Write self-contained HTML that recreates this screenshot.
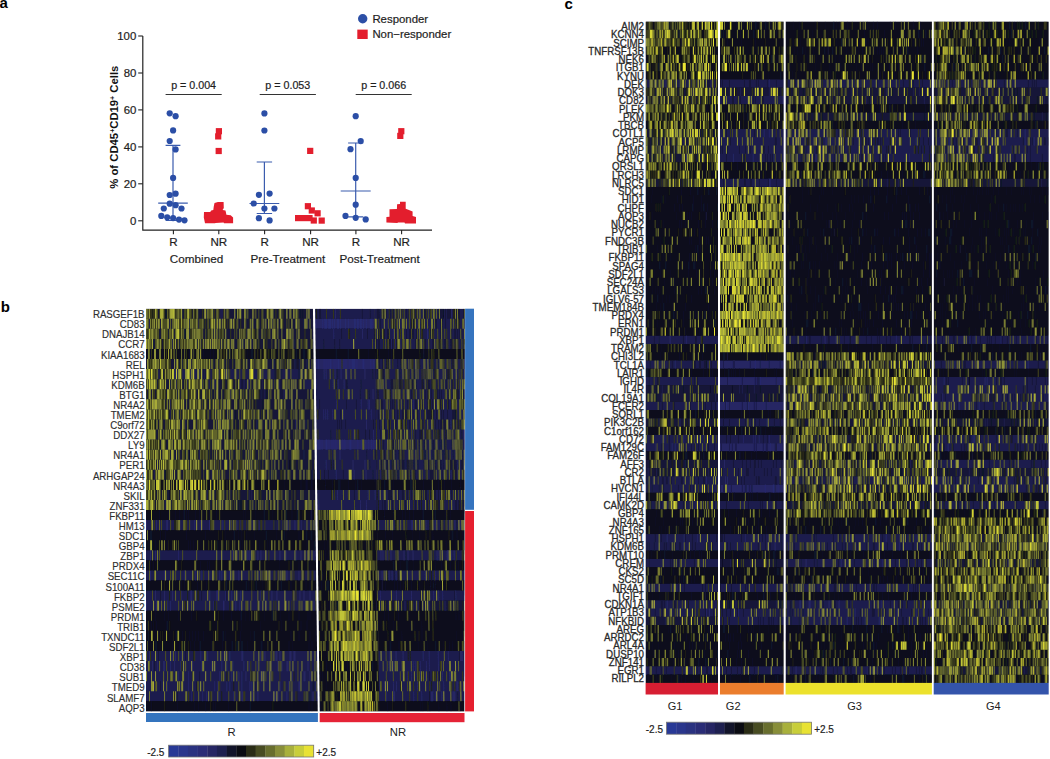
<!DOCTYPE html>
<html><head><meta charset="utf-8"><style>
html,body{margin:0;padding:0;background:#fff;}
body{width:1050px;height:759px;position:relative;overflow:hidden;font-family:"Liberation Sans",sans-serif;}
</style></head><body>
<svg width="1050" height="759" viewBox="0 0 1050 759" style="position:absolute;left:0;top:0" shape-rendering="auto">
<g font-family='"Liberation Sans", sans-serif' fill="#1e1e1e"><text x="-0.5" y="8.3" font-size="15" font-weight="bold" fill="#000">a</text>
<text x="0.8" y="311.7" font-size="15" font-weight="bold" fill="#000">b</text>
<text x="564.6" y="8.6" font-size="15" font-weight="bold" fill="#000">c</text>
<path d="M142.8 36.0V230.2H432" fill="none" stroke="#222" stroke-width="1.2"/>
<path d="M138.2 220.8H142.8" stroke="#222" stroke-width="1.1"/>
<text stroke="#1e1e1e" stroke-width="0.2" x="136.3" y="224.9" font-size="11.4" text-anchor="end">0</text>
<path d="M138.2 183.8H142.8" stroke="#222" stroke-width="1.1"/>
<text stroke="#1e1e1e" stroke-width="0.2" x="136.3" y="187.9" font-size="11.4" text-anchor="end">20</text>
<path d="M138.2 146.9H142.8" stroke="#222" stroke-width="1.1"/>
<text stroke="#1e1e1e" stroke-width="0.2" x="136.3" y="151.0" font-size="11.4" text-anchor="end">40</text>
<path d="M138.2 109.9H142.8" stroke="#222" stroke-width="1.1"/>
<text stroke="#1e1e1e" stroke-width="0.2" x="136.3" y="114.0" font-size="11.4" text-anchor="end">60</text>
<path d="M138.2 73.0H142.8" stroke="#222" stroke-width="1.1"/>
<text stroke="#1e1e1e" stroke-width="0.2" x="136.3" y="77.1" font-size="11.4" text-anchor="end">80</text>
<path d="M138.2 36.0H142.8" stroke="#222" stroke-width="1.1"/>
<text stroke="#1e1e1e" stroke-width="0.2" x="136.3" y="40.1" font-size="11.4" text-anchor="end">100</text>
<path d="M173.4 230V234.2" stroke="#222" stroke-width="1.1"/>
<text stroke="#1e1e1e" stroke-width="0.2" x="173.4" y="245.6" font-size="11.6" text-anchor="middle">R</text>
<path d="M218.8 230V234.2" stroke="#222" stroke-width="1.1"/>
<text stroke="#1e1e1e" stroke-width="0.2" x="218.8" y="245.6" font-size="11.6" text-anchor="middle">NR</text>
<path d="M264.6 230V234.2" stroke="#222" stroke-width="1.1"/>
<text stroke="#1e1e1e" stroke-width="0.2" x="264.6" y="245.6" font-size="11.6" text-anchor="middle">R</text>
<path d="M310.6 230V234.2" stroke="#222" stroke-width="1.1"/>
<text stroke="#1e1e1e" stroke-width="0.2" x="310.6" y="245.6" font-size="11.6" text-anchor="middle">NR</text>
<path d="M355.9 230V234.2" stroke="#222" stroke-width="1.1"/>
<text stroke="#1e1e1e" stroke-width="0.2" x="355.9" y="245.6" font-size="11.6" text-anchor="middle">R</text>
<path d="M401.6 230V234.2" stroke="#222" stroke-width="1.1"/>
<text stroke="#1e1e1e" stroke-width="0.2" x="401.6" y="245.6" font-size="11.6" text-anchor="middle">NR</text>
<text stroke="#1e1e1e" stroke-width="0.2" x="196.5" y="262.8" font-size="11.7" text-anchor="middle">Combined</text>
<text stroke="#1e1e1e" stroke-width="0.2" x="287.9" y="262.8" font-size="11.7" text-anchor="middle">Pre-Treatment</text>
<text stroke="#1e1e1e" stroke-width="0.2" x="379.6" y="262.8" font-size="11.7" text-anchor="middle">Post-Treatment</text>
<path d="M165.6 94.5H221.7" stroke="#333" stroke-width="1.2"/>
<text stroke="#1e1e1e" stroke-width="0.2" x="193.6" y="88.6" font-size="10.7" text-anchor="middle">p = 0.004</text>
<path d="M259.7 94.5H315.9" stroke="#333" stroke-width="1.2"/>
<text stroke="#1e1e1e" stroke-width="0.2" x="287.8" y="88.6" font-size="10.7" text-anchor="middle">p = 0.053</text>
<path d="M355.7 94.5H411.7" stroke="#333" stroke-width="1.2"/>
<text stroke="#1e1e1e" stroke-width="0.2" x="383.7" y="88.6" font-size="10.7" text-anchor="middle">p = 0.066</text>
<text transform="translate(118.2 127.2) rotate(-90)" font-size="11.3" font-weight="bold" text-anchor="middle" fill="#111">% of CD45<tspan font-size="7" dy="-3.5">+</tspan><tspan dy="3.5">CD19</tspan><tspan font-size="7" dy="-3.5">+</tspan><tspan dy="3.5"> Cells</tspan></text>
<circle cx="362.7" cy="18.7" r="4.7" fill="#2c4fa6"/>
<rect x="357.3" y="29.6" width="10.4" height="9.4" fill="#e31e2d"/>
<text stroke="#1e1e1e" stroke-width="0.2" x="372.4" y="23" font-size="11.4">Responder</text>
<text stroke="#1e1e1e" stroke-width="0.2" x="372.4" y="37.6" font-size="11.4">Non&#8722;responder</text>
<path d="M173.0 145.3V220.5M165.6 145.3H180.4M158.2 203.2H187.8M165.6 220.5H180.4" fill="none" stroke="#3b5cae" stroke-width="1.2"/>
<path d="M264.4 162.0V213.5M256.7 162.0H272.1M249.5 203.5H279.3M256.7 213.5H272.1" fill="none" stroke="#3b5cae" stroke-width="1.2"/>
<path d="M355.7 143.0V216.8M348.1 143.0H363.3M340.7 191.0H370.7M348.1 216.8H363.3" fill="none" stroke="#3b5cae" stroke-width="1.2"/>
<circle cx="169.7" cy="113.3" r="3.1" fill="#2b4ea6"/>
<circle cx="175.6" cy="116.2" r="3.1" fill="#2b4ea6"/>
<circle cx="173.1" cy="130.4" r="3.1" fill="#2b4ea6"/>
<circle cx="169.7" cy="141.0" r="3.1" fill="#2b4ea6"/>
<circle cx="175.6" cy="149.4" r="3.1" fill="#2b4ea6"/>
<circle cx="173.1" cy="177.9" r="3.1" fill="#2b4ea6"/>
<circle cx="169.7" cy="195.0" r="3.1" fill="#2b4ea6"/>
<circle cx="175.6" cy="193.7" r="3.1" fill="#2b4ea6"/>
<circle cx="169.7" cy="203.7" r="3.1" fill="#2b4ea6"/>
<circle cx="175.6" cy="205.2" r="3.1" fill="#2b4ea6"/>
<circle cx="163.8" cy="208.5" r="3.1" fill="#2b4ea6"/>
<circle cx="181.5" cy="208.5" r="3.1" fill="#2b4ea6"/>
<circle cx="161.3" cy="215.9" r="3.1" fill="#2b4ea6"/>
<circle cx="167.2" cy="217.3" r="3.1" fill="#2b4ea6"/>
<circle cx="173.1" cy="218.1" r="3.1" fill="#2b4ea6"/>
<circle cx="179.0" cy="219.6" r="3.1" fill="#2b4ea6"/>
<circle cx="184.5" cy="220.3" r="3.1" fill="#2b4ea6"/>
<circle cx="264.4" cy="113.4" r="3.1" fill="#2b4ea6"/>
<circle cx="264.4" cy="130.5" r="3.1" fill="#2b4ea6"/>
<circle cx="258.9" cy="194.8" r="3.1" fill="#2b4ea6"/>
<circle cx="269.6" cy="193.6" r="3.1" fill="#2b4ea6"/>
<circle cx="253.7" cy="203.5" r="3.1" fill="#2b4ea6"/>
<circle cx="264.4" cy="208.5" r="3.1" fill="#2b4ea6"/>
<circle cx="274.4" cy="208.5" r="3.1" fill="#2b4ea6"/>
<circle cx="258.9" cy="218.2" r="3.1" fill="#2b4ea6"/>
<circle cx="269.6" cy="220.4" r="3.1" fill="#2b4ea6"/>
<circle cx="355.7" cy="116.2" r="3.1" fill="#2b4ea6"/>
<circle cx="360.7" cy="141.1" r="3.1" fill="#2b4ea6"/>
<circle cx="350.5" cy="149.2" r="3.1" fill="#2b4ea6"/>
<circle cx="355.7" cy="177.9" r="3.1" fill="#2b4ea6"/>
<circle cx="355.7" cy="204.7" r="3.1" fill="#2b4ea6"/>
<circle cx="345.5" cy="215.9" r="3.1" fill="#2b4ea6"/>
<circle cx="355.7" cy="217.8" r="3.1" fill="#2b4ea6"/>
<circle cx="365.7" cy="219.4" r="3.1" fill="#2b4ea6"/>
<rect x="215.8" y="128.1" width="6.2" height="6.2" fill="#e31e2d"/>
<rect x="215.1" y="133.3" width="6.2" height="6.2" fill="#e31e2d"/>
<rect x="215.6" y="147.9" width="6.2" height="6.2" fill="#e31e2d"/>
<rect x="398.2" y="128.1" width="6.2" height="6.2" fill="#e31e2d"/>
<rect x="397.2" y="132.8" width="6.2" height="6.2" fill="#e31e2d"/>
<rect x="307.1" y="147.8" width="6.2" height="6.2" fill="#e31e2d"/>
<rect x="304.8" y="203.1" width="6.2" height="6.2" fill="#e31e2d"/>
<rect x="308.7" y="207.4" width="6.2" height="6.2" fill="#e31e2d"/>
<rect x="314.5" y="210.2" width="6.2" height="6.2" fill="#e31e2d"/>
<rect x="310.7" y="217.4" width="6.2" height="6.2" fill="#e31e2d"/>
<rect x="318.6" y="217.5" width="6.2" height="6.2" fill="#e31e2d"/>
<rect x="295" y="215" width="17.6" height="6.2" fill="#e31e2d"/>
<path d="M205.0 223.3L203.8 217.6L204.0 212.1L210.2 212.1L211.2 210.5L213.3 210.0L213.8 206.2L214.5 203.1L217.9 201.9L223.6 201.9L223.8 208.1L222.6 210.0L225.5 210.5L226.4 214.8L230.7 215.2L233.1 217.6L233.1 223.3L224.0 223.3L223.6 222.4L215.5 222.9L215.0 223.3Z" fill="#e31e2d"/>
<path d="M386.4 222.6L386.4 216.9L389.5 216.7L389.5 209.3L396.9 209.0L397.1 204.3L400.0 204.0L400.0 201.7L405.7 201.7L405.7 208.8L408.3 209.8L412.6 211.4L412.6 216.0L416.0 216.9L416.0 223.6L405.0 223.6L404.5 222.4L397.9 222.6L397.4 223.1Z" fill="#e31e2d"/></g>
<defs><filter id="bl" x="-1%" y="-1%" width="102%" height="102%"><feGaussianBlur stdDeviation="0.45 0.25"/></filter></defs>
<defs><clipPath id="cR"><path d="M146 308.70H312.95L317.75 711.40H146Z"/></clipPath><clipPath id="cN"><path d="M315.05 308.70H464.9L464.3 711.40H319.65Z"/></clipPath></defs>
<g clip-path="url(#cR)"><g filter="url(#bl)">
<rect x="146.00" y="308.70" width="172.50" height="402.70" fill="#0b0c1a"/>
<rect x="146.00" y="308.70" width="172.50" height="40.27" fill="#161838"/>
<rect x="146.00" y="348.97" width="172.50" height="10.07" fill="#0b0c1a"/>
<rect x="146.00" y="359.04" width="172.50" height="10.07" fill="#161838"/>
<rect x="146.00" y="369.10" width="172.50" height="10.07" fill="#1e1f4e"/>
<rect x="146.00" y="379.17" width="172.50" height="100.67" fill="#161838"/>
<rect x="146.00" y="479.85" width="172.50" height="10.07" fill="#0b0c1a"/>
<rect x="146.00" y="489.91" width="172.50" height="20.13" fill="#161838"/>
<rect x="146.00" y="510.05" width="172.50" height="10.07" fill="#0b0c1a"/>
<rect x="146.00" y="520.12" width="172.50" height="10.07" fill="#1e1f4e"/>
<rect x="146.00" y="530.18" width="172.50" height="20.13" fill="#0b0c1a"/>
<rect x="146.00" y="550.32" width="172.50" height="10.07" fill="#1e1f4e"/>
<rect x="146.00" y="560.39" width="172.50" height="10.07" fill="#0b0c1a"/>
<rect x="146.00" y="570.45" width="172.50" height="10.07" fill="#1e1f4e"/>
<rect x="146.00" y="580.52" width="172.50" height="10.07" fill="#0b0c1a"/>
<rect x="146.00" y="590.59" width="172.50" height="20.13" fill="#1e1f4e"/>
<rect x="146.00" y="610.72" width="172.50" height="40.27" fill="#0b0c1a"/>
<rect x="146.00" y="650.99" width="172.50" height="50.34" fill="#1e1f4e"/>
<rect x="146.00" y="701.33" width="172.50" height="10.07" fill="#0b0c1a"/>
<path transform="matrix(1.0029 0 0 10.0675 146.501 308.700)" stroke="#282a6f" stroke-width="1" d="M63 21v1M71 28v1M77 29v1M142 37v1"/>
<path transform="matrix(1.0029 0 0 10.0675 146.501 308.700)" stroke="#262664" stroke-width="1" d="M29 6v1M149 11v1M0 21v1m10 -1v1m10 -1v1m1 -1v1m27 -1v1m6 -1v1m22 -1v1m14 -1v1m4 -1v1m18 -1v1m29 -1v1m7 -1v1m7 -1v1M4 24v1m5 -1v1m23 -1v1m54 -1v1m15 -1v1m2 -1v1m8 -1v1m3 -1v1m19 -1v1m6 -1v1m10 -1v1m5 -1v1m13 -1v1m3 -1v1m1 -1v1M4 26v1m14 -1v1m20 -1v1m11 -1v1m6 -1v1m18 -1v1m2 -1v1m8 -1v1m9 -1v1m48 -1v1m12 -1v1m15 -1v1m4 -1v1M9 28v1m9 -1v1m8 -1v1m9 -1v1m9 -1v1m1 -1v1m5 -1v1m13 -1v1m7 -1v1m9 -1v1m6 -1v1m9 -1v1m20 -1v1m11 -1v1m5 -1v1m23 -1v1m4 -1v1m6 -1v1M0 29v1m10 -1v1m11 -1v1m3 -1v1m43 -1v1m22 -1v1m4 -1v1m74 -1v1M3 34v1m23 -1v1m3 -1v1m6 -1v1m19 -1v1m7 -1v1m18 -1v1m4 -1v1m12 -1v1m1 -1v1m18 -1v1m4 -1v1m11 -1v1m1 -1v1m3 -1v1m10 -1v1m1 -1v1m3 -1v1m1 -1v1m22 -1v1m1 -1v1M6 35v1m5 -1v1m6 -1v1m1 -1v1m6 -1v1m4 -1v1m6 -1v1m12 -1v1m9 -1v1m10 -1v1m10 -1v1m5 -1v1m6 -1v1m11 -1v1m6 -1v1m8 -1v1m20 -1v1m4 -1v1m5 -1v1m1 -1v1m20 -1v1M32 36v1m10 -1v1m31 -1v1m12 -1v1m7 -1v1m3 -1v1m4 -1v1m15 -1v1m2 -1v1m8 -1v1m22 -1v1m11 -1v1m1 -1v1m5 -1v1M21 37v1m21 -1v1m26 -1v1m3 -1v1m9 -1v1m3 -1v1m12 -1v1m8 -1v1m2 -1v1m28 -1v1m19 -1v1m1 -1v1m16 -1v1M45 38v1m11 -1v1m4 -1v1m12 -1v1m15 -1v1m8 -1v1m1 -1v1m10 -1v1m5 -1v1m17 -1v1m3 -1v1m9 -1v1m26 -1v1m5 -1v1"/>
<path transform="matrix(1.0029 0 0 10.0675 146.501 308.700)" stroke="#1e1f4e" stroke-width="1" d="M74 0v1m1 -1v1m1 -1v1m13 -1v1m80 -1v1M3 1v1m49 -1v1m74 -1v1m31 -1v1m5 -1v1M100 2v1M26 3v1m79 -1v1m42 -1v1m21 -1v1M127 5v1m21 -1v1m5 -1v1m7 -1v1M30 7v1m11 -1v1m15 -1v1m6 -1v1m1 -1v1m2 -1v1m3 -1v1m1 -1v1m24 -1v1m1 -1v1m3 -1v1m1 -1v1m2 -1v1m2 -1v1m1 -1v1m13 -1v1m8 -1v1m3 -1v1m5 -1v1m1 -1v1m15 -1v1m10 -1v1m1 -1v1m1 -1v1m1 -1v1m1 -1v1m1 -1v1m1 -1v1m3 -1v1M84 8v1m30 -1v1m4 -1v1m19 -1v1m1 -1v1M24 9v1m122 -1v1M24 10v1m39 -1v1m21 -1v1M39 11v1m32 -1v1m39 -1v1m15 -1v1m14 -1v1m20 -1v1M133 13v1m38 -1v1M53 14v1m104 -1v1M127 15v1M8 16v1m57 -1v1m47 -1v1m11 -1v1m43 -1v1M61 18v1m42 -1v1m2 -1v1M19 19v1m88 -1v1m11 -1v1"/>
<path transform="matrix(1.0029 0 0 10.0675 146.501 308.700)" stroke="#161838" stroke-width="1" d="M17 6v1m40 -1v1m2 -1v1m69 -1v1m1 -1v1m6 -1v1m17 -1v1m5 -1v1m13 -1v1M160 17v1m5 -1v1M164 20v1m1 -1v1M129 21v1m27 -1v1M107 26v1M14 28v1m41 -1v1m25 -1v1M115 33v1M12 34v1m27 -1v1m42 -1v1M8 35v1M53 36v1M14 37v1m36 -1v1m59 -1v1m57 -1v1m1 -1v1M31 38v1m132 -1v1"/>
<path transform="matrix(1.0029 0 0 10.0675 146.501 308.700)" stroke="#101229" stroke-width="1" d="M19 0v1m1 -1v1m70 -1v1m47 -1v1m17 -1v1m2 -1v1M144 1v1M39 2v1m70 -1v1m44 -1v1M113 3v1M4 4v1m12 -1v1m13 -1v1m8 -1v1m6 -1v1m3 -1v1m2 -1v1m7 -1v1m2 -1v1m7 -1v1m3 -1v1m6 -1v1m8 -1v1m1 -1v1m2 -1v1m3 -1v1m12 -1v1m2 -1v1m3 -1v1m1 -1v1m1 -1v1m3 -1v1m22 -1v1m2 -1v1m10 -1v1m6 -1v1m1 -1v1m6 -1v1m1 -1v1m1 -1v1M129 5v1m17 -1v1m5 -1v1M58 7v1M54 8v1m59 -1v1m7 -1v1M91 9v1m8 -1v1m8 -1v1m9 -1v1m53 -1v1M89 10v1m63 -1v1M9 11v1m81 -1v1m18 -1v1m34 -1v1M79 12v1m38 -1v1M97 13v1m2 -1v1M43 14v1M133 15v1M19 16v1m65 -1v1m44 -1v1M29 17v1m36 -1v1m1 -1v1m62 -1v1m10 -1v1m6 -1v1m10 -1v1m5 -1v1m12 -1v1M23 18v1m126 -1v1M92 19v1m2 -1v1m1 -1v1m7 -1v1m9 -1v1M13 20v1m9 -1v1m7 -1v1m4 -1v1m4 -1v1m1 -1v1m2 -1v1m2 -1v1m7 -1v1m4 -1v1m3 -1v1m7 -1v1m7 -1v1m27 -1v1m2 -1v1m10 -1v1m8 -1v1m1 -1v1m8 -1v1m11 -1v1m2 -1v1m1 -1v1m5 -1v1m5 -1v1m1 -1v1m8 -1v1M2 22v1m2 -1v1m1 -1v1m9 -1v1m5 -1v1m21 -1v1m19 -1v1m20 -1v1m8 -1v1m1 -1v1m4 -1v1m3 -1v1m5 -1v1m8 -1v1m11 -1v1m1 -1v1m10 -1v1m4 -1v1m3 -1v1m1 -1v1m2 -1v1m12 -1v1m7 -1v1m1 -1v1m4 -1v1m1 -1v1M6 23v1m3 -1v1m8 -1v1m4 -1v1m21 -1v1m2 -1v1m3 -1v1m24 -1v1m8 -1v1m8 -1v1m2 -1v1m5 -1v1m2 -1v1m3 -1v1m12 -1v1m2 -1v1m8 -1v1m2 -1v1m3 -1v1m8 -1v1m4 -1v1m22 -1v1m5 -1v1m2 -1v1m1 -1v1M4 25v1m3 -1v1m5 -1v1m38 -1v1m4 -1v1m7 -1v1m2 -1v1m22 -1v1m10 -1v1m17 -1v1m21 -1v1m11 -1v1m3 -1v1m5 -1v1m10 -1v1M27 27v1m8 -1v1m3 -1v1m13 -1v1m9 -1v1m19 -1v1m1 -1v1m19 -1v1m1 -1v1m2 -1v1m7 -1v1m1 -1v1m6 -1v1m9 -1v1m4 -1v1m5 -1v1m1 -1v1m9 -1v1m15 -1v1m4 -1v1m8 -1v1M9 30v1m9 -1v1m4 -1v1m10 -1v1m13 -1v1m22 -1v1m10 -1v1m8 -1v1m9 -1v1m1 -1v1m4 -1v1m4 -1v1m15 -1v1m7 -1v1m1 -1v1m2 -1v1m6 -1v1m8 -1v1m10 -1v1m9 -1v1m2 -1v1M1 31v1m4 -1v1m2 -1v1m3 -1v1m10 -1v1m1 -1v1m49 -1v1m18 -1v1m7 -1v1m19 -1v1m21 -1v1m19 -1v1m6 -1v1M2 32v1m10 -1v1m17 -1v1m1 -1v1m6 -1v1m7 -1v1m3 -1v1m3 -1v1m3 -1v1m5 -1v1m19 -1v1m1 -1v1m2 -1v1m15 -1v1m10 -1v1m3 -1v1m1 -1v1m14 -1v1m3 -1v1m19 -1v1m8 -1v1m11 -1v1m6 -1v1M2 33v1m7 -1v1m1 -1v1m16 -1v1m7 -1v1m11 -1v1m4 -1v1m5 -1v1m1 -1v1m11 -1v1m11 -1v1m4 -1v1m5 -1v1m1 -1v1m4 -1v1m1 -1v1m3 -1v1m1 -1v1m1 -1v1m5 -1v1m6 -1v1m7 -1v1m2 -1v1m6 -1v1m8 -1v1m12 -1v1m4 -1v1m16 -1v1m3 -1v1M5 39v1m26 -1v1m17 -1v1m4 -1v1m7 -1v1m8 -1v1m2 -1v1m13 -1v1m21 -1v1m1 -1v1m20 -1v1m38 -1v1m3 -1v1"/>
<path transform="matrix(1.0029 0 0 10.0675 146.501 308.700)" stroke="#0b0c1a" stroke-width="1" d="M83 12v1M143 15v1"/>
<path transform="matrix(1.0029 0 0 10.0675 146.501 308.700)" stroke="#20211a" stroke-width="1" d="M6 0v1m43 -1v1M121 4v1m20 -1v1M50 17v1m30 -1v1m1 -1v1M156 20v1M28 21v1m1 -1v1m82 -1v1m22 -1v1M72 22v1m4 -1v1m22 -1v1M22 23v1m48 -1v1M35 25v1m34 -1v1m73 -1v1M157 26v1M18 27v1m26 -1v1m63 -1v1m12 -1v1m23 -1v1M23 28v1m18 -1v1m10 -1v1m1 -1v1M39 29v1m29 -1v1m15 -1v1M50 30v1m22 -1v1m37 -1v1m3 -1v1M23 31v1m67 -1v1m1 -1v1m41 -1v1M14 32v1m2 -1v1m11 -1v1m12 -1v1m28 -1v1M42 33v1m47 -1v1M47 34v1M80 36v1m25 -1v1m42 -1v1m19 -1v1M87 37v1M28 38v1m47 -1v1m75 -1v1M18 39v1m46 -1v1m62 -1v1"/>
<path transform="matrix(1.0029 0 0 10.0675 146.501 308.700)" stroke="#34361a" stroke-width="1" d="M4 0v1m1 -1v1m2 -1v1m1 -1v1m5 -1v1m5 -1v1m4 -1v1m7 -1v1m11 -1v1m5 -1v1m3 -1v1m8 -1v1m12 -1v1m9 -1v1m15 -1v1m31 -1v1m6 -1v1m3 -1v1m38 -1v1M5 1v1m4 -1v1m24 -1v1m1 -1v1m2 -1v1m23 -1v1m18 -1v1m2 -1v1m2 -1v1m7 -1v1m6 -1v1m9 -1v1m26 -1v1m7 -1v1M1 2v1m33 -1v1m10 -1v1m1 -1v1m16 -1v1m3 -1v1m10 -1v1m1 -1v1m9 -1v1m10 -1v1m2 -1v1m3 -1v1m8 -1v1m1 -1v1m11 -1v1m2 -1v1m37 -1v1M15 3v1m2 -1v1m2 -1v1m9 -1v1m3 -1v1m6 -1v1m10 -1v1m6 -1v1m3 -1v1m7 -1v1m14 -1v1m26 -1v1m7 -1v1m8 -1v1m2 -1v1m21 -1v1m16 -1v1M5 4v1m15 -1v1m20 -1v1m37 -1v1m1 -1v1m20 -1v1m13 -1v1m6 -1v1m5 -1v1m20 -1v1m2 -1v1M3 5v1m2 -1v1m8 -1v1m6 -1v1m1 -1v1m3 -1v1m1 -1v1m8 -1v1m2 -1v1m6 -1v1m22 -1v1m20 -1v1m12 -1v1m2 -1v1m10 -1v1m9 -1v1m23 -1v1m1 -1v1M9 6v1m5 -1v1m4 -1v1m2 -1v1m5 -1v1m29 -1v1m9 -1v1m11 -1v1m3 -1v1m6 -1v1m47 -1v1m1 -1v1m1 -1v1m29 -1v1m1 -1v1M12 7v1m6 -1v1m9 -1v1m7 -1v1m5 -1v1m13 -1v1m12 -1v1m14 -1v1m8 -1v1m4 -1v1m30 -1v1m1 -1v1m31 -1v1M0 8v1m7 -1v1m1 -1v1m2 -1v1m7 -1v1m2 -1v1m6 -1v1m4 -1v1m9 -1v1m5 -1v1m1 -1v1m17 -1v1m1 -1v1m16 -1v1m14 -1v1m18 -1v1m2 -1v1M3 9v1m13 -1v1m4 -1v1m5 -1v1m9 -1v1m15 -1v1m2 -1v1m9 -1v1m24 -1v1m21 -1v1m4 -1v1m28 -1v1m13 -1v1m13 -1v1M9 10v1m2 -1v1m5 -1v1m1 -1v1m5 -1v1m4 -1v1m17 -1v1m6 -1v1m10 -1v1m6 -1v1m13 -1v1m25 -1v1m1 -1v1m11 -1v1m3 -1v1m22 -1v1m31 -1v1M4 11v1m18 -1v1m2 -1v1m18 -1v1m12 -1v1m7 -1v1m23 -1v1m10 -1v1m2 -1v1m1 -1v1m5 -1v1m25 -1v1m3 -1v1m2 -1v1M18 12v1m5 -1v1m2 -1v1m4 -1v1m4 -1v1m2 -1v1m3 -1v1m1 -1v1m5 -1v1m7 -1v1m6 -1v1m4 -1v1m29 -1v1m1 -1v1m1 -1v1m2 -1v1m10 -1v1m8 -1v1m1 -1v1m25 -1v1m5 -1v1m19 -1v1M4 13v1m3 -1v1m2 -1v1m2 -1v1m2 -1v1m6 -1v1m12 -1v1m8 -1v1m4 -1v1m3 -1v1m2 -1v1m1 -1v1m5 -1v1m6 -1v1m26 -1v1m2 -1v1m1 -1v1m6 -1v1m17 -1v1m1 -1v1m3 -1v1m2 -1v1m4 -1v1m20 -1v1M2 14v1m6 -1v1m5 -1v1m25 -1v1m9 -1v1m3 -1v1m5 -1v1m1 -1v1m2 -1v1m5 -1v1m9 -1v1m17 -1v1m6 -1v1m12 -1v1m1 -1v1m32 -1v1M0 15v1m3 -1v1m3 -1v1m8 -1v1m7 -1v1m9 -1v1m1 -1v1m10 -1v1m5 -1v1m5 -1v1m3 -1v1m8 -1v1m1 -1v1m4 -1v1m4 -1v1m17 -1v1m1 -1v1m4 -1v1m1 -1v1m1 -1v1m12 -1v1m6 -1v1m27 -1v1m8 -1v1m16 -1v1M1 16v1m1 -1v1m18 -1v1m1 -1v1m17 -1v1m7 -1v1m2 -1v1m2 -1v1m3 -1v1m2 -1v1m42 -1v1m12 -1v1m1 -1v1m4 -1v1m1 -1v1m20 -1v1m1 -1v1m2 -1v1m30 -1v1M1 18v1m5 -1v1m1 -1v1m2 -1v1m8 -1v1m7 -1v1m6 -1v1m1 -1v1m16 -1v1m15 -1v1m8 -1v1m1 -1v1m15 -1v1m7 -1v1m19 -1v1m2 -1v1m20 -1v1m11 -1v1M11 19v1m20 -1v1m6 -1v1m5 -1v1m5 -1v1m4 -1v1m5 -1v1m27 -1v1m3 -1v1m10 -1v1m1 -1v1m16 -1v1m7 -1v1m5 -1v1m17 -1v1m6 -1v1M122 20v1M8 21v1m32 -1v1m24 -1v1m14 -1v1m10 -1v1m5 -1v1m2 -1v1m1 -1v1m4 -1v1m10 -1v1m4 -1v1m1 -1v1m3 -1v1m9 -1v1m9 -1v1m29 -1v1M26 23v1m1 -1v1m35 -1v1m20 -1v1m36 -1v1m15 -1v1m21 -1v1M94 24v1m28 -1v1M3 25v1m79 -1v1M47 26v1m10 -1v1m12 -1v1m34 -1v1m14 -1v1m10 -1v1m4 -1v1m6 -1v1m10 -1v1m15 -1v1m3 -1v1m1 -1v1M62 27v1m16 -1v1m27 -1v1m16 -1v1M34 28v1m14 -1v1m67 -1v1m7 -1v1m24 -1v1m3 -1v1m22 -1v1M20 29v1m18 -1v1m32 -1v1m57 -1v1m2 -1v1m16 -1v1m17 -1v1M146 30v1M2 31v1m61 -1v1m1 -1v1m7 -1v1M71 32v1m18 -1v1M35 33v1m31 -1v1m1 -1v1m12 -1v1m42 -1v1M4 34v1m44 -1v1M35 35v1m69 -1v1m16 -1v1m13 -1v1m31 -1v1M76 36v1m33 -1v1m17 -1v1m7 -1v1m36 -1v1M73 37v1m39 -1v1m25 -1v1M42 38v1m5 -1v1m17 -1v1m28 -1v1m5 -1v1m1 -1v1m45 -1v1m6 -1v1m8 -1v1m4 -1v1m7 -1v1"/>
<path transform="matrix(1.0029 0 0 10.0675 146.501 308.700)" stroke="#4a4d22" stroke-width="1" d="M2 0v1m9 -1v1m19 -1v1m3 -1v1m1 -1v1m4 -1v1m1 -1v1m4 -1v1m1 -1v1m19 -1v1m9 -1v1m10 -1v1m30 -1v1m3 -1v1m5 -1v1m2 -1v1m14 -1v1m15 -1v1M2 1v1m9 -1v1m6 -1v1m1 -1v1m1 -1v1m1 -1v1m17 -1v1m10 -1v1m1 -1v1m1 -1v1m4 -1v1m1 -1v1m1 -1v1m2 -1v1m4 -1v1m1 -1v1m2 -1v1m3 -1v1m16 -1v1m7 -1v1m9 -1v1m13 -1v1m3 -1v1m25 -1v1m2 -1v1M0 2v1m2 -1v1m6 -1v1m3 -1v1m1 -1v1m7 -1v1m1 -1v1m1 -1v1m4 -1v1m8 -1v1m3 -1v1m19 -1v1m4 -1v1m4 -1v1m14 -1v1m11 -1v1m2 -1v1m20 -1v1m8 -1v1m4 -1v1m7 -1v1M5 3v1m4 -1v1m4 -1v1m7 -1v1m1 -1v1m3 -1v1m10 -1v1m5 -1v1m1 -1v1m8 -1v1m23 -1v1m20 -1v1m1 -1v1m20 -1v1m13 -1v1m3 -1v1m15 -1v1m1 -1v1m1 -1v1m9 -1v1m1 -1v1m3 -1v1m6 -1v1M27 4v1m1 -1v1m2 -1v1m17 -1v1m27 -1v1m1 -1v1m13 -1v1m8 -1v1m1 -1v1m11 -1v1m20 -1v1m33 -1v1M4 5v1m33 -1v1m13 -1v1m4 -1v1m2 -1v1m1 -1v1m2 -1v1m10 -1v1m4 -1v1m2 -1v1m11 -1v1m12 -1v1m11 -1v1m5 -1v1m22 -1v1m18 -1v1m16 -1v1M4 6v1m3 -1v1m3 -1v1m25 -1v1m31 -1v1m1 -1v1m1 -1v1m4 -1v1m21 -1v1m3 -1v1m1 -1v1m1 -1v1m13 -1v1m1 -1v1m9 -1v1m46 -1v1M0 7v1m2 -1v1m24 -1v1m5 -1v1m11 -1v1m3 -1v1m4 -1v1m4 -1v1m4 -1v1m20 -1v1m4 -1v1m30 -1v1m17 -1v1m15 -1v1M2 8v1m12 -1v1m2 -1v1m8 -1v1m2 -1v1m7 -1v1m6 -1v1m2 -1v1m5 -1v1m7 -1v1m7 -1v1m5 -1v1m3 -1v1m11 -1v1m12 -1v1m6 -1v1m2 -1v1m5 -1v1m2 -1v1m23 -1v1M5 9v1m12 -1v1m28 -1v1m11 -1v1m8 -1v1m2 -1v1m8 -1v1m19 -1v1m2 -1v1m6 -1v1m22 -1v1m7 -1v1m31 -1v1m3 -1v1M1 10v1m4 -1v1m1 -1v1m6 -1v1m2 -1v1m4 -1v1m7 -1v1m4 -1v1m5 -1v1m2 -1v1m4 -1v1m1 -1v1m3 -1v1m3 -1v1m7 -1v1m1 -1v1m6 -1v1m1 -1v1m14 -1v1m19 -1v1m4 -1v1m1 -1v1m1 -1v1m9 -1v1m1 -1v1m14 -1v1m13 -1v1m6 -1v1m1 -1v1M3 11v1m3 -1v1m2 -1v1m8 -1v1m3 -1v1m1 -1v1m1 -1v1m8 -1v1m9 -1v1m13 -1v1m1 -1v1m4 -1v1m4 -1v1m29 -1v1m15 -1v1m57 -1v1M1 12v1m12 -1v1m8 -1v1m6 -1v1m5 -1v1m13 -1v1m9 -1v1m5 -1v1m4 -1v1m8 -1v1m17 -1v1m1 -1v1m7 -1v1m5 -1v1m13 -1v1m12 -1v1m11 -1v1m10 -1v1m11 -1v1m9 -1v1M2 13v1m3 -1v1m5 -1v1m20 -1v1m6 -1v1m11 -1v1m12 -1v1m4 -1v1m19 -1v1m1 -1v1m28 -1v1m8 -1v1m6 -1v1m31 -1v1m10 -1v1M4 14v1m2 -1v1m6 -1v1m10 -1v1m11 -1v1m4 -1v1m14 -1v1m8 -1v1m2 -1v1m5 -1v1m20 -1v1m28 -1v1m11 -1v1m3 -1v1m10 -1v1M5 15v1m11 -1v1m2 -1v1m2 -1v1m2 -1v1m5 -1v1m1 -1v1m4 -1v1m1 -1v1m4 -1v1m1 -1v1m15 -1v1m5 -1v1m12 -1v1m2 -1v1m15 -1v1m3 -1v1m21 -1v1m5 -1v1m6 -1v1m30 -1v1m18 -1v1M9 16v1m2 -1v1m11 -1v1m1 -1v1m16 -1v1m4 -1v1m5 -1v1m2 -1v1m1 -1v1m2 -1v1m4 -1v1m11 -1v1m1 -1v1m9 -1v1m7 -1v1m1 -1v1m8 -1v1m5 -1v1m3 -1v1m1 -1v1m15 -1v1m4 -1v1m21 -1v1m18 -1v1m2 -1v1M2 17v1m2 -1v1m1 -1v1m9 -1v1m3 -1v1M0 18v1m4 -1v1m8 -1v1m2 -1v1m12 -1v1m15 -1v1m3 -1v1m5 -1v1m5 -1v1m22 -1v1m4 -1v1m1 -1v1m8 -1v1m1 -1v1m11 -1v1m27 -1v1m5 -1v1m15 -1v1M3 19v1m5 -1v1m18 -1v1m1 -1v1m12 -1v1m10 -1v1m5 -1v1m8 -1v1m1 -1v1m25 -1v1m15 -1v1m6 -1v1m12 -1v1m15 -1v1m1 -1v1m7 -1v1m14 -1v1m9 -1v1m1 -1v1M64 20v1m1 -1v1m8 -1v1m62 -1v1m17 -1v1M15 21v1m9 -1v1m6 -1v1m1 -1v1m8 -1v1m4 -1v1m22 -1v1m1 -1v1m8 -1v1m11 -1v1m4 -1v1m43 -1v1m11 -1v1m8 -1v1m1 -1v1m17 -1v1M13 23v1m17 -1v1m2 -1v1m33 -1v1m11 -1v1m12 -1v1m15 -1v1m68 -1v1M13 24v1m23 -1v1m57 -1v1m15 -1v1M118 25v1m43 -1v1M24 26v1m5 -1v1m5 -1v1m19 -1v1m17 -1v1m32 -1v1m3 -1v1m3 -1v1m1 -1v1m7 -1v1m12 -1v1m17 -1v1M41 27v1m14 -1v1m31 -1v1m36 -1v1m27 -1v1M6 28v1m99 -1v1M32 29v1m27 -1v1m26 -1v1m14 -1v1m1 -1v1m11 -1v1m12 -1v1m24 -1v1m5 -1v1m17 -1v1M34 30v1m71 -1v1m22 -1v1m2 -1v1M151 31v1M1 33v1m35 -1v1m56 -1v1M19 34v1m13 -1v1m83 -1v1m9 -1v1m1 -1v1M20 35v1m89 -1v1m42 -1v1M46 36v1m18 -1v1m18 -1v1m22 -1v1m2 -1v1m13 -1v1m32 -1v1M9 37v1m23 -1v1m19 -1v1m1 -1v1m20 -1v1m20 -1v1m46 -1v1M65 38v1m17 -1v1m6 -1v1m70 -1v1"/>
<path transform="matrix(1.0029 0 0 10.0675 146.501 308.700)" stroke="#60642a" stroke-width="1" d="M1 0v1m20 -1v1m2 -1v1m8 -1v1m19 -1v1m12 -1v1m2 -1v1m6 -1v1m1 -1v1m9 -1v1m1 -1v1m20 -1v1m6 -1v1m2 -1v1m7 -1v1M7 1v1m17 -1v1m2 -1v1m1 -1v1m12 -1v1m6 -1v1m6 -1v1m19 -1v1m21 -1v1m25 -1v1m12 -1v1M4 2v1m3 -1v1m2 -1v1m6 -1v1m2 -1v1m6 -1v1m1 -1v1m3 -1v1m2 -1v1m8 -1v1m10 -1v1m2 -1v1m5 -1v1m2 -1v1m6 -1v1m9 -1v1m2 -1v1m3 -1v1m22 -1v1m18 -1v1m7 -1v1m27 -1v1M1 3v1m3 -1v1m6 -1v1m12 -1v1m3 -1v1m10 -1v1m1 -1v1m6 -1v1m18 -1v1m7 -1v1m2 -1v1m3 -1v1m1 -1v1m10 -1v1m25 -1v1m24 -1v1m18 -1v1m9 -1v1m1 -1v1M3 4v1m21 -1v1m14 -1v1m6 -1v1m6 -1v1m44 -1v1m20 -1v1m13 -1v1m5 -1v1m3 -1v1m12 -1v1m6 -1v1m17 -1v1M2 5v1m4 -1v1m5 -1v1m4 -1v1m1 -1v1m1 -1v1m1 -1v1m4 -1v1m16 -1v1m8 -1v1m6 -1v1m9 -1v1m5 -1v1m8 -1v1m6 -1v1m9 -1v1m1 -1v1m17 -1v1m3 -1v1m3 -1v1m6 -1v1m11 -1v1m2 -1v1m33 -1v1m2 -1v1M1 6v1m7 -1v1m3 -1v1m10 -1v1m2 -1v1m47 -1v1m12 -1v1m6 -1v1m28 -1v1m17 -1v1m11 -1v1M10 7v1m3 -1v1m15 -1v1m4 -1v1m1 -1v1m5 -1v1m6 -1v1m6 -1v1m11 -1v1m28 -1v1m15 -1v1M18 8v1m5 -1v1m12 -1v1m1 -1v1m1 -1v1m10 -1v1m2 -1v1m31 -1v1m1 -1v1m4 -1v1m10 -1v1m8 -1v1m8 -1v1m13 -1v1m37 -1v1M2 9v1m13 -1v1m12 -1v1m4 -1v1m5 -1v1m7 -1v1m3 -1v1m4 -1v1m20 -1v1m1 -1v1m1 -1v1m22 -1v1m12 -1v1m14 -1v1m32 -1v1m1 -1v1m2 -1v1m4 -1v1M3 10v1m27 -1v1m8 -1v1m15 -1v1m3 -1v1m10 -1v1m1 -1v1m6 -1v1m10 -1v1m24 -1v1m1 -1v1m16 -1v1m13 -1v1m10 -1v1m3 -1v1m6 -1v1m1 -1v1m7 -1v1M1 11v1m9 -1v1m1 -1v1m2 -1v1m36 -1v1m10 -1v1m9 -1v1m12 -1v1m5 -1v1m1 -1v1m7 -1v1m44 -1v1m3 -1v1m10 -1v1m5 -1v1m11 -1v1M9 12v1m3 -1v1m3 -1v1m2 -1v1m2 -1v1m18 -1v1m12 -1v1m15 -1v1m1 -1v1m2 -1v1m1 -1v1m1 -1v1m1 -1v1m15 -1v1m2 -1v1m15 -1v1m9 -1v1m4 -1v1m36 -1v1M8 13v1m17 -1v1m15 -1v1m1 -1v1m4 -1v1m6 -1v1m16 -1v1m6 -1v1m23 -1v1m7 -1v1m26 -1v1m6 -1v1m30 -1v1M5 14v1m11 -1v1m7 -1v1m9 -1v1m4 -1v1m5 -1v1m13 -1v1m3 -1v1m3 -1v1m25 -1v1m7 -1v1m1 -1v1m6 -1v1m1 -1v1m21 -1v1m10 -1v1m14 -1v1m1 -1v1m2 -1v1m2 -1v1m2 -1v1M1 15v1m7 -1v1m21 -1v1m16 -1v1m3 -1v1m18 -1v1m17 -1v1m13 -1v1m25 -1v1m4 -1v1m11 -1v1m9 -1v1M4 16v1m2 -1v1m9 -1v1m16 -1v1m3 -1v1m3 -1v1m4 -1v1m1 -1v1m4 -1v1m24 -1v1m3 -1v1m2 -1v1m8 -1v1m6 -1v1m38 -1v1m14 -1v1m1 -1v1m12 -1v1m6 -1v1m9 -1v1M1 17v1m5 -1v1m1 -1v1m11 -1v1m3 -1v1m10 -1v1m26 -1v1m10 -1v1m29 -1v1M19 18v1m1 -1v1m9 -1v1m3 -1v1m10 -1v1m9 -1v1m21 -1v1m11 -1v1m9 -1v1m18 -1v1m1 -1v1m21 -1v1m3 -1v1m6 -1v1m15 -1v1M7 19v1m8 -1v1m1 -1v1m19 -1v1m1 -1v1m2 -1v1m14 -1v1m5 -1v1m1 -1v1m2 -1v1m6 -1v1m2 -1v1m4 -1v1m10 -1v1m22 -1v1m2 -1v1m10 -1v1m47 -1v1M55 20v1m5 -1v1m78 -1v1M5 21v1m8 -1v1m24 -1v1m1 -1v1m29 -1v1m35 -1v1m1 -1v1m1 -1v1m34 -1v1m22 -1v1M16 23v1m35 -1v1m24 -1v1m5 -1v1m18 -1v1m2 -1v1M50 24v1m34 -1v1m3 -1v1m11 -1v1m8 -1v1m1 -1v1m21 -1v1M11 25v1m19 -1v1m18 -1v1m22 -1v1m35 -1v1m41 -1v1M3 26v1m5 -1v1m18 -1v1m1 -1v1m12 -1v1m23 -1v1m17 -1v1m7 -1v1m28 -1v1m4 -1v1m14 -1v1m12 -1v1m11 -1v1m6 -1v1M26 27v1m7 -1v1m40 -1v1m10 -1v1m48 -1v1m23 -1v1m11 -1v1M29 28v1m43 -1v1m16 -1v1m23 -1v1M15 29v1m30 -1v1m56 -1v1m3 -1v1m20 -1v1m18 -1v1m11 -1v1m2 -1v1m15 -1v1M108 30v1M86 31v1m53 -1v1M31 32v1m99 -1v1m17 -1v1m12 -1v1M38 33v1M0 34v1m27 -1v1m32 -1v1m12 -1v1m36 -1v1m9 -1v1m11 -1v1m9 -1v1M3 35v1m10 -1v1m26 -1v1m45 -1v1m1 -1v1m16 -1v1m11 -1v1m9 -1v1m2 -1v1m9 -1v1m2 -1v1m9 -1v1m25 -1v1M17 36v1m4 -1v1m3 -1v1m2 -1v1m3 -1v1m46 -1v1m15 -1v1m18 -1v1m17 -1v1M10 37v1m10 -1v1m37 -1v1m75 -1v1m11 -1v1m2 -1v1m17 -1v1M39 38v1m13 -1v1m19 -1v1m64 -1v1m25 -1v1M90 39v1"/>
<path transform="matrix(1.0029 0 0 10.0675 146.501 308.700)" stroke="#777b31" stroke-width="1" d="M0 0v1m10 -1v1m7 -1v1m15 -1v1m15 -1v1m4 -1v1m10 -1v1m17 -1v1m21 -1v1m45 -1v1m5 -1v1m1 -1v1m18 -1v1M1 1v1m3 -1v1m2 -1v1m7 -1v1m3 -1v1m13 -1v1m2 -1v1m7 -1v1m2 -1v1m4 -1v1m12 -1v1m18 -1v1m36 -1v1m1 -1v1m6 -1v1m7 -1v1m1 -1v1m2 -1v1m25 -1v1m7 -1v1m4 -1v1M5 2v1m5 -1v1m6 -1v1m30 -1v1m4 -1v1m1 -1v1m1 -1v1m1 -1v1m12 -1v1m1 -1v1m4 -1v1m25 -1v1m2 -1v1m4 -1v1m3 -1v1m7 -1v1m4 -1v1m16 -1v1m4 -1v1m11 -1v1m18 -1v1M3 3v1m9 -1v1m6 -1v1m14 -1v1m6 -1v1m5 -1v1m1 -1v1m1 -1v1m1 -1v1m8 -1v1m25 -1v1m7 -1v1m7 -1v1m7 -1v1m7 -1v1m28 -1v1m1 -1v1m10 -1v1m19 -1v1m5 -1v1M2 4v1m11 -1v1m1 -1v1m4 -1v1m17 -1v1m16 -1v1m21 -1v1m11 -1v1m3 -1v1m3 -1v1m1 -1v1m3 -1v1m26 -1v1m6 -1v1m21 -1v1M8 5v1m2 -1v1m2 -1v1m18 -1v1m5 -1v1m12 -1v1m6 -1v1m5 -1v1m7 -1v1m5 -1v1m1 -1v1m6 -1v1m14 -1v1m2 -1v1m18 -1v1m23 -1v1m9 -1v1m1 -1v1m27 -1v1M22 6v1m24 -1v1m76 -1v1m17 -1v1m15 -1v1m4 -1v1m7 -1v1M4 7v1m3 -1v1m2 -1v1m6 -1v1m1 -1v1m9 -1v1m15 -1v1m11 -1v1m8 -1v1m1 -1v1m6 -1v1m4 -1v1m6 -1v1m31 -1v1m1 -1v1m28 -1v1m1 -1v1m5 -1v1m11 -1v1m4 -1v1M4 8v1m2 -1v1m7 -1v1m2 -1v1m13 -1v1m2 -1v1m45 -1v1m8 -1v1m6 -1v1m1 -1v1m53 -1v1m22 -1v1M0 9v1m4 -1v1m7 -1v1m1 -1v1m1 -1v1m5 -1v1m3 -1v1m2 -1v1m3 -1v1m2 -1v1m5 -1v1m7 -1v1m14 -1v1m21 -1v1m2 -1v1m1 -1v1m1 -1v1m10 -1v1m1 -1v1m13 -1v1m16 -1v1m9 -1v1M7 10v1m3 -1v1m3 -1v1m6 -1v1m13 -1v1m7 -1v1m9 -1v1m23 -1v1m1 -1v1m20 -1v1m13 -1v1m17 -1v1m13 -1v1m14 -1v1m4 -1v1m12 -1v1M0 11v1m14 -1v1m13 -1v1m1 -1v1m2 -1v1m2 -1v1m1 -1v1m4 -1v1m4 -1v1m12 -1v1m14 -1v1m3 -1v1m3 -1v1m1 -1v1m4 -1v1m23 -1v1m2 -1v1m4 -1v1m5 -1v1m1 -1v1m2 -1v1m5 -1v1m3 -1v1m22 -1v1M20 12v1m2 -1v1m4 -1v1m16 -1v1m4 -1v1m10 -1v1m4 -1v1m20 -1v1m27 -1v1m1 -1v1m12 -1v1m1 -1v1m1 -1v1m6 -1v1m3 -1v1M0 13v1m6 -1v1m9 -1v1m3 -1v1m6 -1v1m2 -1v1m12 -1v1m4 -1v1m8 -1v1m7 -1v1m5 -1v1m8 -1v1m8 -1v1m2 -1v1m13 -1v1m5 -1v1m3 -1v1m5 -1v1m20 -1v1m4 -1v1m2 -1v1M10 14v1m1 -1v1m7 -1v1m9 -1v1m13 -1v1m5 -1v1m23 -1v1m11 -1v1m12 -1v1m13 -1v1m8 -1v1m4 -1v1m3 -1v1m5 -1v1m6 -1v1M4 15v1m19 -1v1m19 -1v1m5 -1v1m18 -1v1m9 -1v1m34 -1v1m1 -1v1m10 -1v1m9 -1v1m4 -1v1m22 -1v1M3 16v1m11 -1v1m11 -1v1m37 -1v1m28 -1v1m5 -1v1m24 -1v1m6 -1v1m13 -1v1m10 -1v1m5 -1v1M0 17v1m8 -1v1m14 -1v1m3 -1v1m12 -1v1m21 -1v1m2 -1v1m17 -1v1m20 -1v1m10 -1v1M11 18v1m5 -1v1m9 -1v1m10 -1v1m2 -1v1m6 -1v1m13 -1v1m19 -1v1m2 -1v1m77 -1v1M2 19v1m10 -1v1m2 -1v1m3 -1v1m5 -1v1m6 -1v1m6 -1v1m9 -1v1m36 -1v1m2 -1v1m33 -1v1m5 -1v1m8 -1v1m1 -1v1m12 -1v1M23 20v1m81 -1v1m27 -1v1M32 21v1m1 -1v1m54 -1v1m21 -1v1m32 -1v1m24 -1v1m3 -1v1M1 22v1M15 23v1m3 -1v1m39 -1v1m29 -1v1m42 -1v1m4 -1v1m4 -1v1m6 -1v1m1 -1v1m10 -1v1M6 24v1m5 -1v1m59 -1v1m20 -1v1m58 -1v1m13 -1v1m4 -1v1M49 25v1m35 -1v1m20 -1v1m9 -1v1M46 26v1m21 -1v1m20 -1v1m24 -1v1m8 -1v1m1 -1v1m2 -1v1m12 -1v1m4 -1v1M15 27v1m57 -1v1m83 -1v1M49 28v1m12 -1v1m21 -1v1m14 -1v1m51 -1v1M11 29v1m7 -1v1m29 -1v1m16 -1v1m23 -1v1m9 -1v1m21 -1v1m43 -1v1m1 -1v1m1 -1v1m3 -1v1m1 -1v1M5 30v1m105 -1v1M6 32v1m111 -1v1M108 33v1m17 -1v1M36 34v1m6 -1v1m16 -1v1m16 -1v1m38 -1v1m25 -1v1m24 -1v1m7 -1v1M2 35v1m54 -1v1m1 -1v1m22 -1v1m67 -1v1m9 -1v1M25 36v1m11 -1v1m1 -1v1m40 -1v1m10 -1v1m20 -1v1m4 -1v1m43 -1v1M33 37v1m2 -1v1m11 -1v1m71 -1v1m37 -1v1m16 -1v1M3 38v1m15 -1v1m22 -1v1m22 -1v1m45 -1v1m38 -1v1"/>
<path transform="matrix(1.0029 0 0 10.0675 146.501 308.700)" stroke="#8e9238" stroke-width="1" d="M3 0v1m25 -1v1m30 -1v1m7 -1v1m1 -1v1m22 -1v1m5 -1v1m1 -1v1m12 -1v1m18 -1v1m2 -1v1m7 -1v1m1 -1v1m9 -1v1m17 -1v1M0 1v1m8 -1v1m2 -1v1m2 -1v1m9 -1v1m1 -1v1m6 -1v1m13 -1v1m5 -1v1m4 -1v1m26 -1v1m8 -1v1m1 -1v1m13 -1v1m6 -1v1m15 -1v1m15 -1v1m1 -1v1m14 -1v1m1 -1v1m10 -1v1M6 2v1m12 -1v1m17 -1v1m5 -1v1m1 -1v1m1 -1v1m6 -1v1m31 -1v1m14 -1v1m10 -1v1m24 -1v1m1 -1v1m16 -1v1M2 3v1m9 -1v1m3 -1v1m13 -1v1m14 -1v1m9 -1v1m7 -1v1m2 -1v1m2 -1v1m9 -1v1m8 -1v1m3 -1v1m1 -1v1m3 -1v1m2 -1v1m9 -1v1m3 -1v1m10 -1v1m20 -1v1m11 -1v1m11 -1v1M8 4v1m1 -1v1m16 -1v1m27 -1v1m19 -1v1m9 -1v1m57 -1v1m25 -1v1m1 -1v1M1 5v1m6 -1v1m14 -1v1m7 -1v1m11 -1v1m4 -1v1m1 -1v1m7 -1v1m9 -1v1m32 -1v1m5 -1v1m3 -1v1m12 -1v1m6 -1v1m2 -1v1m6 -1v1M0 6v1m6 -1v1m13 -1v1m13 -1v1m7 -1v1m1 -1v1m3 -1v1m2 -1v1m6 -1v1m1 -1v1m8 -1v1m2 -1v1m16 -1v1m11 -1v1m34 -1v1M1 7v1m16 -1v1m12 -1v1m19 -1v1m19 -1v1m15 -1v1m19 -1v1m8 -1v1m3 -1v1m1 -1v1m25 -1v1m2 -1v1m7 -1v1m2 -1v1m17 -1v1M3 8v1m8 -1v1m16 -1v1m5 -1v1m31 -1v1m7 -1v1m12 -1v1m4 -1v1m1 -1v1m35 -1v1m10 -1v1m8 -1v1M7 9v1m1 -1v1m6 -1v1m15 -1v1m15 -1v1m8 -1v1m6 -1v1m1 -1v1m23 -1v1m1 -1v1m5 -1v1m8 -1v1m22 -1v1m4 -1v1m12 -1v1m1 -1v1m3 -1v1m11 -1v1m17 -1v1M0 10v1m4 -1v1m11 -1v1m12 -1v1m4 -1v1m14 -1v1m12 -1v1m20 -1v1m4 -1v1m5 -1v1m80 -1v1M5 11v1m2 -1v1m8 -1v1m8 -1v1m24 -1v1m1 -1v1m29 -1v1m2 -1v1m3 -1v1m32 -1v1m15 -1v1m4 -1v1m8 -1v1m16 -1v1M0 12v1m2 -1v1m1 -1v1m1 -1v1m1 -1v1m1 -1v1m1 -1v1m23 -1v1m1 -1v1m16 -1v1m3 -1v1m3 -1v1m9 -1v1m10 -1v1m1 -1v1m5 -1v1m3 -1v1m12 -1v1m4 -1v1m2 -1v1m40 -1v1m10 -1v1m4 -1v1m13 -1v1m2 -1v1M1 13v1m2 -1v1m9 -1v1m4 -1v1m6 -1v1m11 -1v1m1 -1v1m10 -1v1m8 -1v1m3 -1v1m1 -1v1m10 -1v1m2 -1v1m1 -1v1m5 -1v1m10 -1v1m20 -1v1m10 -1v1m3 -1v1m3 -1v1m1 -1v1m7 -1v1m8 -1v1m12 -1v1m15 -1v1M0 14v1m7 -1v1m10 -1v1m27 -1v1m5 -1v1m24 -1v1m1 -1v1m9 -1v1m7 -1v1m12 -1v1m15 -1v1m34 -1v1m11 -1v1m1 -1v1m1 -1v1M2 15v1m5 -1v1m6 -1v1m6 -1v1m15 -1v1m15 -1v1m8 -1v1m3 -1v1m4 -1v1m4 -1v1m16 -1v1m7 -1v1m6 -1v1m8 -1v1m41 -1v1m16 -1v1m6 -1v1M10 16v1m6 -1v1m1 -1v1m16 -1v1m7 -1v1m26 -1v1m1 -1v1m4 -1v1m5 -1v1m53 -1v1m28 -1v1M13 17v1m23 -1v1m5 -1v1m12 -1v1m18 -1v1m2 -1v1m1 -1v1m9 -1v1m4 -1v1m1 -1v1m3 -1v1m10 -1v1m4 -1v1m12 -1v1m26 -1v1M2 18v1m1 -1v1m5 -1v1m5 -1v1m14 -1v1m1 -1v1m11 -1v1m6 -1v1m5 -1v1m9 -1v1m4 -1v1m3 -1v1m21 -1v1m40 -1v1m4 -1v1m31 -1v1M4 19v1m6 -1v1m3 -1v1m7 -1v1m4 -1v1m8 -1v1m1 -1v1m12 -1v1m3 -1v1m13 -1v1m6 -1v1m6 -1v1m3 -1v1m4 -1v1m4 -1v1m6 -1v1m8 -1v1m14 -1v1m12 -1v1m7 -1v1m20 -1v1m9 -1v1m2 -1v1m2 -1v1M6 21v1m44 -1v1m5 -1v1m28 -1v1m24 -1v1M135 22v1M4 23v1m24 -1v1m40 -1v1m24 -1v1m70 -1v1M75 24v1m14 -1v1m6 -1v1m4 -1v1m6 -1v1m14 -1v1m19 -1v1m20 -1v1m4 -1v1M29 25v1m46 -1v1m8 -1v1m72 -1v1M9 26v1m10 -1v1m32 -1v1m15 -1v1m12 -1v1m6 -1v1m11 -1v1m28 -1v1m13 -1v1m20 -1v1m14 -1v1M42 27v1M90 28v1m27 -1v1m21 -1v1m31 -1v1m1 -1v1M7 29v1m5 -1v1m24 -1v1m5 -1v1m71 -1v1m7 -1v1m13 -1v1m6 -1v1m1 -1v1m32 -1v1M11 32v1m58 -1v1m54 -1v1M7 33v1m9 -1v1m116 -1v1M9 34v1m15 -1v1m54 -1v1m2 -1v1m84 -1v1M37 35v1m8 -1v1m21 -1v1m2 -1v1m56 -1v1m46 -1v1M0 36v1m5 -1v1m4 -1v1m21 -1v1m17 -1v1m12 -1v1m56 -1v1m2 -1v1m6 -1v1m21 -1v1m21 -1v1m3 -1v1M5 37v1m1 -1v1m11 -1v1m14 -1v1m5 -1v1m18 -1v1m53 -1v1m4 -1v1m12 -1v1M27 38v1m2 -1v1m64 -1v1m11 -1v1m23 -1v1m3 -1v1"/>
<path transform="matrix(1.0029 0 0 10.0675 146.501 308.700)" stroke="#a7ab38" stroke-width="1" d="M9 0v1m5 -1v1m1 -1v1m1 -1v1m8 -1v1m1 -1v1m1 -1v1m9 -1v1m6 -1v1m1 -1v1m17 -1v1m32 -1v1m7 -1v1m27 -1v1m15 -1v1m22 -1v1M15 1v1m15 -1v1m2 -1v1m3 -1v1m7 -1v1m23 -1v1m3 -1v1m3 -1v1m2 -1v1m5 -1v1m9 -1v1m19 -1v1m25 -1v1m14 -1v1m13 -1v1m11 -1v1M3 2v1m23 -1v1m4 -1v1m38 -1v1m34 -1v1m4 -1v1m20 -1v1m15 -1v1m2 -1v1m9 -1v1M0 3v1m6 -1v1m17 -1v1m6 -1v1m20 -1v1m3 -1v1m10 -1v1m2 -1v1m2 -1v1m2 -1v1m7 -1v1m19 -1v1m7 -1v1m3 -1v1m13 -1v1m20 -1v1m1 -1v1M22 4v1m23 -1v1m9 -1v1m37 -1v1m27 -1v1M9 5v1m22 -1v1m11 -1v1m6 -1v1m1 -1v1m6 -1v1m8 -1v1m13 -1v1m28 -1v1m1 -1v1m11 -1v1m1 -1v1m14 -1v1m10 -1v1m15 -1v1m6 -1v1M2 6v1m13 -1v1m9 -1v1m9 -1v1m38 -1v1m9 -1v1m23 -1v1m10 -1v1m1 -1v1m26 -1v1m15 -1v1m8 -1v1M5 7v1m1 -1v1m13 -1v1m4 -1v1m12 -1v1m12 -1v1m7 -1v1m17 -1v1m14 -1v1m37 -1v1m3 -1v1m5 -1v1m15 -1v1m20 -1v1M12 8v1m9 -1v1m1 -1v1m18 -1v1m5 -1v1m11 -1v1m1 -1v1m1 -1v1m13 -1v1m23 -1v1m6 -1v1m9 -1v1m19 -1v1m3 -1v1m8 -1v1m6 -1v1m5 -1v1m14 -1v1m6 -1v1M1 9v1m5 -1v1m3 -1v1m1 -1v1m20 -1v1m2 -1v1m3 -1v1m2 -1v1m10 -1v1m1 -1v1m5 -1v1m10 -1v1m4 -1v1m2 -1v1m12 -1v1m17 -1v1m23 -1v1m8 -1v1m3 -1v1m13 -1v1m20 -1v1m6 -1v1M2 10v1m6 -1v1m13 -1v1m16 -1v1m5 -1v1m9 -1v1m1 -1v1m6 -1v1m11 -1v1m5 -1v1m11 -1v1m12 -1v1m1 -1v1m4 -1v1m10 -1v1m5 -1v1m4 -1v1m11 -1v1M2 11v1m23 -1v1m1 -1v1m5 -1v1m5 -1v1m19 -1v1m2 -1v1m1 -1v1m14 -1v1m4 -1v1m5 -1v1m14 -1v1m31 -1v1m2 -1v1m25 -1v1m18 -1v1M8 12v1m6 -1v1m10 -1v1m12 -1v1m5 -1v1m11 -1v1m3 -1v1m11 -1v1m8 -1v1m1 -1v1m30 -1v1m5 -1v1m9 -1v1m8 -1v1m15 -1v1m18 -1v1M17 13v1m6 -1v1m5 -1v1m1 -1v1m3 -1v1m5 -1v1m21 -1v1m13 -1v1m1 -1v1m7 -1v1m2 -1v1m4 -1v1m2 -1v1m3 -1v1m17 -1v1m3 -1v1m29 -1v1m4 -1v1M1 14v1m2 -1v1m6 -1v1m5 -1v1m5 -1v1m1 -1v1m1 -1v1m4 -1v1m1 -1v1m4 -1v1m16 -1v1m2 -1v1m22 -1v1m6 -1v1m50 -1v1m3 -1v1m5 -1v1m15 -1v1M9 15v1m2 -1v1m4 -1v1m9 -1v1m1 -1v1m1 -1v1m9 -1v1m4 -1v1m1 -1v1m4 -1v1m6 -1v1m2 -1v1m26 -1v1m1 -1v1m1 -1v1m23 -1v1m17 -1v1m35 -1v1M0 16v1m5 -1v1m7 -1v1m1 -1v1m11 -1v1m2 -1v1m2 -1v1m4 -1v1m12 -1v1m16 -1v1m1 -1v1m26 -1v1m10 -1v1m9 -1v1m5 -1v1m4 -1v1m1 -1v1m1 -1v1m30 -1v1m15 -1v1M20 17v1m3 -1v1m4 -1v1m88 -1v1M5 18v1m13 -1v1m16 -1v1m6 -1v1m6 -1v1m9 -1v1m2 -1v1m1 -1v1m6 -1v1m3 -1v1m6 -1v1m1 -1v1m46 -1v1m3 -1v1m7 -1v1m9 -1v1m31 -1v1M0 19v1m1 -1v1m4 -1v1m16 -1v1m2 -1v1m6 -1v1m1 -1v1m11 -1v1m5 -1v1m13 -1v1m11 -1v1m4 -1v1M5 20v1m153 -1v1m10 -1v1M156 22v1M5 23v1m104 -1v1m16 -1v1m24 -1v1M97 25v1M23 27v1m100 -1v1M68 30v1M5 32v1m15 -1v1m12 -1v1M28 33v1M7 37v1"/>
<path transform="matrix(1.0029 0 0 10.0675 146.501 308.700)" stroke="#c0c438" stroke-width="1" d="M27 0v1m94 -1v1m26 -1v1M66 1v1m56 -1v1M31 2v1m1 -1v1m108 -1v1M14 5v1M3 6v1m13 -1v1m11 -1v1m7 -1v1m7 -1v1m1 -1v1m13 -1v1m14 -1v1m95 -1v1M3 7v1m5 -1v1m6 -1v1m29 -1v1m3 -1v1m9 -1v1m28 -1v1m1 -1v1m8 -1v1m26 -1v1m5 -1v1m8 -1v1m23 -1v1M48 8v1m4 -1v1m56 -1v1M20 10v1m26 -1v1m87 -1v1m22 -1v1M119 11v1M28 12v1m15 -1v1M149 13v1m2 -1v1m16 -1v1m2 -1v1M106 14v1m41 -1v1M17 15v1m19 -1v1m63 -1v1m2 -1v1M98 16v1m6 -1v1M10 17v1m1 -1v1m19 -1v1m5 -1v1m9 -1v1m32 -1v1m16 -1v1m14 -1v1M38 18v1m70 -1v1M6 19v1m44 -1v1m109 -1v1"/>
<path transform="matrix(1.0029 0 0 10.0675 146.501 308.700)" stroke="#d6d536" stroke-width="1" d="M5 6v1m21 -1v1m4 -1v1m17 -1v1m14 -1v1m14 -1v1m1 -1v1m28 -1v1m1 -1v1m1 -1v1m53 -1v1M3 17v1m9 -1v1m22 -1v1m5 -1v1m6 -1v1m1 -1v1m2 -1v1m45 -1v1m76 -1v1"/>
<path transform="matrix(1.0029 0 0 10.0675 146.501 308.700)" stroke="#ebe634" stroke-width="1" d="M33 17v1m16 -1v1m3 -1v1m3 -1v1m9 -1v1m4 -1v1m30 -1v1m24 -1v1m9 -1v1"/>
</g></g>
<g clip-path="url(#cN)"><g filter="url(#bl)"><g transform="translate(0 308.70) skewX(0.6545) translate(0 -308.70)">
<rect x="315.05" y="308.70" width="59.55" height="402.70" fill="#0b0c1a"/>
<rect x="315.05" y="308.70" width="59.55" height="10.07" fill="#1e1f4e"/>
<rect x="315.05" y="318.77" width="59.55" height="10.07" fill="#262664"/>
<rect x="315.05" y="328.83" width="59.55" height="20.13" fill="#1e1f4e"/>
<rect x="315.05" y="348.97" width="59.55" height="10.07" fill="#0b0c1a"/>
<rect x="315.05" y="359.04" width="59.55" height="10.07" fill="#262664"/>
<rect x="315.05" y="369.10" width="59.55" height="70.47" fill="#1e1f4e"/>
<rect x="315.05" y="439.58" width="59.55" height="10.07" fill="#262664"/>
<rect x="315.05" y="449.64" width="59.55" height="30.20" fill="#1e1f4e"/>
<rect x="315.05" y="479.85" width="59.55" height="10.07" fill="#0b0c1a"/>
<rect x="315.05" y="489.91" width="59.55" height="20.13" fill="#1e1f4e"/>
<rect x="315.05" y="510.05" width="59.55" height="201.35" fill="#0b0c1a"/>
<path transform="matrix(0.9925 0 0 10.0675 315.546 308.700)" stroke="#282a6f" stroke-width="1" d="M0 1v1m7 -1v1m2 -1v1m1 -1v1m1 -1v1m2 -1v1m1 -1v1m1 -1v1m2 -1v1m2 -1v1m3 -1v1m1 -1v1m2 -1v1m5 -1v1m3 -1v1m6 -1v1m1 -1v1m2 -1v1m1 -1v1m2 -1v1m1 -1v1m2 -1v1m3 -1v1m4 -1v1m1 -1v1m1 -1v1M0 5v1m2 -1v1m1 -1v1m5 -1v1m2 -1v1m2 -1v1m2 -1v1m1 -1v1m3 -1v1m2 -1v1m2 -1v1m1 -1v1m2 -1v1m3 -1v1m2 -1v1m4 -1v1m2 -1v1m1 -1v1m1 -1v1m1 -1v1m2 -1v1m6 -1v1m1 -1v1m7 -1v1m3 -1v1M53 9v1M0 13v1m1 -1v1m1 -1v1m1 -1v1m2 -1v1m4 -1v1m1 -1v1m2 -1v1m3 -1v1m2 -1v1m2 -1v1m7 -1v1m2 -1v1m5 -1v1m1 -1v1m7 -1v1m4 -1v1m4 -1v1m3 -1v1m3 -1v1m2 -1v1"/>
<path transform="matrix(0.9925 0 0 10.0675 315.546 308.700)" stroke="#262664" stroke-width="1" d="M20 0v1M18 2v1m29 -1v1M8 6v1m2 -1v1m9 -1v1m6 -1v1m6 -1v1m18 -1v1M0 7v1m17 -1v1m5 -1v1m6 -1v1M57 8v1M20 9v1m25 -1v1m7 -1v1M7 10v1m2 -1v1m2 -1v1m5 -1v1m11 -1v1m28 -1v1M50 11v1M37 12v1m20 -1v1M23 14v1M9 15v1m27 -1v1m12 -1v1M19 16v1m18 -1v1m12 -1v1M20 18v1m31 -1v1m7 -1v1M1 19v1m42 -1v1m6 -1v1"/>
<path transform="matrix(0.9925 0 0 10.0675 315.546 308.700)" stroke="#161838" stroke-width="1" d="M4 0v1m1 -1v1m42 -1v1m8 -1v1M26 2v1m26 -1v1m7 -1v1M8 3v1m11 -1v1m5 -1v1M21 6v1m36 -1v1M30 7v1m1 -1v1m14 -1v1M44 8v1m5 -1v1m4 -1v1M3 9v1m27 -1v1m10 -1v1M2 10v1m22 -1v1M21 11v1m2 -1v1m2 -1v1m4 -1v1m28 -1v1M14 12v1m35 -1v1m4 -1v1M50 14v1m9 -1v1M16 15v1m37 -1v1M7 16v1m4 -1v1m15 -1v1m19 -1v1m11 -1v1M37 18v1M58 29v1M20 31v1"/>
<path transform="matrix(0.9925 0 0 10.0675 315.546 308.700)" stroke="#101229" stroke-width="1" d="M2 4v1m18 -1v1m1 -1v1m11 -1v1m1 -1v1m20 -1v1M8 17v1m7 -1v1m6 -1v1m1 -1v1m1 -1v1m8 -1v1m7 -1v1m2 -1v1m1 -1v1m3 -1v1m14 -1v1M9 20v1m47 -1v1M16 21v1m25 -1v1M7 22v1M6 23v1m3 -1v1m24 -1v1m15 -1v1m7 -1v1M4 24v1m3 -1v1m3 -1v1M29 25v1M4 26v1M3 27v1m5 -1v1m1 -1v1m1 -1v1M57 28v1M9 29v1m2 -1v1m5 -1v1m2 -1v1m1 -1v1m36 -1v1M19 30v1M11 31v1m8 -1v1m6 -1v1m17 -1v1m16 -1v1M42 32v1M8 33v1M8 34v1m42 -1v1M7 35v1m4 -1v1m5 -1v1m12 -1v1m11 -1v1m2 -1v1m4 -1v1m8 -1v1m1 -1v1M1 36v1m2 -1v1m4 -1v1m8 -1v1m22 -1v1m10 -1v1m10 -1v1M3 37v1m4 -1v1M5 38v1m4 -1v1m19 -1v1M0 39v1m14 -1v1"/>
<path transform="matrix(0.9925 0 0 10.0675 315.546 308.700)" stroke="#20211a" stroke-width="1" d="M1 0v1M34 2v1M20 7v1M42 12v1M14 15v1M17 17v1M14 18v1M13 23v1M16 24v1M2 26v1m29 -1v1M28 27v1M3 29v1M13 30v1M5 31v1M22 32v1M9 36v1m24 -1v1m1 -1v1M17 38v1M52 39v1"/>
<path transform="matrix(0.9925 0 0 10.0675 315.546 308.700)" stroke="#34361a" stroke-width="1" d="M11 0v1m7 -1v1m7 -1v1M33 2v1m7 -1v1M26 5v1M17 6v1M13 7v1M20 8v1m7 -1v1m24 -1v1M21 9v1M1 10v1M1 12v1m19 -1v1m2 -1v1m1 -1v1m9 -1v1m2 -1v1m5 -1v1m2 -1v1M14 14v1m24 -1v1M25 15v1M3 16v1M17 18v1M6 21v1m20 -1v1M35 23v1m6 -1v1m13 -1v1m4 -1v1m1 -1v1M0 24v1m5 -1v1m16 -1v1m5 -1v1M11 26v1M54 27v1M0 35v1m4 -1v1m55 -1v1M0 37v1m25 -1v1"/>
<path transform="matrix(0.9925 0 0 10.0675 315.546 308.700)" stroke="#4a4d22" stroke-width="1" d="M57 3v1M22 8v1M39 10v1m6 -1v1M12 14v1m5 -1v1m24 -1v1m16 -1v1M51 15v1M15 18v1m16 -1v1m10 -1v1m11 -1v1M37 19v1M40 21v1M8 22v1M42 23v1m2 -1v1m5 -1v1M1 24v1m2 -1v1m28 -1v1m1 -1v1m6 -1v1m14 -1v1m1 -1v1m1 -1v1M2 25v1m1 -1v1m5 -1v1m46 -1v1m1 -1v1m3 -1v1M3 26v1m12 -1v1m6 -1v1m5 -1v1m18 -1v1M7 27v1m13 -1v1m6 -1v1m11 -1v1m22 -1v1M0 28v1m10 -1v1M15 29v1m2 -1v1m12 -1v1M1 30v1m4 -1v1m1 -1v1m49 -1v1M3 31v1m4 -1v1m1 -1v1M7 32v1m50 -1v1M1 33v1m4 -1v1m1 -1v1m4 -1v1M10 34v1m49 -1v1M3 35v1m12 -1v1M21 36v1m30 -1v1M26 37v1m27 -1v1M10 38v1m1 -1v1m45 -1v1m2 -1v1m1 -1v1M8 39v1"/>
<path transform="matrix(0.9925 0 0 10.0675 315.546 308.700)" stroke="#60642a" stroke-width="1" d="M14 6v1m21 -1v1m4 -1v1M18 7v1M23 8v1m10 -1v1m3 -1v1m14 -1v1M18 10v1m1 -1v1m31 -1v1M38 12v1M46 13v1m1 -1v1M18 14v1M46 16v1M26 18v1m16 -1v1M24 19v1M1 20v1m3 -1v1m2 -1v1m1 -1v1m1 -1v1m47 -1v1m3 -1v1M0 21v1m5 -1v1m3 -1v1m5 -1v1m10 -1v1m5 -1v1m9 -1v1m12 -1v1m2 -1v1m2 -1v1m1 -1v1m2 -1v1M0 22v1m2 -1v1m53 -1v1M19 23v1m2 -1v1m6 -1v1m5 -1v1M19 24v1m5 -1v1m9 -1v1m13 -1v1m3 -1v1m10 -1v1M9 25v1m1 -1v1m1 -1v1m10 -1v1m6 -1v1m15 -1v1m11 -1v1m6 -1v1M8 26v1m4 -1v1m5 -1v1m16 -1v1m17 -1v1M13 27v1m8 -1v1m8 -1v1m13 -1v1m6 -1v1m1 -1v1m6 -1v1M1 28v1m15 -1v1m1 -1v1m37 -1v1M6 29v1m28 -1v1m1 -1v1m5 -1v1m9 -1v1m5 -1v1M0 30v1m4 -1v1m7 -1v1m43 -1v1m4 -1v1m1 -1v1M0 32v1m6 -1v1m48 -1v1M0 33v1m2 -1v1m2 -1v1m13 -1v1m28 -1v1m12 -1v1M9 34v1m12 -1v1m18 -1v1m12 -1v1M35 35v1m9 -1v1M8 36v1m4 -1v1m13 -1v1m14 -1v1m1 -1v1m5 -1v1M2 37v1m14 -1v1m2 -1v1m1 -1v1m1 -1v1m9 -1v1m5 -1v1m1 -1v1m5 -1v1M1 38v1m5 -1v1m1 -1v1m1 -1v1M4 39v1m1 -1v1m53 -1v1"/>
<path transform="matrix(0.9925 0 0 10.0675 315.546 308.700)" stroke="#777b31" stroke-width="1" d="M43 4v1M30 6v1M32 8v1M26 10v1M18 15v1M32 18v1M2 20v1m8 -1v1m3 -1v1m32 -1v1M14 21v1m1 -1v1m5 -1v1m9 -1v1m4 -1v1m24 -1v1m1 -1v1M1 22v1m2 -1v1m3 -1v1m17 -1v1m6 -1v1m12 -1v1M12 23v1m12 -1v1m27 -1v1M30 24v1m11 -1v1m3 -1v1M36 25v1m3 -1v1m2 -1v1m4 -1v1m11 -1v1M13 26v1m23 -1v1m5 -1v1m14 -1v1M31 27v1m14 -1v1m2 -1v1m5 -1v1M2 28v1m16 -1v1m2 -1v1m9 -1v1m2 -1v1m11 -1v1m7 -1v1m10 -1v1M14 29v1m14 -1v1m16 -1v1m9 -1v1M10 30v1m22 -1v1m9 -1v1m2 -1v1m6 -1v1m7 -1v1M12 31v1m12 -1v1m2 -1v1m5 -1v1m7 -1v1m5 -1v1m16 -1v1M10 32v1m16 -1v1m9 -1v1m15 -1v1M11 33v1m29 -1v1m1 -1v1m3 -1v1m11 -1v1m1 -1v1M2 34v1m11 -1v1m2 -1v1m13 -1v1m8 -1v1m7 -1v1m10 -1v1m4 -1v1M19 35v1m1 -1v1m2 -1v1m15 -1v1m10 -1v1m3 -1v1M17 36v1m7 -1v1m2 -1v1m24 -1v1m2 -1v1m6 -1v1M14 37v1m13 -1v1m3 -1v1m26 -1v1M23 38v1m6 -1v1m8 -1v1m7 -1v1m5 -1v1m8 -1v1M11 39v1m5 -1v1m8 -1v1m3 -1v1m3 -1v1m1 -1v1m3 -1v1m11 -1v1m3 -1v1m7 -1v1m2 -1v1"/>
<path transform="matrix(0.9925 0 0 10.0675 315.546 308.700)" stroke="#8e9238" stroke-width="1" d="M23 13v1M16 20v1m2 -1v1m5 -1v1m1 -1v1m1 -1v1m3 -1v1m1 -1v1m8 -1v1m10 -1v1m2 -1v1m1 -1v1m4 -1v1M36 21v1m2 -1v1m5 -1v1m12 -1v1M12 22v1m2 -1v1m7 -1v1m6 -1v1m8 -1v1m5 -1v1m7 -1v1m5 -1v1m1 -1v1M36 23v1M17 24v1m6 -1v1m13 -1v1m3 -1v1m12 -1v1M12 25v1m6 -1v1m2 -1v1m4 -1v1m10 -1v1m12 -1v1M19 26v1m16 -1v1m7 -1v1m3 -1v1m3 -1v1m3 -1v1m1 -1v1m6 -1v1M38 27v1m5 -1v1m10 -1v1M14 28v1m7 -1v1m1 -1v1m4 -1v1m11 -1v1m10 -1v1m4 -1v1M12 29v1m8 -1v1m25 -1v1m2 -1v1M14 30v1m2 -1v1m12 -1v1m20 -1v1M16 31v1m6 -1v1m15 -1v1m9 -1v1m5 -1v1m3 -1v1m2 -1v1m1 -1v1M13 32v1m1 -1v1m5 -1v1m9 -1v1m10 -1v1m9 -1v1m9 -1v1M13 33v1m9 -1v1m10 -1v1m1 -1v1m15 -1v1m10 -1v1M19 34v1m11 -1v1m2 -1v1m9 -1v1m1 -1v1m7 -1v1M31 35v1m3 -1v1M27 36v1m8 -1v1m3 -1v1m8 -1v1M43 37v1M32 38v1m2 -1v1m9 -1v1m2 -1v1m2 -1v1m4 -1v1M15 39v1m2 -1v1m1 -1v1m8 -1v1m9 -1v1m2 -1v1m10 -1v1m3 -1v1"/>
<path transform="matrix(0.9925 0 0 10.0675 315.546 308.700)" stroke="#a7ab38" stroke-width="1" d="M38 3v1M32 16v1m1 -1v1m1 -1v1M17 20v1m18 -1v1m11 -1v1M12 21v1m10 -1v1m3 -1v1m10 -1v1m11 -1v1m2 -1v1M16 22v1m3 -1v1m1 -1v1m2 -1v1m3 -1v1m3 -1v1m5 -1v1m3 -1v1m7 -1v1m3 -1v1m2 -1v1m3 -1v1M34 23v1m4 -1v1M12 24v1m2 -1v1m1 -1v1m3 -1v1M15 25v1m1 -1v1m3 -1v1m12 -1v1m1 -1v1m5 -1v1M16 26v1m27 -1v1m4 -1v1M44 27v1M19 28v1m13 -1v1m1 -1v1M21 29v1m1 -1v1m17 -1v1m12 -1v1M17 30v1m12 -1v1m9 -1v1m4 -1v1m5 -1v1m3 -1v1M14 31v1m27 -1v1m4 -1v1m4 -1v1m3 -1v1M21 32v1m8 -1v1m2 -1v1m3 -1v1m14 -1v1m1 -1v1M15 33v1m1 -1v1m7 -1v1m6 -1v1m8 -1v1m6 -1v1m7 -1v1m1 -1v1M25 34v1m2 -1v1m4 -1v1m2 -1v1m1 -1v1m12 -1v1M24 35v1m9 -1v1M16 36v1m25 -1v1M45 37v1M12 38v1m2 -1v1m8 -1v1m3 -1v1m13 -1v1m2 -1v1m10 -1v1M12 39v1m13 -1v1m4 -1v1m3 -1v1m9 -1v1"/>
<path transform="matrix(0.9925 0 0 10.0675 315.546 308.700)" stroke="#c0c438" stroke-width="1" d="M20 20v1m6 -1v1m8 -1v1m2 -1v1m3 -1v1m9 -1v1m5 -1v1M21 21v1m3 -1v1m6 -1v1m17 -1v1m5 -1v1M17 22v1m14 -1v1m1 -1v1m2 -1v1m15 -1v1M20 24v1m14 -1v1m1 -1v1m7 -1v1m3 -1v1M13 25v1m4 -1v1m13 -1v1m10 -1v1m8 -1v1M14 26v1m11 -1v1m9 -1v1m4 -1v1M12 27v1m2 -1v1m3 -1v1m8 -1v1m7 -1v1m3 -1v1m1 -1v1M12 28v1m1 -1v1m12 -1v1m3 -1v1m2 -1v1m10 -1v1m3 -1v1m1 -1v1m9 -1v1M23 29v1m13 -1v1M18 30v1m3 -1v1m1 -1v1m1 -1v1m1 -1v1m1 -1v1m2 -1v1m3 -1v1m6 -1v1m16 -1v1M44 31v1m6 -1v1M20 32v1m13 -1v1m6 -1v1M12 33v1m7 -1v1m8 -1v1m1 -1v1m2 -1v1m5 -1v1m1 -1v1m6 -1v1m4 -1v1m3 -1v1M12 34v1m10 -1v1m1 -1v1m3 -1v1m21 -1v1m1 -1v1m4 -1v1M46 35v1m5 -1v1M20 36v1m11 -1v1M22 37v1m2 -1v1m7 -1v1m7 -1v1m9 -1v1M13 38v1m14 -1v1m4 -1v1m10 -1v1m5 -1v1m6 -1v1M19 39v1m1 -1v1m1 -1v1m7 -1v1m5 -1v1m3 -1v1m10 -1v1"/>
<path transform="matrix(0.9925 0 0 10.0675 315.546 308.700)" stroke="#d6d536" stroke-width="1" d="M12 20v1m3 -1v1m6 -1v1m1 -1v1m5 -1v1m3 -1v1m8 -1v1m2 -1v1m2 -1v1m1 -1v1m1 -1v1m8 -1v1M18 21v1m16 -1v1m5 -1v1m6 -1v1m5 -1v1M26 22v1m13 -1v1m3 -1v1m2 -1v1m1 -1v1m5 -1v1M28 24v1M25 25v1m1 -1v1m7 -1v1m10 -1v1m1 -1v1m6 -1v1m2 -1v1M28 26v1m1 -1v1m10 -1v1M24 27v1m22 -1v1M15 28v1m8 -1v1m1 -1v1m3 -1v1m7 -1v1m2 -1v1m9 -1v1m1 -1v1m2 -1v1m2 -1v1m2 -1v1M30 29v1m1 -1v1m19 -1v1M20 30v1m14 -1v1m1 -1v1m2 -1v1m2 -1v1m7 -1v1m7 -1v1M13 31v1m8 -1v1m7 -1v1m1 -1v1m19 -1v1m5 -1v1M15 32v1m10 -1v1m11 -1v1m1 -1v1m7 -1v1m7 -1v1M18 33v1m6 -1v1m1 -1v1m6 -1v1m7 -1v1M17 34v1m12 -1v1m8 -1v1m1 -1v1m6 -1v1M14 35v1m3 -1v1m6 -1v1m17 -1v1m2 -1v1m6 -1v1M44 36v1M39 37v1m5 -1v1m5 -1v1M24 38v1m9 -1v1m2 -1v1m4 -1v1m3 -1v1M13 39v1m10 -1v1m19 -1v1m7 -1v1m2 -1v1"/>
<path transform="matrix(0.9925 0 0 10.0675 315.546 308.700)" stroke="#ebe634" stroke-width="1" d="M14 20v1m5 -1v1m12 -1v1m1 -1v1m9 -1v1m10 -1v1M13 22v1m2 -1v1m9 -1v1m6 -1v1m7 -1v1m1 -1v1M22 25v1m13 -1v1m12 -1v1m2 -1v1M32 26v1m5 -1v1m9 -1v1M35 28v1m3 -1v1m1 -1v1M12 30v1m14 -1v1M17 31v1m6 -1v1m7 -1v1m3 -1v1M16 32v1m1 -1v1m7 -1v1m16 -1v1m6 -1v1m6 -1v1M26 33v1m8 -1v1m5 -1v1m8 -1v1m5 -1v1M45 34v1M21 38v1m15 -1v1m12 -1v1M53 39v1"/>
<rect x="374.60" y="308.70" width="90.40" height="402.70" fill="#0b0c1a"/>
<rect x="374.60" y="308.70" width="90.40" height="40.27" fill="#1e1f4e"/>
<rect x="374.60" y="348.97" width="90.40" height="10.07" fill="#0b0c1a"/>
<rect x="374.60" y="359.04" width="90.40" height="120.81" fill="#1e1f4e"/>
<rect x="374.60" y="479.85" width="90.40" height="10.07" fill="#0b0c1a"/>
<rect x="374.60" y="489.91" width="90.40" height="20.13" fill="#1e1f4e"/>
<rect x="374.60" y="510.05" width="90.40" height="10.07" fill="#0b0c1a"/>
<rect x="374.60" y="520.12" width="90.40" height="10.07" fill="#1e1f4e"/>
<rect x="374.60" y="530.18" width="90.40" height="20.13" fill="#0b0c1a"/>
<rect x="374.60" y="550.32" width="90.40" height="10.07" fill="#1e1f4e"/>
<rect x="374.60" y="560.39" width="90.40" height="10.07" fill="#0b0c1a"/>
<rect x="374.60" y="570.45" width="90.40" height="10.07" fill="#1e1f4e"/>
<rect x="374.60" y="580.52" width="90.40" height="10.07" fill="#0b0c1a"/>
<rect x="374.60" y="590.59" width="90.40" height="10.07" fill="#1e1f4e"/>
<rect x="374.60" y="600.66" width="90.40" height="10.07" fill="#161838"/>
<rect x="374.60" y="610.72" width="90.40" height="40.27" fill="#0b0c1a"/>
<rect x="374.60" y="650.99" width="90.40" height="50.34" fill="#1e1f4e"/>
<rect x="374.60" y="701.33" width="90.40" height="10.07" fill="#0b0c1a"/>
<path transform="matrix(1.0044 0 0 10.0675 375.102 308.700)" stroke="#282a6f" stroke-width="1" d="M52 2v1"/>
<path transform="matrix(1.0044 0 0 10.0675 375.102 308.700)" stroke="#262664" stroke-width="1" d="M76 0v1M18 2v1M16 3v1m4 -1v1M32 6v1M37 9v1M74 11v1M36 12v1m51 -1v1M80 15v1M4 16v1m70 -1v1M34 21v1m1 -1v1m13 -1v1m10 -1v1m19 -1v1m5 -1v1M3 24v1m2 -1v1m5 -1v1m3 -1v1m13 -1v1m4 -1v1m5 -1v1m24 -1v1m2 -1v1m8 -1v1m1 -1v1m3 -1v1m3 -1v1M4 26v1m7 -1v1m3 -1v1m4 -1v1m29 -1v1m10 -1v1M2 28v1m16 -1v1m15 -1v1m22 -1v1m5 -1v1m4 -1v1m13 -1v1M11 34v1m6 -1v1m7 -1v1m20 -1v1m6 -1v1m9 -1v1m10 -1v1m12 -1v1m1 -1v1m1 -1v1M10 35v1m4 -1v1m20 -1v1m2 -1v1m5 -1v1m6 -1v1m3 -1v1m9 -1v1M28 36v1m4 -1v1m9 -1v1m5 -1v1m17 -1v1m7 -1v1m1 -1v1m15 -1v1M5 37v1m9 -1v1m3 -1v1m21 -1v1m26 -1v1m13 -1v1m1 -1v1M7 38v1m7 -1v1m1 -1v1m19 -1v1m8 -1v1m9 -1v1m1 -1v1m1 -1v1m3 -1v1m6 -1v1m11 -1v1m1 -1v1m1 -1v1m14 -1v1"/>
<path transform="matrix(1.0044 0 0 10.0675 375.102 308.700)" stroke="#1e1f4e" stroke-width="1" d="M2 29v1m8 -1v1m9 -1v1m2 -1v1m5 -1v1m1 -1v1m8 -1v1m2 -1v1m2 -1v1m1 -1v1m5 -1v1m5 -1v1m1 -1v1m15 -1v1m1 -1v1m9 -1v1m9 -1v1m3 -1v1"/>
<path transform="matrix(1.0044 0 0 10.0675 375.102 308.700)" stroke="#161838" stroke-width="1" d="M2 0v1m1 -1v1m1 -1v1m2 -1v1m5 -1v1m4 -1v1m3 -1v1m4 -1v1m2 -1v1m7 -1v1m2 -1v1m16 -1v1m1 -1v1m13 -1v1m2 -1v1m1 -1v1m1 -1v1m3 -1v1m2 -1v1m1 -1v1m1 -1v1m1 -1v1m6 -1v1m2 -1v1m1 -1v1m4 -1v1M5 1v1m33 -1v1m22 -1v1m1 -1v1m4 -1v1m2 -1v1m3 -1v1m11 -1v1m3 -1v1M3 2v1m2 -1v1m1 -1v1m3 -1v1m3 -1v1m1 -1v1m7 -1v1m11 -1v1m3 -1v1m1 -1v1m2 -1v1m1 -1v1m3 -1v1m14 -1v1m10 -1v1m2 -1v1m9 -1v1m3 -1v1m1 -1v1m2 -1v1m2 -1v1m2 -1v1M1 3v1m2 -1v1m1 -1v1m10 -1v1m1 -1v1m2 -1v1m4 -1v1m19 -1v1m3 -1v1m6 -1v1m1 -1v1m4 -1v1m3 -1v1m1 -1v1m6 -1v1m3 -1v1m2 -1v1m1 -1v1m5 -1v1m1 -1v1m3 -1v1M48 4v1M3 5v1m1 -1v1m3 -1v1m6 -1v1m9 -1v1m3 -1v1m16 -1v1m3 -1v1m9 -1v1m5 -1v1m4 -1v1m14 -1v1m10 -1v1M0 6v1m2 -1v1m5 -1v1m1 -1v1m16 -1v1m14 -1v1m11 -1v1m2 -1v1m7 -1v1m13 -1v1m2 -1v1M15 7v1m1 -1v1m1 -1v1m2 -1v1m6 -1v1m8 -1v1m3 -1v1m1 -1v1m3 -1v1m7 -1v1m5 -1v1m1 -1v1m2 -1v1m6 -1v1m6 -1v1m3 -1v1m6 -1v1m5 -1v1M1 8v1m34 -1v1m14 -1v1m2 -1v1m4 -1v1m6 -1v1m2 -1v1m2 -1v1m7 -1v1m4 -1v1m5 -1v1m1 -1v1m5 -1v1m1 -1v1M5 9v1m1 -1v1m8 -1v1m2 -1v1m2 -1v1m9 -1v1m4 -1v1m3 -1v1m5 -1v1m1 -1v1m6 -1v1m5 -1v1m5 -1v1m3 -1v1m5 -1v1m8 -1v1m17 -1v1M2 10v1m16 -1v1m3 -1v1m5 -1v1m1 -1v1m2 -1v1m1 -1v1m4 -1v1m3 -1v1m4 -1v1m10 -1v1m1 -1v1m1 -1v1m1 -1v1m3 -1v1m3 -1v1m5 -1v1m2 -1v1m4 -1v1m5 -1v1m1 -1v1m1 -1v1M3 11v1m5 -1v1m5 -1v1m6 -1v1m1 -1v1m9 -1v1m4 -1v1m5 -1v1m8 -1v1m13 -1v1m3 -1v1m2 -1v1m1 -1v1m2 -1v1m1 -1v1m1 -1v1m4 -1v1m11 -1v1M4 12v1m5 -1v1m1 -1v1m3 -1v1m10 -1v1m3 -1v1m3 -1v1m3 -1v1m7 -1v1m4 -1v1m1 -1v1m14 -1v1m5 -1v1m4 -1v1m10 -1v1m8 -1v1m4 -1v1M1 13v1m1 -1v1m5 -1v1m9 -1v1m1 -1v1m4 -1v1m10 -1v1m6 -1v1m6 -1v1m3 -1v1m2 -1v1m2 -1v1m6 -1v1m1 -1v1m6 -1v1m2 -1v1m3 -1v1m7 -1v1M7 14v1m1 -1v1m8 -1v1m3 -1v1m3 -1v1m12 -1v1m14 -1v1m8 -1v1m4 -1v1m6 -1v1m2 -1v1m3 -1v1m5 -1v1m9 -1v1M0 15v1m4 -1v1m1 -1v1m5 -1v1m1 -1v1m4 -1v1m2 -1v1m6 -1v1m2 -1v1m1 -1v1m1 -1v1m3 -1v1m7 -1v1m4 -1v1m6 -1v1m4 -1v1m1 -1v1m2 -1v1m4 -1v1m2 -1v1m3 -1v1m1 -1v1m2 -1v1m5 -1v1m3 -1v1m1 -1v1m2 -1v1m1 -1v1m1 -1v1m2 -1v1m3 -1v1m4 -1v1M7 16v1m9 -1v1m2 -1v1m3 -1v1m9 -1v1m3 -1v1m5 -1v1m3 -1v1m12 -1v1m1 -1v1m1 -1v1m1 -1v1m2 -1v1m7 -1v1m6 -1v1m4 -1v1m3 -1v1m1 -1v1M11 18v1m1 -1v1m1 -1v1m8 -1v1m4 -1v1m1 -1v1m4 -1v1m4 -1v1m3 -1v1m7 -1v1m4 -1v1m1 -1v1m4 -1v1m4 -1v1m1 -1v1m3 -1v1m2 -1v1m11 -1v1m5 -1v1M5 19v1m2 -1v1m1 -1v1m7 -1v1m6 -1v1m7 -1v1m10 -1v1m4 -1v1m8 -1v1m11 -1v1m1 -1v1m16 -1v1m1 -1v1m2 -1v1m4 -1v1m1 -1v1M79 21v1M28 24v1M16 26v1m5 -1v1m7 -1v1M4 27v1M42 28v1m34 -1v1M80 34v1M50 36v1m10 -1v1m29 -1v1M78 38v1"/>
<path transform="matrix(1.0044 0 0 10.0675 375.102 308.700)" stroke="#101229" stroke-width="1" d="M68 0v1M4 4v1m9 -1v1m3 -1v1m36 -1v1m2 -1v1m29 -1v1m2 -1v1m4 -1v1M79 10v1M85 15v1M31 16v1M2 17v1m5 -1v1m1 -1v1m6 -1v1m2 -1v1m17 -1v1m1 -1v1m1 -1v1m11 -1v1m8 -1v1m7 -1v1m6 -1v1m7 -1v1m9 -1v1M14 18v1M7 20v1m9 -1v1m9 -1v1m3 -1v1m4 -1v1m4 -1v1m9 -1v1m1 -1v1m11 -1v1m1 -1v1m10 -1v1m5 -1v1m12 -1v1M8 22v1m7 -1v1m20 -1v1m7 -1v1m13 -1v1m19 -1v1m1 -1v1m4 -1v1m6 -1v1M1 23v1m10 -1v1m11 -1v1m3 -1v1m13 -1v1m30 -1v1m3 -1v1m6 -1v1m5 -1v1m4 -1v1m1 -1v1M15 25v1m1 -1v1m6 -1v1m6 -1v1m1 -1v1m1 -1v1m5 -1v1m10 -1v1m12 -1v1m6 -1v1m9 -1v1m4 -1v1m2 -1v1m2 -1v1M3 27v1m4 -1v1m9 -1v1m3 -1v1m3 -1v1m3 -1v1m8 -1v1m8 -1v1m11 -1v1m3 -1v1m2 -1v1m26 -1v1M0 30v1m6 -1v1m4 -1v1m10 -1v1m11 -1v1m24 -1v1m22 -1v1m3 -1v1m5 -1v1m4 -1v1M0 31v1m15 -1v1m17 -1v1m4 -1v1m7 -1v1m44 -1v1M23 32v1m16 -1v1m4 -1v1m34 -1v1m6 -1v1M8 33v1m3 -1v1m1 -1v1m8 -1v1m19 -1v1m7 -1v1m2 -1v1m8 -1v1m1 -1v1m7 -1v1m6 -1v1m3 -1v1M50 38v1M8 39v1m33 -1v1m2 -1v1m7 -1v1m9 -1v1m8 -1v1m4 -1v1m9 -1v1m6 -1v1"/>
<path transform="matrix(1.0044 0 0 10.0675 375.102 308.700)" stroke="#0b0c1a" stroke-width="1" d="M42 29v1"/>
<path transform="matrix(1.0044 0 0 10.0675 375.102 308.700)" stroke="#20211a" stroke-width="1" d="M8 0v1m33 -1v1m37 -1v1m1 -1v1M18 1v1m18 -1v1M47 2v1m10 -1v1M44 4v1M11 5v1m66 -1v1M59 6v1m13 -1v1M24 7v1m22 -1v1M2 8v1m7 -1v1m1 -1v1m4 -1v1M0 9v1m54 -1v1M55 10v1M25 11v1m53 -1v1m3 -1v1M45 12v1m17 -1v1m7 -1v1M38 13v1M25 14v1M31 15v1m42 -1v1M5 16v1M0 18v1M1 19v1m43 -1v1m15 -1v1m1 -1v1m22 -1v1M18 21v1m34 -1v1m11 -1v1M28 22v1m20 -1v1m4 -1v1m19 -1v1M54 23v1M85 24v1M84 25v1m5 -1v1M9 26v1m11 -1v1m33 -1v1M46 27v1M48 28v1M29 29v1m12 -1v1m43 -1v1M16 30v1m12 -1v1M4 31v1m4 -1v1M9 32v1m31 -1v1M80 33v1m5 -1v1M29 34v1m2 -1v1M21 37v1m31 -1v1M13 39v1m35 -1v1"/>
<path transform="matrix(1.0044 0 0 10.0675 375.102 308.700)" stroke="#34361a" stroke-width="1" d="M14 0v1m3 -1v1m4 -1v1m6 -1v1m9 -1v1m1 -1v1m2 -1v1m12 -1v1m4 -1v1M3 1v1m13 -1v1m5 -1v1m18 -1v1m9 -1v1m32 -1v1m3 -1v1M4 2v1m4 -1v1m17 -1v1m21 -1v1m8 -1v1m4 -1v1m13 -1v1M8 3v1m4 -1v1m7 -1v1m44 -1v1m2 -1v1m7 -1v1m5 -1v1m3 -1v1m2 -1v1m6 -1v1M2 4v1m51 -1v1m5 -1v1M12 5v1m5 -1v1m19 -1v1m1 -1v1m6 -1v1m12 -1v1m1 -1v1m1 -1v1m11 -1v1m17 -1v1M6 6v1m7 -1v1m7 -1v1m1 -1v1m8 -1v1m4 -1v1m13 -1v1m14 -1v1m14 -1v1m1 -1v1m8 -1v1m3 -1v1M1 7v1m5 -1v1m15 -1v1m5 -1v1m3 -1v1m1 -1v1m2 -1v1m19 -1v1m5 -1v1m21 -1v1m5 -1v1M37 8v1m1 -1v1m14 -1v1m7 -1v1m1 -1v1m20 -1v1m5 -1v1M19 9v1m4 -1v1m10 -1v1m11 -1v1m9 -1v1m12 -1v1m6 -1v1m4 -1v1m12 -1v1M5 10v1m5 -1v1m1 -1v1m12 -1v1m8 -1v1m17 -1v1m32 -1v1M0 11v1m12 -1v1m2 -1v1m16 -1v1m18 -1v1m9 -1v1m19 -1v1m7 -1v1M0 12v1m12 -1v1m5 -1v1m1 -1v1m3 -1v1m1 -1v1m15 -1v1m13 -1v1m1 -1v1m3 -1v1m5 -1v1m2 -1v1M5 13v1m10 -1v1m18 -1v1m36 -1v1m12 -1v1m3 -1v1M0 14v1m4 -1v1m1 -1v1m8 -1v1m1 -1v1m1 -1v1m8 -1v1m4 -1v1m18 -1v1m1 -1v1m15 -1v1m8 -1v1m12 -1v1M16 15v1m17 -1v1m2 -1v1m14 -1v1M2 16v1m4 -1v1m2 -1v1m5 -1v1m1 -1v1m3 -1v1m19 -1v1m1 -1v1m12 -1v1m27 -1v1m10 -1v1m1 -1v1M3 17v1m61 -1v1M32 18v1m20 -1v1m2 -1v1m12 -1v1m1 -1v1m3 -1v1m16 -1v1M36 19v1m15 -1v1m6 -1v1m9 -1v1m5 -1v1m17 -1v1M69 20v1M19 21v1m10 -1v1m7 -1v1m3 -1v1m8 -1v1m6 -1v1m1 -1v1m11 -1v1m3 -1v1m7 -1v1M11 24v1m8 -1v1m36 -1v1m23 -1v1m6 -1v1M77 25v1M50 26v1m6 -1v1m9 -1v1M27 27v1m12 -1v1m29 -1v1M0 29v1m7 -1v1m6 -1v1m3 -1v1m15 -1v1m1 -1v1m2 -1v1m27 -1v1m9 -1v1m1 -1v1M57 30v1M54 31v1m31 -1v1M36 32v1m18 -1v1M6 33v1m16 -1v1m1 -1v1m43 -1v1M39 35v1m22 -1v1M29 36v1m10 -1v1m4 -1v1m10 -1v1m2 -1v1m1 -1v1m27 -1v1m5 -1v1M34 37v1m5 -1v1m11 -1v1m22 -1v1m3 -1v1m5 -1v1m6 -1v1M30 38v1m8 -1v1M26 39v1"/>
<path transform="matrix(1.0044 0 0 10.0675 375.102 308.700)" stroke="#4a4d22" stroke-width="1" d="M9 0v1m20 -1v1m5 -1v1m11 -1v1m8 -1v1m3 -1v1m33 -1v1M13 1v1m6 -1v1m15 -1v1m12 -1v1m30 -1v1M0 2v1m14 -1v1m9 -1v1m13 -1v1m6 -1v1m20 -1v1m7 -1v1M10 3v1m3 -1v1m14 -1v1m2 -1v1m6 -1v1m7 -1v1m2 -1v1m4 -1v1m13 -1v1m1 -1v1m9 -1v1m7 -1v1m8 -1v1m3 -1v1M18 4v1m38 -1v1M8 5v1m18 -1v1m16 -1v1m19 -1v1m6 -1v1m4 -1v1m1 -1v1m2 -1v1m7 -1v1M5 6v1m6 -1v1m26 -1v1m11 -1v1m2 -1v1m3 -1v1m32 -1v1M18 7v1m2 -1v1m2 -1v1m9 -1v1m4 -1v1m3 -1v1m19 -1v1m1 -1v1m1 -1v1m3 -1v1m4 -1v1m6 -1v1m15 -1v1M8 8v1m13 -1v1m3 -1v1m3 -1v1m1 -1v1m16 -1v1m2 -1v1m12 -1v1m11 -1v1m5 -1v1M2 9v1m8 -1v1m3 -1v1m15 -1v1m35 -1v1m15 -1v1m1 -1v1m6 -1v1M12 10v1m4 -1v1m16 -1v1m12 -1v1m44 -1v1M11 11v1m13 -1v1m3 -1v1m1 -1v1m7 -1v1m9 -1v1m1 -1v1m21 -1v1m14 -1v1m5 -1v1m1 -1v1m3 -1v1M35 12v1m17 -1v1m5 -1v1m8 -1v1m7 -1v1m2 -1v1m5 -1v1m1 -1v1M3 13v1m9 -1v1m8 -1v1m21 -1v1m4 -1v1m38 -1v1m2 -1v1M10 14v1m26 -1v1m5 -1v1m9 -1v1m12 -1v1m8 -1v1m3 -1v1m10 -1v1m5 -1v1m1 -1v1M6 15v1m15 -1v1m3 -1v1m29 -1v1m4 -1v1m4 -1v1m15 -1v1M15 16v1m4 -1v1m4 -1v1m1 -1v1m8 -1v1m13 -1v1m5 -1v1m7 -1v1m5 -1v1m6 -1v1m1 -1v1m8 -1v1M1 17v1m35 -1v1m2 -1v1M28 18v1m8 -1v1m6 -1v1m1 -1v1m2 -1v1m2 -1v1m18 -1v1m11 -1v1m5 -1v1M17 19v1m8 -1v1m1 -1v1m14 -1v1m18 -1v1m26 -1v1m3 -1v1M0 20v1m17 -1v1m1 -1v1M11 21v1m10 -1v1m5 -1v1m1 -1v1m42 -1v1M3 23v1M8 24v1m10 -1v1m26 -1v1m7 -1v1m1 -1v1M42 25v1M42 26v1m28 -1v1M0 27v1m29 -1v1m59 -1v1M45 28v1m5 -1v1M64 29v1m13 -1v1m2 -1v1M47 30v1m7 -1v1m30 -1v1M5 31v1m13 -1v1M47 32v1M83 33v1m1 -1v1M7 34v1M8 35v1m30 -1v1m24 -1v1M7 36v1m7 -1v1m7 -1v1m17 -1v1m2 -1v1m18 -1v1m9 -1v1M2 37v1m26 -1v1m32 -1v1m28 -1v1m1 -1v1M6 38v1"/>
<path transform="matrix(1.0044 0 0 10.0675 375.102 308.700)" stroke="#60642a" stroke-width="1" d="M20 0v1m3 -1v1m19 -1v1m2 -1v1m15 -1v1m2 -1v1M22 1v1m7 -1v1m8 -1v1m6 -1v1m4 -1v1m5 -1v1m7 -1v1m16 -1v1m3 -1v1m9 -1v1M19 2v1m3 -1v1m5 -1v1m1 -1v1m16 -1v1m31 -1v1m10 -1v1M0 3v1m22 -1v1m6 -1v1m5 -1v1m8 -1v1m12 -1v1m13 -1v1M27 4v1m36 -1v1m18 -1v1M1 5v1m13 -1v1m16 -1v1m3 -1v1m2 -1v1m14 -1v1m15 -1v1m1 -1v1m1 -1v1m13 -1v1m8 -1v1M10 6v1m2 -1v1m18 -1v1m1 -1v1m5 -1v1m6 -1v1m14 -1v1m5 -1v1m1 -1v1m5 -1v1m22 -1v1M2 7v1m8 -1v1m24 -1v1m15 -1v1m16 -1v1m3 -1v1m6 -1v1m6 -1v1m4 -1v1m4 -1v1m1 -1v1M12 8v1m1 -1v1m4 -1v1m2 -1v1m1 -1v1m2 -1v1m11 -1v1m7 -1v1m30 -1v1m8 -1v1m6 -1v1m5 -1v1M1 9v1m3 -1v1m7 -1v1m11 -1v1m3 -1v1m20 -1v1m2 -1v1m5 -1v1m25 -1v1m3 -1v1m3 -1v1m1 -1v1m2 -1v1m2 -1v1M17 10v1m16 -1v1m7 -1v1m9 -1v1m7 -1v1m6 -1v1m1 -1v1m20 -1v1m1 -1v1M6 11v1m1 -1v1m32 -1v1m12 -1v1m5 -1v1M14 12v1m5 -1v1m6 -1v1m22 -1v1m6 -1v1m20 -1v1m3 -1v1M13 13v1m5 -1v1m8 -1v1m1 -1v1m1 -1v1m6 -1v1m20 -1v1m5 -1v1m20 -1v1M6 14v1m5 -1v1m13 -1v1m15 -1v1m19 -1v1m1 -1v1m21 -1v1m2 -1v1m5 -1v1M3 15v1m36 -1v1m9 -1v1m21 -1v1m1 -1v1m2 -1v1m17 -1v1M25 16v1m1 -1v1m9 -1v1m24 -1v1m13 -1v1m9 -1v1m4 -1v1M12 17v1m1 -1v1M17 18v1m21 -1v1m17 -1v1m14 -1v1m18 -1v1M13 19v1m11 -1v1m32 -1v1m7 -1v1m1 -1v1M55 20v1M1 21v1m7 -1v1m2 -1v1m10 -1v1m3 -1v1m22 -1v1m14 -1v1m5 -1v1m8 -1v1M9 23v1m38 -1v1m13 -1v1m4 -1v1m21 -1v1M20 24v1m33 -1v1m9 -1v1m24 -1v1M67 25v1M6 26v1m28 -1v1m27 -1v1m7 -1v1m1 -1v1m8 -1v1m6 -1v1m5 -1v1M84 27v1M87 28v1M3 29v1m1 -1v1m13 -1v1m6 -1v1m31 -1v1m2 -1v1M29 30v1M45 33v1m15 -1v1m19 -1v1M65 34v1M4 35v1m13 -1v1m6 -1v1m9 -1v1m32 -1v1m15 -1v1m7 -1v1M25 36v1m19 -1v1m3 -1v1m7 -1v1M1 37v1m70 -1v1m14 -1v1M13 38v1m10 -1v1M79 39v1"/>
<path transform="matrix(1.0044 0 0 10.0675 375.102 308.700)" stroke="#777b31" stroke-width="1" d="M7 0v1m18 -1v1m13 -1v1m10 -1v1m10 -1v1m6 -1v1m16 -1v1m2 -1v1M0 1v1m1 -1v1m8 -1v1m8 -1v1m10 -1v1m1 -1v1m3 -1v1m9 -1v1m4 -1v1m5 -1v1m7 -1v1m1 -1v1m9 -1v1m16 -1v1m6 -1v1M2 2v1m5 -1v1m49 -1v1m10 -1v1M24 3v1m7 -1v1m1 -1v1m13 -1v1m1 -1v1m13 -1v1m22 -1v1M86 4v1M2 5v1m25 -1v1m2 -1v1m19 -1v1m4 -1v1m28 -1v1M3 6v1m1 -1v1m18 -1v1m5 -1v1m13 -1v1m12 -1v1m2 -1v1m15 -1v1m7 -1v1m4 -1v1M3 7v1m2 -1v1m2 -1v1m79 -1v1M11 8v1m12 -1v1m8 -1v1m16 -1v1m6 -1v1m20 -1v1m4 -1v1m2 -1v1M35 9v1m26 -1v1m1 -1v1m5 -1v1m9 -1v1M4 10v1m3 -1v1m21 -1v1m7 -1v1m4 -1v1m48 -1v1M18 11v1m4 -1v1m1 -1v1m14 -1v1m3 -1v1m15 -1v1m15 -1v1m1 -1v1m6 -1v1m10 -1v1m1 -1v1M6 12v1m1 -1v1m1 -1v1m16 -1v1m4 -1v1m2 -1v1m1 -1v1m35 -1v1m5 -1v1m10 -1v1m1 -1v1M0 13v1m11 -1v1m3 -1v1m8 -1v1m2 -1v1m5 -1v1m3 -1v1m12 -1v1m5 -1v1m4 -1v1m7 -1v1m6 -1v1m10 -1v1m2 -1v1m2 -1v1m2 -1v1M17 14v1m15 -1v1m1 -1v1m2 -1v1m9 -1v1m9 -1v1m11 -1v1m15 -1v1m5 -1v1M8 15v1m4 -1v1m38 -1v1m5 -1v1m7 -1v1m20 -1v1m5 -1v1M9 16v1m19 -1v1m1 -1v1m13 -1v1m1 -1v1m20 -1v1m4 -1v1m15 -1v1M27 17v1m1 -1v1m27 -1v1M3 18v1m4 -1v1m1 -1v1m8 -1v1m4 -1v1m19 -1v1m1 -1v1m16 -1v1m8 -1v1m7 -1v1m1 -1v1m6 -1v1m6 -1v1M11 19v1m11 -1v1m8 -1v1m2 -1v1m16 -1v1m5 -1v1m1 -1v1m11 -1v1m9 -1v1M14 21v1m28 -1v1m2 -1v1m30 -1v1m11 -1v1M0 23v1m31 -1v1m1 -1v1m8 -1v1m1 -1v1m2 -1v1m7 -1v1m5 -1v1m1 -1v1M51 25v1M41 26v1m7 -1v1m34 -1v1m5 -1v1M13 28v1m11 -1v1m27 -1v1M5 29v1m15 -1v1m18 -1v1m49 -1v1M40 30v1m10 -1v1M33 31v1m17 -1v1M85 32v1M7 33v1M11 35v1m5 -1v1m2 -1v1m52 -1v1m1 -1v1M35 36v1m7 -1v1m19 -1v1m12 -1v1m2 -1v1m1 -1v1M30 37v1m1 -1v1m15 -1v1m12 -1v1m12 -1v1m11 -1v1M71 38v1"/>
<path transform="matrix(1.0044 0 0 10.0675 375.102 308.700)" stroke="#8e9238" stroke-width="1" d="M10 0v1M24 1v1M89 2v1M23 3v1M40 5v1M39 7v1M32 8v1m54 -1v1M42 9v1m16 -1v1M36 13v1M18 15v1M12 16v1M41 18v1m48 -1v1M89 19v1M13 21v1m2 -1v1m23 -1v1m8 -1v1m9 -1v1m26 -1v1m3 -1v1m2 -1v1M29 23v1m51 -1v1M64 24v1m7 -1v1M18 25v1m28 -1v1m4 -1v1m18 -1v1M0 26v1m8 -1v1m14 -1v1m1 -1v1m6 -1v1m34 -1v1m1 -1v1M43 28v1m3 -1v1m3 -1v1m9 -1v1M11 29v1m1 -1v1m6 -1v1m15 -1v1m11 -1v1m28 -1v1m3 -1v1M13 32v1m1 -1v1M26 33v1m5 -1v1M2 34v1m10 -1v1M13 35v1m11 -1v1m1 -1v1m51 -1v1M24 36v1m48 -1v1M6 37v1m2 -1v1m14 -1v1m18 -1v1m44 -1v1M57 38v1m7 -1v1m17 -1v1"/>
<path transform="matrix(1.0044 0 0 10.0675 375.102 308.700)" stroke="#a7ab38" stroke-width="1" d="M12 23v1m11 -1v1m11 -1v1m29 -1v1M72 24v1M53 25v1M64 27v1M1 29v1m46 -1v1m2 -1v1m37 -1v1"/>
<path transform="matrix(1.0044 0 0 10.0675 375.102 308.700)" stroke="#c0c438" stroke-width="1" d="M4 23v1m10 -1v1m58 -1v1"/>
<path transform="matrix(1.0044 0 0 10.0675 375.102 308.700)" stroke="#d6d536" stroke-width="1" d="M2 23v1"/>
</g></g></g>
<rect x="465.1" y="308.7" width="8.9" height="201.1" fill="#3674be"/>
<rect x="465.1" y="511" width="8.9" height="200.4" fill="#e5202f"/>
<rect x="146" y="713" width="171.9" height="9" fill="#3474be"/>
<rect x="319.7" y="713" width="144.8" height="9.2" fill="#e52336"/>
<g font-family='"Liberation Sans", sans-serif' font-size="10.1" fill="#2e2e2e" stroke="#2e2e2e" stroke-width="0.15" text-anchor="end" transform="translate(144.6 0) scale(0.96 1) translate(-144.6 0)"><text x="144.6" y="318.2">RASGEF1B</text><text x="144.6" y="328.3">CD83</text><text x="144.6" y="338.4">DNAJB14</text><text x="144.6" y="348.5">CCR7</text><text x="144.6" y="358.6">KIAA1683</text><text x="144.6" y="368.6">REL</text><text x="144.6" y="378.7">HSPH1</text><text x="144.6" y="388.8">KDM6B</text><text x="144.6" y="398.9">BTG1</text><text x="144.6" y="409.0">NR4A2</text><text x="144.6" y="419.1">TMEM2</text><text x="144.6" y="429.2">C9orf72</text><text x="144.6" y="439.3">DDX27</text><text x="144.6" y="449.4">LY9</text><text x="144.6" y="459.5">NR4A1</text><text x="144.6" y="469.5">PER1</text><text x="144.6" y="479.6">ARHGAP24</text><text x="144.6" y="489.7">NR4A3</text><text x="144.6" y="499.8">SKIL</text><text x="144.6" y="509.9">ZNF331</text><text x="144.6" y="520.0">FKBP11</text><text x="144.6" y="530.1">HM13</text><text x="144.6" y="540.2">SDC1</text><text x="144.6" y="550.3">GBP4</text><text x="144.6" y="560.4">ZBP1</text><text x="144.6" y="570.5">PRDX4</text><text x="144.6" y="580.5">SEC11C</text><text x="144.6" y="590.6">S100A11</text><text x="144.6" y="600.7">FKBP2</text><text x="144.6" y="610.8">PSME2</text><text x="144.6" y="620.9">PRDM1</text><text x="144.6" y="631.0">TRIB1</text><text x="144.6" y="641.1">TXNDC11</text><text x="144.6" y="651.2">SDF2L1</text><text x="144.6" y="661.3">XBP1</text><text x="144.6" y="671.3">CD38</text><text x="144.6" y="681.4">SUB1</text><text x="144.6" y="691.5">TMED9</text><text x="144.6" y="701.6">SLAMF7</text><text x="144.6" y="711.7">AQP3</text></g>
<g font-family='"Liberation Sans", sans-serif' font-size="11.3" fill="#222" text-anchor="middle"><text x="231.6" y="735.6">R</text><text x="398" y="735.6">NR</text></g>
<rect x="168.60" y="745.20" width="9.97" height="11.80" fill="#283996"/><rect x="178.27" y="745.20" width="9.97" height="11.80" fill="#2a368c"/><rect x="187.95" y="745.20" width="9.97" height="11.80" fill="#2a3280"/><rect x="197.62" y="745.20" width="9.97" height="11.80" fill="#2a2c76"/><rect x="207.29" y="745.20" width="9.97" height="11.80" fill="#262664"/><rect x="216.97" y="745.20" width="9.97" height="11.80" fill="#1e2050"/><rect x="226.64" y="745.20" width="9.97" height="11.80" fill="#12142a"/><rect x="236.31" y="745.20" width="9.97" height="11.80" fill="#0a0b12"/><rect x="245.99" y="745.20" width="9.97" height="11.80" fill="#2a2c16"/><rect x="255.66" y="745.20" width="9.97" height="11.80" fill="#484c22"/><rect x="265.33" y="745.20" width="9.97" height="11.80" fill="#686e2e"/><rect x="275.01" y="745.20" width="9.97" height="11.80" fill="#888e3a"/><rect x="284.68" y="745.20" width="9.97" height="11.80" fill="#a8b03c"/><rect x="294.35" y="745.20" width="9.97" height="11.80" fill="#c8ce3a"/><rect x="304.03" y="745.20" width="9.97" height="11.80" fill="#e8e234"/><rect x="168.60" y="745.20" width="145.10" height="11.80" fill="none" stroke="#777" stroke-width="0.8"/>
<g font-family='"Liberation Sans", sans-serif' font-size="10" fill="#1e1e1e" stroke="#1e1e1e" stroke-width="0.2"><text x="164.4" y="755.9" text-anchor="end">-2.5</text><text x="316.3" y="755.9">+2.5</text></g>
<defs><clipPath id="cC"><rect x="645.6" y="21.60" width="403.1" height="661.30"/></clipPath></defs><g clip-path="url(#cC)"><g filter="url(#bl)">
<rect x="645.60" y="21.60" width="72.40" height="661.30" fill="#0b0c1a"/>
<rect x="645.60" y="21.60" width="72.40" height="57.86" fill="#0b0c1a"/>
<rect x="645.60" y="79.46" width="72.40" height="8.27" fill="#1e1f4e"/>
<rect x="645.60" y="87.73" width="72.40" height="16.53" fill="#161838"/>
<rect x="645.60" y="104.26" width="72.40" height="24.80" fill="#0b0c1a"/>
<rect x="645.60" y="129.06" width="72.40" height="33.06" fill="#161838"/>
<rect x="645.60" y="162.13" width="72.40" height="16.53" fill="#0b0c1a"/>
<rect x="645.60" y="178.66" width="72.40" height="8.27" fill="#161838"/>
<rect x="645.60" y="186.92" width="72.40" height="148.79" fill="#0b0c1a"/>
<rect x="645.60" y="335.72" width="72.40" height="8.27" fill="#1e1f4e"/>
<rect x="645.60" y="343.98" width="72.40" height="16.53" fill="#0b0c1a"/>
<rect x="645.60" y="360.52" width="72.40" height="8.27" fill="#1e1f4e"/>
<rect x="645.60" y="368.78" width="72.40" height="8.27" fill="#0b0c1a"/>
<rect x="645.60" y="377.05" width="72.40" height="8.27" fill="#1e1f4e"/>
<rect x="645.60" y="385.31" width="72.40" height="16.53" fill="#161838"/>
<rect x="645.60" y="401.85" width="72.40" height="8.27" fill="#1e1f4e"/>
<rect x="645.60" y="410.11" width="72.40" height="8.27" fill="#0b0c1a"/>
<rect x="645.60" y="418.38" width="72.40" height="8.27" fill="#161838"/>
<rect x="645.60" y="426.65" width="72.40" height="8.27" fill="#0b0c1a"/>
<rect x="645.60" y="434.91" width="72.40" height="16.53" fill="#1e1f4e"/>
<rect x="645.60" y="451.44" width="72.40" height="8.27" fill="#0b0c1a"/>
<rect x="645.60" y="459.71" width="72.40" height="16.53" fill="#161838"/>
<rect x="645.60" y="476.24" width="72.40" height="16.53" fill="#1e1f4e"/>
<rect x="645.60" y="492.78" width="72.40" height="8.27" fill="#0b0c1a"/>
<rect x="645.60" y="501.04" width="72.40" height="8.27" fill="#1e1f4e"/>
<rect x="645.60" y="509.31" width="72.40" height="24.80" fill="#0b0c1a"/>
<rect x="645.60" y="534.11" width="72.40" height="16.53" fill="#1e1f4e"/>
<rect x="645.60" y="550.64" width="72.40" height="8.27" fill="#0b0c1a"/>
<rect x="645.60" y="558.91" width="72.40" height="8.27" fill="#1e1f4e"/>
<rect x="645.60" y="567.17" width="72.40" height="16.53" fill="#0b0c1a"/>
<rect x="645.60" y="583.71" width="72.40" height="8.27" fill="#1e1f4e"/>
<rect x="645.60" y="591.97" width="72.40" height="8.27" fill="#0b0c1a"/>
<rect x="645.60" y="600.24" width="72.40" height="16.53" fill="#1e1f4e"/>
<rect x="645.60" y="616.77" width="72.40" height="8.27" fill="#161838"/>
<rect x="645.60" y="625.04" width="72.40" height="41.33" fill="#0b0c1a"/>
<rect x="645.60" y="666.37" width="72.40" height="8.27" fill="#1e1f4e"/>
<rect x="645.60" y="674.63" width="72.40" height="8.27" fill="#0b0c1a"/>
<path transform="matrix(1.0056 0 0 8.2662 646.103 21.600)" stroke="#262664" stroke-width="1" d="M20 7v1M40 16v1M24 38v1m16 -1v1M29 41v1M37 43v1M71 46v1M18 50v1m19 -1v1M10 51v1m16 -1v1m3 -1v1M60 55v1M21 62v1m17 -1v1m13 -1v1M37 63v1M21 70v1M60 71v1m3 -1v1M0 78v1"/>
<path transform="matrix(1.0056 0 0 8.2662 646.103 21.600)" stroke="#1e1f4e" stroke-width="1" d="M37 14v1m1 -1v1M16 15v1M16 44v1M15 45v1m1 -1v1m53 -1v1M13 48v1m20 -1v1m1 -1v1M39 53v1M2 54v1m8 -1v1m19 -1v1m12 -1v1m4 -1v1m17 -1v1M19 72v1"/>
<path transform="matrix(1.0056 0 0 8.2662 646.103 21.600)" stroke="#161838" stroke-width="1" d="M53 7v1m8 -1v1m1 -1v1m1 -1v1m6 -1v1M60 23v1M8 38v1m5 -1v1m24 -1v1m12 -1v1m1 -1v1M4 41v1m18 -1v1m4 -1v1m20 -1v1m2 -1v1m1 -1v1m4 -1v1m1 -1v1m4 -1v1m1 -1v1m6 -1v1M3 43v1m4 -1v1m4 -1v1m1 -1v1m36 -1v1m3 -1v1M0 46v1m13 -1v1m3 -1v1m12 -1v1m16 -1v1m13 -1v1m2 -1v1m6 -1v1m4 -1v1M4 50v1m19 -1v1m11 -1v1m28 -1v1M0 51v1m15 -1v1m8 -1v1m15 -1v1m7 -1v1m3 -1v1m4 -1v1m10 -1v1m6 -1v1M0 55v1m1 -1v1m4 -1v1m6 -1v1m5 -1v1m1 -1v1m3 -1v1m1 -1v1m4 -1v1m10 -1v1m1 -1v1m12 -1v1m4 -1v1m5 -1v1m1 -1v1M6 56v1m7 -1v1m2 -1v1m2 -1v1m15 -1v1m12 -1v1m3 -1v1M5 58v1m4 -1v1m6 -1v1m22 -1v1m1 -1v1m30 -1v1M9 62v1m6 -1v1m24 -1v1m7 -1v1m17 -1v1m7 -1v1M1 63v1m2 -1v1m5 -1v1m10 -1v1m2 -1v1m4 -1v1m3 -1v1m2 -1v1m4 -1v1m1 -1v1m12 -1v1m3 -1v1m10 -1v1m7 -1v1M0 65v1m3 -1v1m21 -1v1m2 -1v1m3 -1v1m3 -1v1m16 -1v1M2 68v1m2 -1v1m20 -1v1m8 -1v1m6 -1v1m18 -1v1m3 -1v1M59 69v1M15 70v1m1 -1v1m2 -1v1m10 -1v1m1 -1v1M1 71v1m8 -1v1m7 -1v1m1 -1v1m11 -1v1m17 -1v1m2 -1v1m12 -1v1m8 -1v1M8 76v1M10 78v1m5 -1v1m5 -1v1m31 -1v1m3 -1v1m6 -1v1m1 -1v1"/>
<path transform="matrix(1.0056 0 0 8.2662 646.103 21.600)" stroke="#101229" stroke-width="1" d="M23 0v1m31 -1v1M12 1v1m20 -1v1m1 -1v1m35 -1v1M35 2v1M46 3v1m2 -1v1M3 5v1m9 -1v1m1 -1v1m19 -1v1m19 -1v1M20 6v1m23 -1v1m12 -1v1M62 9v1M28 10v1m21 -1v1m11 -1v1m7 -1v1m1 -1v1M8 11v1m10 -1v1m7 -1v1M13 12v1m34 -1v1m4 -1v1M67 13v1M43 15v1M54 16v1M17 17v1m16 -1v1m24 -1v1m7 -1v1M39 18v1m28 -1v1M6 20v1m29 -1v1m9 -1v1m7 -1v1m1 -1v1m10 -1v1m1 -1v1m7 -1v1M0 21v1m5 -1v1m10 -1v1m4 -1v1m12 -1v1m16 -1v1m8 -1v1M28 22v1m5 -1v1m3 -1v1m10 -1v1m1 -1v1m8 -1v1m2 -1v1m1 -1v1m3 -1v1m10 -1v1M3 23v1m3 -1v1m24 -1v1m11 -1v1m2 -1v1m2 -1v1m14 -1v1M11 24v1m6 -1v1m16 -1v1m2 -1v1m4 -1v1m2 -1v1m2 -1v1m9 -1v1m7 -1v1m7 -1v1m5 -1v1M0 25v1m3 -1v1m45 -1v1m5 -1v1M14 26v1m29 -1v1m2 -1v1m8 -1v1m7 -1v1m2 -1v1M11 27v1m38 -1v1m2 -1v1m1 -1v1m2 -1v1m14 -1v1M0 28v1m17 -1v1m7 -1v1m19 -1v1m2 -1v1m7 -1v1m16 -1v1M13 29v1m1 -1v1m5 -1v1m1 -1v1m17 -1v1m5 -1v1m1 -1v1m4 -1v1m1 -1v1m1 -1v1m18 -1v1M8 30v1m6 -1v1m10 -1v1m18 -1v1m8 -1v1m14 -1v1m4 -1v1M6 31v1m12 -1v1m8 -1v1m2 -1v1m27 -1v1m11 -1v1M1 32v1m5 -1v1m3 -1v1m2 -1v1m2 -1v1m15 -1v1m24 -1v1m3 -1v1m4 -1v1m1 -1v1m8 -1v1M5 33v1m6 -1v1m1 -1v1m4 -1v1m4 -1v1m3 -1v1m7 -1v1m15 -1v1M10 34v1m4 -1v1m3 -1v1m1 -1v1m8 -1v1m13 -1v1m23 -1v1M20 35v1m7 -1v1m1 -1v1m2 -1v1m7 -1v1m6 -1v1m6 -1v1m2 -1v1m2 -1v1m5 -1v1m1 -1v1m8 -1v1M0 36v1m3 -1v1m8 -1v1m11 -1v1m9 -1v1m6 -1v1m8 -1v1m23 -1v1m1 -1v1M22 37v1m17 -1v1m11 -1v1m3 -1v1m2 -1v1M7 39v1m8 -1v1m22 -1v1m13 -1v1m8 -1v1m1 -1v1m7 -1v1M14 40v1m3 -1v1m5 -1v1m11 -1v1m13 -1v1m10 -1v1M60 41v1M0 42v1m1 -1v1m1 -1v1m2 -1v1m41 -1v1m12 -1v1m4 -1v1m3 -1v1m2 -1v1M3 44v1m7 -1v1m27 -1v1m27 -1v1M1 45v1m9 -1v1M0 47v1m19 -1v1m4 -1v1m8 -1v1m15 -1v1m3 -1v1m1 -1v1m15 -1v1M2 48v1M15 49v1m10 -1v1m12 -1v1m7 -1v1m6 -1v1m2 -1v1M0 52v1m1 -1v1m18 -1v1m20 -1v1m1 -1v1m1 -1v1m14 -1v1m2 -1v1m1 -1v1M40 53v1M9 54v1m3 -1v1m15 -1v1M22 57v1m28 -1v1m11 -1v1m2 -1v1m2 -1v1m2 -1v1M3 59v1m7 -1v1m8 -1v1m6 -1v1m29 -1v1m2 -1v1m6 -1v1M9 60v1m8 -1v1m13 -1v1m4 -1v1m2 -1v1m10 -1v1m4 -1v1M2 61v1m11 -1v1m2 -1v1m4 -1v1m2 -1v1m4 -1v1m6 -1v1M5 64v1m9 -1v1m4 -1v1m1 -1v1m7 -1v1m18 -1v1m4 -1v1m5 -1v1m2 -1v1m5 -1v1M3 66v1m13 -1v1m2 -1v1m9 -1v1m8 -1v1m1 -1v1m22 -1v1M8 67v1m6 -1v1m1 -1v1m16 -1v1m4 -1v1m2 -1v1m1 -1v1m7 -1v1m3 -1v1M6 69v1m7 -1v1m8 -1v1m5 -1v1m19 -1v1m9 -1v1m4 -1v1m3 -1v1m5 -1v1M3 72v1M4 73v1m18 -1v1m2 -1v1m1 -1v1m3 -1v1m18 -1v1m16 -1v1M40 74v1m12 -1v1m7 -1v1m1 -1v1m5 -1v1M1 75v1m5 -1v1m6 -1v1m16 -1v1m15 -1v1m3 -1v1m3 -1v1m14 -1v1M29 76v1m3 -1v1m2 -1v1m24 -1v1m13 -1v1M27 77v1m10 -1v1m2 -1v1m13 -1v1m1 -1v1m6 -1v1m1 -1v1m9 -1v1M2 79v1m8 -1v1m2 -1v1m13 -1v1m7 -1v1m1 -1v1m2 -1v1m4 -1v1m8 -1v1m15 -1v1m3 -1v1"/>
<path transform="matrix(1.0056 0 0 8.2662 646.103 21.600)" stroke="#0b0c1a" stroke-width="1" d="M4 53v1"/>
<path transform="matrix(1.0056 0 0 8.2662 646.103 21.600)" stroke="#20211a" stroke-width="1" d="M1 0v1m1 -1v1m8 -1v1m14 -1v1m1 -1v1m7 -1v1m3 -1v1m3 -1v1m2 -1v1m1 -1v1m4 -1v1m24 -1v1M26 1v1m1 -1v1m12 -1v1m4 -1v1M11 2v1m14 -1v1m5 -1v1m19 -1v1m8 -1v1m7 -1v1m2 -1v1M0 3v1m9 -1v1m4 -1v1m2 -1v1m6 -1v1m4 -1v1m10 -1v1m18 -1v1m3 -1v1m7 -1v1M10 4v1m3 -1v1m1 -1v1m1 -1v1m2 -1v1m9 -1v1m10 -1v1m4 -1v1m6 -1v1m4 -1v1m8 -1v1m13 -1v1M0 5v1m7 -1v1m2 -1v1m32 -1v1m1 -1v1M2 6v1m6 -1v1m9 -1v1m19 -1v1m14 -1v1m21 -1v1M58 7v1m13 -1v1M2 8v1m1 -1v1m15 -1v1m1 -1v1m12 -1v1m6 -1v1m3 -1v1m1 -1v1m17 -1v1M5 9v1m9 -1v1m6 -1v1m13 -1v1m11 -1v1m7 -1v1m4 -1v1m10 -1v1m2 -1v1m3 -1v1M19 10v1m11 -1v1m5 -1v1m1 -1v1m14 -1v1m4 -1v1m1 -1v1m4 -1v1m12 -1v1M4 11v1m12 -1v1m1 -1v1m10 -1v1m5 -1v1m3 -1v1m8 -1v1m5 -1v1m3 -1v1m2 -1v1m8 -1v1m3 -1v1M16 12v1m8 -1v1m31 -1v1m10 -1v1M7 13v1m1 -1v1m1 -1v1m1 -1v1m3 -1v1m5 -1v1m25 -1v1m5 -1v1m7 -1v1m15 -1v1M2 14v1m1 -1v1m3 -1v1m55 -1v1M3 15v1m22 -1v1m1 -1v1m21 -1v1m2 -1v1m9 -1v1m5 -1v1m3 -1v1M3 16v1m5 -1v1m5 -1v1m16 -1v1m19 -1v1m1 -1v1m11 -1v1M2 17v1m17 -1v1m3 -1v1m33 -1v1m8 -1v1M8 18v1m18 -1v1m3 -1v1m2 -1v1m2 -1v1m30 -1v1m1 -1v1M13 19v1m12 -1v1m10 -1v1m4 -1v1m17 -1v1m1 -1v1m14 -1v1M23 20v1m35 -1v1M17 21v1m18 -1v1M10 22v1m2 -1v1m2 -1v1M4 23v1m49 -1v1m13 -1v1M15 24v1m40 -1v1M32 25v1m5 -1v1m6 -1v1m8 -1v1m14 -1v1M18 26v1m49 -1v1M26 27v1m43 -1v1M14 28v1m55 -1v1M64 29v1M40 31v1M40 33v1m20 -1v1m1 -1v1M11 35v1m55 -1v1M35 36v1M9 37v1m17 -1v1m12 -1v1M56 38v1M29 39v1M40 40v1M58 47v1m13 -1v1M10 48v1m11 -1v1m20 -1v1M38 49v1m23 -1v1M41 50v1M15 52v1m11 -1v1M26 53v1m9 -1v1m1 -1v1M24 54v1m27 -1v1M2 56v1m58 -1v1M49 57v1M58 58v1M32 61v1M2 64v1m35 -1v1M25 66v1M6 67v1m22 -1v1m1 -1v1m4 -1v1m9 -1v1M19 69v1m1 -1v1m2 -1v1M4 70v1m38 -1v1M4 72v1m55 -1v1M58 73v1M59 75v1M28 76v1m11 -1v1M22 77v1m10 -1v1m38 -1v1M16 79v1"/>
<path transform="matrix(1.0056 0 0 8.2662 646.103 21.600)" stroke="#34361a" stroke-width="1" d="M0 0v1m5 -1v1m1 -1v1m33 -1v1m4 -1v1m7 -1v1m8 -1v1m8 -1v1M0 1v1m1 -1v1m16 -1v1m1 -1v1m7 -1v1m13 -1v1m2 -1v1m2 -1v1m8 -1v1m1 -1v1m4 -1v1m3 -1v1m1 -1v1m2 -1v1M4 2v1m5 -1v1m5 -1v1m7 -1v1m1 -1v1m4 -1v1m15 -1v1m3 -1v1m2 -1v1m15 -1v1M3 3v1m5 -1v1m4 -1v1m15 -1v1m12 -1v1m2 -1v1m1 -1v1m7 -1v1m2 -1v1m3 -1v1m8 -1v1M4 4v1m7 -1v1m14 -1v1m12 -1v1m2 -1v1m13 -1v1m12 -1v1M11 5v1m25 -1v1m33 -1v1M3 6v1m7 -1v1m1 -1v1m5 -1v1m21 -1v1m14 -1v1M7 7v1m5 -1v1m9 -1v1m6 -1v1m1 -1v1m7 -1v1m9 -1v1m5 -1v1m18 -1v1M0 8v1m1 -1v1m5 -1v1m2 -1v1m5 -1v1m11 -1v1m5 -1v1m4 -1v1m24 -1v1M3 9v1m9 -1v1m12 -1v1m2 -1v1m3 -1v1m1 -1v1m1 -1v1m7 -1v1m2 -1v1m8 -1v1m8 -1v1m4 -1v1m3 -1v1M20 10v1m3 -1v1m2 -1v1m9 -1v1m19 -1v1m11 -1v1M2 11v1m4 -1v1m4 -1v1m19 -1v1m38 -1v1M6 12v1m17 -1v1m11 -1v1m3 -1v1m11 -1v1m11 -1v1m2 -1v1M14 13v1m23 -1v1m20 -1v1m2 -1v1m2 -1v1m2 -1v1m2 -1v1m1 -1v1M8 14v1m6 -1v1m15 -1v1m36 -1v1m4 -1v1M9 15v1m12 -1v1m15 -1v1m2 -1v1m1 -1v1m18 -1v1m2 -1v1m3 -1v1m2 -1v1m7 -1v1M9 16v1m6 -1v1m43 -1v1m4 -1v1m2 -1v1m2 -1v1M1 17v1m3 -1v1m10 -1v1m6 -1v1m11 -1v1m17 -1v1m5 -1v1m1 -1v1m11 -1v1M2 18v1m3 -1v1m2 -1v1m2 -1v1m1 -1v1m4 -1v1m5 -1v1m8 -1v1m8 -1v1m6 -1v1m2 -1v1m2 -1v1m1 -1v1m16 -1v1M0 19v1m4 -1v1m4 -1v1m7 -1v1m5 -1v1m1 -1v1m5 -1v1m4 -1v1m1 -1v1m1 -1v1m6 -1v1m8 -1v1m19 -1v1m3 -1v1m2 -1v1M67 27v1M6 28v1M17 30v1m40 -1v1M56 31v1m7 -1v1M13 35v1m11 -1v1m45 -1v1M2 36v1m27 -1v1M55 38v1M22 39v1M21 40v1m16 -1v1M10 42v1m53 -1v1M13 43v1m32 -1v1M46 44v1m22 -1v1M27 46v1M40 47v1m12 -1v1m15 -1v1M8 48v1m3 -1v1m3 -1v1m13 -1v1m18 -1v1m15 -1v1M17 49v1m1 -1v1M5 50v1m1 -1v1m15 -1v1m7 -1v1m18 -1v1m12 -1v1m12 -1v1M37 52v1m28 -1v1m2 -1v1M53 53v1m2 -1v1m8 -1v1M18 54v1m21 -1v1M29 55v1M43 56v1m9 -1v1M66 57v1m3 -1v1M1 58v1m1 -1v1m9 -1v1m51 -1v1M63 59v1m2 -1v1M40 60v1m26 -1v1M61 63v1M34 66v1M17 67v1M62 68v1M33 69v1M53 70v1m8 -1v1M4 71v1m36 -1v1m12 -1v1m1 -1v1M28 72v1m10 -1v1m20 -1v1M37 73v1M45 74v1M50 75v1M66 76v1M1 77v1M28 78v1m8 -1v1M31 79v1m23 -1v1"/>
<path transform="matrix(1.0056 0 0 8.2662 646.103 21.600)" stroke="#4a4d22" stroke-width="1" d="M9 0v1m6 -1v1m2 -1v1m38 -1v1m13 -1v1M10 1v1m43 -1v1m7 -1v1M10 2v1m14 -1v1m5 -1v1m2 -1v1m1 -1v1m1 -1v1m5 -1v1m2 -1v1m5 -1v1m6 -1v1m11 -1v1M14 3v1m29 -1v1m16 -1v1m9 -1v1M29 4v1m12 -1v1m6 -1v1m7 -1v1m5 -1v1m11 -1v1M4 5v1m6 -1v1m14 -1v1m3 -1v1m3 -1v1m4 -1v1m15 -1v1m14 -1v1M33 6v1m15 -1v1m11 -1v1m2 -1v1m7 -1v1M46 7v1m5 -1v1M7 8v1m28 -1v1m9 -1v1m8 -1v1m14 -1v1m4 -1v1M4 9v1m12 -1v1m12 -1v1m4 -1v1m3 -1v1m12 -1v1m2 -1v1m3 -1v1m5 -1v1m1 -1v1m3 -1v1M4 10v1m1 -1v1m4 -1v1m4 -1v1m1 -1v1m15 -1v1m10 -1v1m2 -1v1m1 -1v1m1 -1v1m5 -1v1M19 11v1m4 -1v1m3 -1v1m4 -1v1m9 -1v1m7 -1v1m11 -1v1M60 12v1m2 -1v1m6 -1v1M20 13v1m2 -1v1m18 -1v1m18 -1v1m13 -1v1M9 14v1m22 -1v1m15 -1v1m4 -1v1m3 -1v1m3 -1v1m7 -1v1m1 -1v1M19 15v1m41 -1v1M1 16v1m18 -1v1m9 -1v1m19 -1v1m16 -1v1m2 -1v1m2 -1v1M8 17v1m2 -1v1m17 -1v1m1 -1v1m9 -1v1m7 -1v1m22 -1v1m2 -1v1m1 -1v1M20 18v1m2 -1v1m10 -1v1m4 -1v1m14 -1v1m10 -1v1M7 19v1m10 -1v1m2 -1v1m18 -1v1m3 -1v1m3 -1v1m5 -1v1m4 -1v1m2 -1v1m1 -1v1M9 24v1M23 25v1m17 -1v1M7 26v1M56 27v1M12 28v1m8 -1v1m28 -1v1m17 -1v1M57 29v1M32 30v1M12 31v1M34 32v1M6 33v1M31 35v1m16 -1v1m9 -1v1M19 36v1m27 -1v1M48 37v1M11 39v1m14 -1v1m3 -1v1m4 -1v1m12 -1v1M65 40v1m1 -1v1M23 41v1m12 -1v1m28 -1v1M5 42v1m4 -1v1m6 -1v1m7 -1v1M8 43v1m42 -1v1m19 -1v1M27 44v1m43 -1v1M3 45v1m18 -1v1m23 -1v1m4 -1v1M21 47v1M7 48v1m8 -1v1m10 -1v1m1 -1v1m6 -1v1m14 -1v1m3 -1v1m20 -1v1M31 50v1m4 -1v1m1 -1v1m8 -1v1m4 -1v1M11 51v1m25 -1v1m13 -1v1M9 52v1m44 -1v1M5 53v1m7 -1v1m2 -1v1m34 -1v1M5 54v1m16 -1v1m22 -1v1M12 55v1m12 -1v1M25 56v1m37 -1v1M3 57v1m24 -1v1m10 -1v1m31 -1v1M4 58v1m19 -1v1m3 -1v1m5 -1v1M15 59v1m1 -1v1m36 -1v1m14 -1v1M51 60v1m5 -1v1M23 61v1m7 -1v1m10 -1v1M11 64v1m29 -1v1m23 -1v1M34 65v1m5 -1v1m14 -1v1M49 66v1M40 67v1m15 -1v1m3 -1v1M0 68v1m25 -1v1M1 69v1m56 -1v1M27 70v1m4 -1v1m5 -1v1m13 -1v1m22 -1v1M14 71v1m15 -1v1m20 -1v1m22 -1v1M25 72v1m16 -1v1m7 -1v1m1 -1v1m8 -1v1M9 73v1m23 -1v1m2 -1v1m7 -1v1m4 -1v1M31 74v1m17 -1v1m9 -1v1m13 -1v1M24 76v1m21 -1v1m20 -1v1M19 77v1m19 -1v1m6 -1v1M17 78v1M7 79v1"/>
<path transform="matrix(1.0056 0 0 8.2662 646.103 21.600)" stroke="#60642a" stroke-width="1" d="M3 0v1m1 -1v1m7 -1v1m1 -1v1m4 -1v1m10 -1v1m1 -1v1m2 -1v1m2 -1v1m6 -1v1M2 1v1m11 -1v1m11 -1v1m7 -1v1m3 -1v1m15 -1v1m5 -1v1M7 2v1m9 -1v1m7 -1v1m5 -1v1m8 -1v1m1 -1v1m15 -1v1m13 -1v1M1 3v1m36 -1v1M3 4v1m5 -1v1m35 -1v1M14 5v1m14 -1v1m22 -1v1m2 -1v1m3 -1v1m9 -1v1M4 6v1m14 -1v1m3 -1v1m4 -1v1m4 -1v1m16 -1v1M34 7v1m5 -1v1m8 -1v1m1 -1v1m7 -1v1M28 8v1m2 -1v1m26 -1v1M10 9v1M15 10v1m1 -1v1m40 -1v1M11 11v1m29 -1v1m7 -1v1M3 12v1m19 -1v1M19 13v1M23 14v1m25 -1v1m4 -1v1M8 15v1m4 -1v1m19 -1v1m9 -1v1m27 -1v1M0 16v1m16 -1v1m26 -1v1m10 -1v1m16 -1v1m2 -1v1M0 17v1m13 -1v1m21 -1v1m12 -1v1M0 18v1m24 -1v1m46 -1v1M2 19v1m16 -1v1m11 -1v1m21 -1v1M10 25v1M22 27v1M33 28v1m13 -1v1M71 29v1M27 31v1m10 -1v1m4 -1v1M17 32v1m44 -1v1M31 33v1M7 35v1m53 -1v1M48 36v1m11 -1v1M15 37v1m18 -1v1M47 39v1M1 40v1m3 -1v1m1 -1v1m42 -1v1M11 41v1m1 -1v1m59 -1v1M6 42v1m25 -1v1m1 -1v1M7 44v1m16 -1v1m7 -1v1m14 -1v1M8 45v1m1 -1v1m8 -1v1m1 -1v1m31 -1v1m6 -1v1m6 -1v1M12 46v1m27 -1v1M1 47v1M3 48v1m45 -1v1M1 49v1m22 -1v1m1 -1v1m23 -1v1M17 51v1m20 -1v1m3 -1v1m16 -1v1m4 -1v1M10 52v1m1 -1v1m6 -1v1m12 -1v1m21 -1v1M8 53v1m13 -1v1m41 -1v1M17 54v1m15 -1v1m38 -1v1M44 55v1m3 -1v1M71 56v1M23 57v1m16 -1v1m12 -1v1M10 58v1m34 -1v1m10 -1v1m3 -1v1m4 -1v1m10 -1v1M39 59v1m19 -1v1M67 60v1M3 61v1m50 -1v1M38 63v1M51 65v1m8 -1v1M38 66v1M10 67v1m1 -1v1m1 -1v1M1 70v1M5 72v1m16 -1v1m3 -1v1m31 -1v1m16 -1v1M1 73v1m4 -1v1m37 -1v1m11 -1v1M47 74v1m14 -1v1M3 75v1M13 76v1m12 -1v1m10 -1v1m18 -1v1m3 -1v1m8 -1v1M45 77v1m1 -1v1m1 -1v1M4 78v1M14 79v1"/>
<path transform="matrix(1.0056 0 0 8.2662 646.103 21.600)" stroke="#777b31" stroke-width="1" d="M14 0v1m5 -1v1m14 -1v1m1 -1v1m36 -1v1M8 1v1m3 -1v1m17 -1v1m9 -1v1m7 -1v1m23 -1v1M13 2v1m5 -1v1m2 -1v1m28 -1v1m5 -1v1M40 3v1m20 -1v1m6 -1v1M7 4v1m17 -1v1m6 -1v1m8 -1v1m4 -1v1m9 -1v1m10 -1v1M56 5v1M19 6v1m9 -1v1m18 -1v1M0 7v1m4 -1v1m6 -1v1m3 -1v1m1 -1v1m2 -1v1m6 -1v1m2 -1v1m32 -1v1m10 -1v1m4 -1v1M4 8v1m12 -1v1m7 -1v1m11 -1v1m2 -1v1m18 -1v1m7 -1v1m3 -1v1m3 -1v1m2 -1v1M2 9v1m6 -1v1m1 -1v1m18 -1v1m15 -1v1m4 -1v1m25 -1v1M2 10v1m1 -1v1m4 -1v1m10 -1v1m16 -1v1m18 -1v1m1 -1v1m5 -1v1m1 -1v1m7 -1v1M0 11v1m15 -1v1m5 -1v1m11 -1v1m19 -1v1m6 -1v1m4 -1v1m5 -1v1M10 12v1m9 -1v1m1 -1v1m8 -1v1m1 -1v1m10 -1v1m2 -1v1m8 -1v1M23 13v1m18 -1v1m23 -1v1M0 14v1m1 -1v1m25 -1v1m28 -1v1m4 -1v1m12 -1v1M10 15v1m18 -1v1m5 -1v1m20 -1v1M12 16v1m10 -1v1m14 -1v1m1 -1v1m20 -1v1M23 17v1m7 -1v1M34 18v1m22 -1v1M49 19v1M19 25v1m26 -1v1M31 26v1M16 27v1m9 -1v1M50 28v1M36 29v1M4 31v1m66 -1v1M9 35v1m14 -1v1m21 -1v1m8 -1v1M7 36v1m13 -1v1m38 -1v1M16 37v1m8 -1v1m33 -1v1M2 39v1m33 -1v1m13 -1v1M16 41v1m2 -1v1m29 -1v1M8 42v1m6 -1v1M36 43v1M6 44v1m46 -1v1m19 -1v1M5 45v1m15 -1v1m3 -1v1m36 -1v1m3 -1v1M21 46v1m19 -1v1m12 -1v1m4 -1v1M17 47v1m9 -1v1M5 48v1m11 -1v1m31 -1v1M43 49v1m14 -1v1M17 50v1m50 -1v1M4 52v1m58 -1v1M13 53v1M36 54v1m13 -1v1m3 -1v1M3 55v1m36 -1v1m7 -1v1m21 -1v1M3 56v1m13 -1v1m21 -1v1M16 57v1m30 -1v1M46 58v1m9 -1v1m4 -1v1M34 59v1m1 -1v1m6 -1v1m1 -1v1m6 -1v1m12 -1v1m2 -1v1M43 60v1m11 -1v1M42 61v1M13 62v1M26 63v1m2 -1v1M61 64v1M28 65v1m2 -1v1m5 -1v1m22 -1v1M2 66v1m13 -1v1m18 -1v1m11 -1v1m9 -1v1M57 67v1M3 68v1m5 -1v1m58 -1v1M28 69v1m28 -1v1m7 -1v1M54 70v1m3 -1v1m9 -1v1M18 71v1m6 -1v1m7 -1v1M6 72v1m21 -1v1m35 -1v1M30 73v1m36 -1v1M1 74v1m4 -1v1m7 -1v1m4 -1v1m10 -1v1m8 -1v1m37 -1v1M38 75v1m26 -1v1M7 77v1m9 -1v1m46 -1v1M5 78v1m42 -1v1m20 -1v1M56 79v1"/>
<path transform="matrix(1.0056 0 0 8.2662 646.103 21.600)" stroke="#8e9238" stroke-width="1" d="M21 0v1m1 -1v1m38 -1v1m1 -1v1M47 1v1M0 2v1m1 -1v1m2 -1v1m5 -1v1m4 -1v1m43 -1v1m3 -1v1m1 -1v1m4 -1v1m7 -1v1m1 -1v1M52 3v1m5 -1v1M9 4v1m44 -1v1m14 -1v1M22 5v1m22 -1v1m9 -1v1m1 -1v1m16 -1v1M22 6v1m1 -1v1m11 -1v1m4 -1v1m2 -1v1m18 -1v1m4 -1v1M6 7v1m11 -1v1m43 -1v1M26 8v1m19 -1v1m18 -1v1M7 9v1M6 10v1m5 -1v1m27 -1v1m8 -1v1M7 11v1m42 -1v1M9 12v1m21 -1v1m1 -1v1m4 -1v1m1 -1v1m6 -1v1m2 -1v1m1 -1v1m1 -1v1m12 -1v1m9 -1v1M5 13v1m25 -1v1m4 -1v1m1 -1v1M7 14v1m20 -1v1m1 -1v1m4 -1v1m1 -1v1m11 -1v1m1 -1v1m12 -1v1M0 15v1m1 -1v1m5 -1v1m40 -1v1m8 -1v1m11 -1v1m4 -1v1M20 16v1m3 -1v1m23 -1v1M15 17v1m55 -1v1M13 18v1m10 -1v1M9 19v1m42 -1v1m15 -1v1M37 23v1M42 24v1M12 25v1m27 -1v1M56 26v1M0 27v1M32 29v1m37 -1v1M5 30v1m48 -1v1M25 31v1m20 -1v1m8 -1v1m4 -1v1M31 32v1M18 35v1M44 36v1m5 -1v1m18 -1v1M7 37v1m55 -1v1M0 39v1m57 -1v1m12 -1v1M19 40v1m29 -1v1m4 -1v1m17 -1v1M9 41v1M12 42v1m25 -1v1m6 -1v1M22 44v1M6 45v1m33 -1v1m8 -1v1m5 -1v1m6 -1v1M43 46v1M25 47v1m13 -1v1m1 -1v1m5 -1v1m16 -1v1M38 48v1m30 -1v1M29 49v1m4 -1v1M66 50v1M33 51v1m2 -1v1M10 53v1m32 -1v1m9 -1v1m1 -1v1M14 54v1m26 -1v1m17 -1v1m2 -1v1M8 55v1m61 -1v1M43 57v1m2 -1v1M13 58v1m5 -1v1m1 -1v1m1 -1v1M37 59v1m31 -1v1M57 60v1M29 62v1m25 -1v1m7 -1v1M13 63v1m30 -1v1m22 -1v1M17 65v1m35 -1v1M12 66v1M1 67v1m40 -1v1M6 68v1m7 -1v1m15 -1v1m1 -1v1M71 69v1M60 70v1M9 72v1m13 -1v1m18 -1v1m11 -1v1m10 -1v1m8 -1v1M12 73v1m40 -1v1m3 -1v1m9 -1v1M53 74v1m15 -1v1M25 75v1M9 76v1m18 -1v1m22 -1v1M13 77v1m8 -1v1m8 -1v1M69 78v1"/>
<path transform="matrix(1.0056 0 0 8.2662 646.103 21.600)" stroke="#a7ab38" stroke-width="1" d="M13 0v1m38 -1v1m11 -1v1M7 1v1m12 -1v1m1 -1v1m10 -1v1m11 -1v1m21 -1v1m4 -1v1M2 2v1m3 -1v1m49 -1v1m6 -1v1M5 3v1m19 -1v1m12 -1v1m2 -1v1m20 -1v1M16 4v1m6 -1v1m35 -1v1M15 5v1m6 -1v1m25 -1v1m1 -1v1m11 -1v1M26 6v1m9 -1v1m21 -1v1M5 7v1m31 -1v1m16 -1v1m5 -1v1M42 8v1m5 -1v1m2 -1v1m2 -1v1m2 -1v1M11 9v1m4 -1v1m38 -1v1m13 -1v1M0 10v1m1 -1v1m9 -1v1m8 -1v1m6 -1v1m42 -1v1m3 -1v1M33 11v1m9 -1v1m12 -1v1m4 -1v1m4 -1v1M4 12v1m39 -1v1m23 -1v1M4 13v1m29 -1v1m9 -1v1m11 -1v1m16 -1v1M11 14v1m4 -1v1m45 -1v1M18 15v1m5 -1v1m9 -1v1m5 -1v1m5 -1v1m8 -1v1m18 -1v1M6 16v1m35 -1v1m2 -1v1m1 -1v1m27 -1v1M9 17v1m42 -1v1M3 18v1m18 -1v1m17 -1v1m2 -1v1M6 19v1m17 -1v1m1 -1v1m18 -1v1m22 -1v1M38 23v1M26 26v1M19 27v1m45 -1v1M56 28v1M6 30v1m12 -1v1M62 33v1M28 34v1M27 36v1m25 -1v1M27 37v1m22 -1v1m9 -1v1M4 39v1m49 -1v1M23 42v1M12 44v1m20 -1v1M2 45v1m36 -1v1m18 -1v1M63 47v1M17 48v1M13 49v1m27 -1v1M0 50v1m42 -1v1m12 -1v1M22 52v1m6 -1v1m35 -1v1M37 54v1m31 -1v1M49 56v1m17 -1v1M13 57v1m11 -1v1m2 -1v1M27 58v1m12 -1v1m26 -1v1m1 -1v1M40 59v1m11 -1v1M60 63v1M13 66v1M56 67v1m11 -1v1M34 68v1M65 69v1m3 -1v1M25 71v1m44 -1v1M6 74v1M19 76v1M17 77v1m18 -1v1M49 78v1m6 -1v1M57 79v1"/>
<path transform="matrix(1.0056 0 0 8.2662 646.103 21.600)" stroke="#c0c438" stroke-width="1" d="M20 0v1m26 -1v1m2 -1v1m4 -1v1m11 -1v1m8 -1v1M36 1v1m12 -1v1m4 -1v1m19 -1v1M56 2v1M2 3v1m2 -1v1m51 -1v1m6 -1v1m3 -1v1M6 4v1m26 -1v1m28 -1v1m8 -1v1M16 5v1m43 -1v1M7 6v1m20 -1v1m3 -1v1m27 -1v1m3 -1v1m4 -1v1M9 7v1m21 -1v1m13 -1v1m11 -1v1M5 8v1m6 -1v1m10 -1v1m34 -1v1m4 -1v1M41 9v1m18 -1v1m10 -1v1M31 10v1m9 -1v1m5 -1v1M3 11v1m6 -1v1m3 -1v1m29 -1v1m29 -1v1M18 12v1m36 -1v1m3 -1v1M15 13v1m1 -1v1m8 -1v1m1 -1v1m4 -1v1m2 -1v1m7 -1v1m9 -1v1m13 -1v1M47 14v1M14 15v1m6 -1v1m14 -1v1m18 -1v1M11 16v1m3 -1v1m55 -1v1M5 17v1m2 -1v1m18 -1v1m14 -1v1m2 -1v1m20 -1v1m10 -1v1M42 18v1m27 -1v1M3 19v1m58 -1v1m1 -1v1M59 37v1M2 47v1m30 -1v1M44 48v1m10 -1v1m8 -1v1m9 -1v1M48 52v1m1 -1v1m19 -1v1M30 53v1M25 54v1M56 56v1M11 57v1m14 -1v1m19 -1v1m27 -1v1M30 58v1M26 59v1m17 -1v1M39 70v1M41 71v1m5 -1v1M7 72v1M41 78v1"/>
<path transform="matrix(1.0056 0 0 8.2662 646.103 21.600)" stroke="#d6d536" stroke-width="1" d="M18 0v1m18 -1v1m11 -1v1m9 -1v1m3 -1v1m6 -1v1M4 1v1m1 -1v1m1 -1v1m8 -1v1m2 -1v1m5 -1v1m1 -1v1m23 -1v1m18 -1v1m6 -1v1m1 -1v1M19 2v1m8 -1v1m15 -1v1m1 -1v1M7 3v1m3 -1v1m6 -1v1m13 -1v1M18 4v1m9 -1v1m21 -1v1m1 -1v1m6 -1v1m11 -1v1M1 5v1m1 -1v1m18 -1v1m5 -1v1m8 -1v1m27 -1v1M15 6v1m32 -1v1m23 -1v1M23 7v1m14 -1v1M12 8v1m13 -1v1m2 -1v1m33 -1v1M18 9v1m18 -1v1m3 -1v1m29 -1v1M21 10v1m1 -1v1m25 -1v1M66 11v1m5 -1v1M11 12v1m3 -1v1m11 -1v1M0 13v1m21 -1v1m5 -1v1m1 -1v1m17 -1v1m2 -1v1m3 -1v1m1 -1v1M19 14v1m3 -1v1m12 -1v1m1 -1v1m4 -1v1m4 -1v1m24 -1v1M7 15v1m41 -1v1m22 -1v1M26 16v1m12 -1v1m15 -1v1m3 -1v1M3 17v1m15 -1v1m3 -1v1M1 18v1m11 -1v1m39 -1v1m1 -1v1m1 -1v1M45 19v1m8 -1v1m5 -1v1m1 -1v1m4 -1v1M0 37v1M18 48v1m2 -1v1M21 49v1m13 -1v1m30 -1v1M7 50v1m38 -1v1m6 -1v1M12 52v1M6 53v1M30 54v1m1 -1v1m34 -1v1M15 57v1m18 -1v1M28 58v1m1 -1v1M6 70v1m2 -1v1m57 -1v1M19 71v1m15 -1v1M36 72v1M40 78v1m26 -1v1M60 79v1"/>
<path transform="matrix(1.0056 0 0 8.2662 646.103 21.600)" stroke="#ebe634" stroke-width="1" d="M23 1v1m41 -1v1m1 -1v1M6 2v1m9 -1v1m24 -1v1m28 -1v1M11 3v1m36 -1v1M31 4v1M37 5v1m1 -1v1m1 -1v1m23 -1v1M52 6v1m1 -1v1m1 -1v1m12 -1v1M25 7v1M14 8v1m29 -1v1m7 -1v1M22 9v1M28 11v1m8 -1v1M5 12v1m21 -1v1M11 13v1m40 -1v1M62 14v1m4 -1v1M22 15v1M2 16v1m43 -1v1m16 -1v1M24 17v1M37 18v1M27 19v1m6 -1v1m34 -1v1M19 37v1m49 -1v1M19 48v1m40 -1v1M61 50v1M31 52v1m16 -1v1M47 54v1M58 56v1M32 57v1m8 -1v1m8 -1v1M0 58v1m25 -1v1m26 -1v1M3 71v1M45 72v1"/>
<rect x="720.00" y="21.60" width="63.70" height="661.30" fill="#0b0c1a"/>
<rect x="720.00" y="21.60" width="63.70" height="57.86" fill="#0b0c1a"/>
<rect x="720.00" y="79.46" width="63.70" height="8.27" fill="#1e1f4e"/>
<rect x="720.00" y="87.73" width="63.70" height="8.27" fill="#161838"/>
<rect x="720.00" y="96.00" width="63.70" height="8.27" fill="#1e1f4e"/>
<rect x="720.00" y="104.26" width="63.70" height="24.80" fill="#0b0c1a"/>
<rect x="720.00" y="129.06" width="63.70" height="33.06" fill="#1e1f4e"/>
<rect x="720.00" y="162.13" width="63.70" height="16.53" fill="#0b0c1a"/>
<rect x="720.00" y="178.66" width="63.70" height="8.27" fill="#1e1f4e"/>
<rect x="720.00" y="186.92" width="63.70" height="173.59" fill="#0b0c1a"/>
<rect x="720.00" y="360.52" width="63.70" height="8.27" fill="#262664"/>
<rect x="720.00" y="368.78" width="63.70" height="8.27" fill="#0b0c1a"/>
<rect x="720.00" y="377.05" width="63.70" height="8.27" fill="#262664"/>
<rect x="720.00" y="385.31" width="63.70" height="16.53" fill="#161838"/>
<rect x="720.00" y="401.85" width="63.70" height="8.27" fill="#262664"/>
<rect x="720.00" y="410.11" width="63.70" height="8.27" fill="#0b0c1a"/>
<rect x="720.00" y="418.38" width="63.70" height="8.27" fill="#1e1f4e"/>
<rect x="720.00" y="426.65" width="63.70" height="8.27" fill="#0b0c1a"/>
<rect x="720.00" y="434.91" width="63.70" height="8.27" fill="#1e1f4e"/>
<rect x="720.00" y="443.18" width="63.70" height="8.27" fill="#262664"/>
<rect x="720.00" y="451.44" width="63.70" height="8.27" fill="#0b0c1a"/>
<rect x="720.00" y="459.71" width="63.70" height="24.80" fill="#1e1f4e"/>
<rect x="720.00" y="484.51" width="63.70" height="8.27" fill="#262664"/>
<rect x="720.00" y="492.78" width="63.70" height="8.27" fill="#0b0c1a"/>
<rect x="720.00" y="501.04" width="63.70" height="8.27" fill="#1e1f4e"/>
<rect x="720.00" y="509.31" width="63.70" height="24.80" fill="#0b0c1a"/>
<rect x="720.00" y="534.11" width="63.70" height="16.53" fill="#1e1f4e"/>
<rect x="720.00" y="550.64" width="63.70" height="8.27" fill="#0b0c1a"/>
<rect x="720.00" y="558.91" width="63.70" height="8.27" fill="#161838"/>
<rect x="720.00" y="567.17" width="63.70" height="16.53" fill="#0b0c1a"/>
<rect x="720.00" y="583.71" width="63.70" height="8.27" fill="#1e1f4e"/>
<rect x="720.00" y="591.97" width="63.70" height="8.27" fill="#0b0c1a"/>
<rect x="720.00" y="600.24" width="63.70" height="8.27" fill="#161838"/>
<rect x="720.00" y="608.50" width="63.70" height="16.53" fill="#1e1f4e"/>
<rect x="720.00" y="625.04" width="63.70" height="41.33" fill="#0b0c1a"/>
<rect x="720.00" y="666.37" width="63.70" height="8.27" fill="#1e1f4e"/>
<rect x="720.00" y="674.63" width="63.70" height="8.27" fill="#0b0c1a"/>
<path transform="matrix(0.9953 0 0 8.2662 720.498 21.600)" stroke="#282a6f" stroke-width="1" d="M35 41v1M40 43v1M6 46v1m22 -1v1M50 51v1M45 56v1m8 -1v1m1 -1v1m4 -1v1"/>
<path transform="matrix(0.9953 0 0 8.2662 720.498 21.600)" stroke="#262664" stroke-width="1" d="M49 7v1M5 9v1m58 -1v1M44 13v1m5 -1v1M13 16v1m20 -1v1m21 -1v1M49 19v1m1 -1v1M47 48v1M23 50v1m10 -1v1m2 -1v1m4 -1v1m10 -1v1M4 53v1M5 55v1m2 -1v1M25 62v1M55 63v1M13 71v1m5 -1v1"/>
<path transform="matrix(0.9953 0 0 8.2662 720.498 21.600)" stroke="#1e1f4e" stroke-width="1" d="M20 8v1m29 -1v1M3 41v1m10 -1v1m1 -1v1m16 -1v1m10 -1v1m9 -1v1m11 -1v1M7 43v1m15 -1v1m13 -1v1m2 -1v1m1 -1v1m1 -1v1m17 -1v1m6 -1v1M19 44v1m3 -1v1m12 -1v1M25 45v1m37 -1v1M5 46v1m4 -1v1m13 -1v1m5 -1v1m7 -1v1m2 -1v1m10 -1v1M1 51v1m8 -1v1m3 -1v1m3 -1v1m1 -1v1m18 -1v1m2 -1v1m7 -1v1m3 -1v1m1 -1v1m8 -1v1m8 -1v1M0 56v1m3 -1v1m1 -1v1m7 -1v1m11 -1v1m3 -1v1m1 -1v1m3 -1v1m2 -1v1m1 -1v1m23 -1v1M10 65v1m20 -1v1M5 70v1m10 -1v1m1 -1v1m40 -1v1"/>
<path transform="matrix(0.9953 0 0 8.2662 720.498 21.600)" stroke="#161838" stroke-width="1" d="M0 7v1m2 -1v1m7 -1v1m15 -1v1m5 -1v1m1 -1v1m6 -1v1m2 -1v1m9 -1v1m9 -1v1M2 9v1m10 -1v1m1 -1v1m4 -1v1m3 -1v1m13 -1v1m2 -1v1m7 -1v1m1 -1v1M6 13v1m28 -1v1m2 -1v1M10 14v1m45 -1v1m1 -1v1M0 15v1m2 -1v1m5 -1v1m12 -1v1m6 -1v1m5 -1v1m13 -1v1m1 -1v1m4 -1v1m7 -1v1M6 16v1m15 -1v1m3 -1v1m21 -1v1m2 -1v1m3 -1v1m2 -1v1M3 19v1m21 -1v1m1 -1v1m5 -1v1m1 -1v1m8 -1v1m9 -1v1m8 -1v1M7 40v1M3 48v1m6 -1v1m16 -1v1m6 -1v1m4 -1v1m4 -1v1m15 -1v1m6 -1v1M6 50v1m4 -1v1m8 -1v1m25 -1v1m4 -1v1M56 51v1M13 53v1m9 -1v1m4 -1v1m4 -1v1m4 -1v1m1 -1v1m3 -1v1m3 -1v1m12 -1v1m3 -1v1m5 -1v1m2 -1v1M2 54v1m13 -1v1m3 -1v1m8 -1v1m1 -1v1m1 -1v1m6 -1v1m10 -1v1m3 -1v1m4 -1v1M18 55v1m3 -1v1m3 -1v1m12 -1v1m2 -1v1m1 -1v1m16 -1v1m1 -1v1M6 58v1m22 -1v1m12 -1v1m2 -1v1m13 -1v1m1 -1v1m6 -1v1M0 62v1m1 -1v1m1 -1v1m2 -1v1m17 -1v1m18 -1v1m3 -1v1m3 -1v1m16 -1v1M7 63v1m3 -1v1m28 -1v1m7 -1v1m5 -1v1m11 -1v1M57 66v1M0 68v1m11 -1v1m14 -1v1m2 -1v1m7 -1v1m10 -1v1M2 71v1m4 -1v1m4 -1v1m7 -1v1m6 -1v1m10 -1v1m21 -1v1m5 -1v1M3 72v1m6 -1v1m29 -1v1m2 -1v1m3 -1v1m5 -1v1m1 -1v1m2 -1v1m2 -1v1m5 -1v1m3 -1v1M6 78v1m5 -1v1m6 -1v1m4 -1v1m13 -1v1m27 -1v1"/>
<path transform="matrix(0.9953 0 0 8.2662 720.498 21.600)" stroke="#101229" stroke-width="1" d="M16 0v1m7 -1v1m12 -1v1m1 -1v1m9 -1v1m1 -1v1m4 -1v1m4 -1v1M1 1v1m2 -1v1m2 -1v1m15 -1v1m7 -1v1m6 -1v1m1 -1v1m11 -1v1m11 -1v1M7 2v1m14 -1v1m14 -1v1M0 3v1m18 -1v1m19 -1v1m18 -1v1M2 4v1m3 -1v1m4 -1v1m5 -1v1m37 -1v1m1 -1v1m4 -1v1m2 -1v1M14 5v1m14 -1v1m11 -1v1m1 -1v1m4 -1v1M44 6v1m4 -1v1m12 -1v1m1 -1v1M15 8v1m8 -1v1m17 -1v1m19 -1v1M21 10v1m3 -1v1m1 -1v1m6 -1v1m9 -1v1m23 -1v1M6 11v1m18 -1v1m3 -1v1m1 -1v1m20 -1v1M4 12v1m5 -1v1m1 -1v1m4 -1v1m6 -1v1m15 -1v1m15 -1v1m11 -1v1M17 17v1m8 -1v1m7 -1v1m8 -1v1m2 -1v1m2 -1v1m5 -1v1M41 18v1m4 -1v1m6 -1v1m3 -1v1M57 20v1M22 21v1m37 -1v1M5 22v1m26 -1v1m8 -1v1M22 23v1m7 -1v1M36 24v1M22 25v1m20 -1v1M21 26v1m22 -1v1m3 -1v1M57 27v1M14 30v1m35 -1v1m9 -1v1M45 31v1m5 -1v1m2 -1v1M11 32v1M0 33v1M49 34v1m7 -1v1m5 -1v1M34 36v1M39 39v1M3 40v1m1 -1v1m24 -1v1m12 -1v1m4 -1v1m4 -1v1m10 -1v1M4 42v1m4 -1v1m1 -1v1m2 -1v1m2 -1v1m2 -1v1m4 -1v1m15 -1v1m20 -1v1m2 -1v1M12 44v1m15 -1v1m13 -1v1M36 45v1m12 -1v1m3 -1v1m8 -1v1M4 47v1m17 -1v1m8 -1v1m14 -1v1m5 -1v1m2 -1v1m7 -1v1m2 -1v1m1 -1v1m1 -1v1M1 49v1m17 -1v1m3 -1v1m1 -1v1m5 -1v1m6 -1v1m7 -1v1m1 -1v1m4 -1v1m6 -1v1M19 52v1m1 -1v1m3 -1v1m8 -1v1m5 -1v1m14 -1v1m8 -1v1M6 57v1m8 -1v1m10 -1v1m4 -1v1m2 -1v1m2 -1v1m5 -1v1m12 -1v1m1 -1v1m4 -1v1m4 -1v1m5 -1v1M0 59v1m8 -1v1m8 -1v1m25 -1v1m8 -1v1m5 -1v1m7 -1v1M18 60v1m8 -1v1m2 -1v1m10 -1v1M0 61v1m10 -1v1m13 -1v1m10 -1v1m3 -1v1m2 -1v1m8 -1v1m5 -1v1m8 -1v1M3 64v1m10 -1v1m4 -1v1m18 -1v1m8 -1v1m1 -1v1m2 -1v1m7 -1v1m1 -1v1m1 -1v1m6 -1v1M2 65v1m12 -1v1m42 -1v1M6 66v1m6 -1v1m3 -1v1m11 -1v1m8 -1v1m3 -1v1m17 -1v1m4 -1v1m1 -1v1M5 67v1m15 -1v1m7 -1v1m12 -1v1m21 -1v1m3 -1v1M4 69v1m8 -1v1m1 -1v1m4 -1v1m20 -1v1m6 -1v1m1 -1v1m6 -1v1m9 -1v1m3 -1v1M9 70v1m51 -1v1M3 73v1m1 -1v1m5 -1v1m8 -1v1m11 -1v1m3 -1v1m2 -1v1m6 -1v1m9 -1v1m7 -1v1M5 74v1m3 -1v1m2 -1v1m3 -1v1m7 -1v1m10 -1v1m5 -1v1m1 -1v1m23 -1v1m2 -1v1M9 75v1m9 -1v1m3 -1v1m20 -1v1m10 -1v1m1 -1v1M7 76v1m1 -1v1m9 -1v1m2 -1v1m9 -1v1m34 -1v1M0 77v1m16 -1v1m5 -1v1m11 -1v1m19 -1v1M10 79v1m10 -1v1m9 -1v1m1 -1v1m9 -1v1m16 -1v1m2 -1v1m1 -1v1"/>
<path transform="matrix(0.9953 0 0 8.2662 720.498 21.600)" stroke="#20211a" stroke-width="1" d="M9 0v1M36 1v1m1 -1v1m21 -1v1M3 2v1m1 -1v1m29 -1v1m12 -1v1M61 3v1M37 4v1M1 5v1m24 -1v1m9 -1v1m1 -1v1M22 6v1M3 8v1m13 -1v1M14 10v1m39 -1v1m8 -1v1M7 11v1m16 -1v1m26 -1v1m1 -1v1m13 -1v1M5 12v1m12 -1v1m6 -1v1m26 -1v1M56 18v1M40 21v1M52 22v1M28 31v1M46 40v1M24 42v1m22 -1v1M55 47v1m1 -1v1M6 52v1m19 -1v1m23 -1v1M12 57v1M4 59v1m19 -1v1M16 60v1M14 61v1M12 64v1m25 -1v1M2 66v1m22 -1v1M16 67v1M7 69v1m2 -1v1m5 -1v1m8 -1v1m27 -1v1M27 74v1M37 79v1"/>
<path transform="matrix(0.9953 0 0 8.2662 720.498 21.600)" stroke="#34361a" stroke-width="1" d="M61 0v1m1 -1v1M6 1v1m1 -1v1M1 3v1m1 -1v1m1 -1v1m2 -1v1m9 -1v1m2 -1v1m6 -1v1m10 -1v1m27 -1v1M20 4v1m1 -1v1m8 -1v1m4 -1v1M42 5v1m7 -1v1m14 -1v1M32 8v1m30 -1v1M10 10v1m2 -1v1m5 -1v1m5 -1v1m1 -1v1m3 -1v1m11 -1v1m20 -1v1m1 -1v1M1 11v1m3 -1v1m28 -1v1M16 12v1m36 -1v1m1 -1v1m2 -1v1M10 13v1m46 -1v1M25 16v1M11 17v1M23 18v1m11 -1v1m4 -1v1m5 -1v1m16 -1v1m1 -1v1M49 45v1m8 -1v1M7 49v1M7 54v1M60 55v1M4 60v1m41 -1v1M27 61v1M29 64v1m13 -1v1m7 -1v1M12 65v1m9 -1v1m25 -1v1M7 67v1m1 -1v1M35 68v1M57 69v1M6 70v1m56 -1v1M0 71v1m45 -1v1M2 72v1m5 -1v1m11 -1v1M20 73v1M0 75v1M23 78v1m40 -1v1"/>
<path transform="matrix(0.9953 0 0 8.2662 720.498 21.600)" stroke="#4a4d22" stroke-width="1" d="M29 0v1m20 -1v1M10 1v1m43 -1v1m7 -1v1M19 3v1m19 -1v1m15 -1v1M6 4v1m2 -1v1m3 -1v1m8 -1v1M3 5v1m6 -1v1m39 -1v1M31 6v1m4 -1v1m7 -1v1M11 10v1m2 -1v1m3 -1v1m3 -1v1M29 11v1M11 12v1M12 13v1m5 -1v1m43 -1v1M8 14v1m35 -1v1M55 16v1m6 -1v1M3 17v1m30 -1v1m1 -1v1m3 -1v1M8 18v1m11 -1v1M4 20v1m23 -1v1M55 21v1M44 22v1M24 27v1M27 30v1M29 45v1M28 48v1M39 59v1M25 60v1m9 -1v1m23 -1v1M24 63v1m4 -1v1m12 -1v1M13 65v1m10 -1v1m30 -1v1M13 66v1m23 -1v1m25 -1v1M11 67v1M15 69v1m12 -1v1M18 70v1m3 -1v1m2 -1v1m20 -1v1M34 71v1m9 -1v1m10 -1v1m2 -1v1m5 -1v1M8 73v1M43 74v1M63 75v1M25 77v1M38 78v1"/>
<path transform="matrix(0.9953 0 0 8.2662 720.498 21.600)" stroke="#60642a" stroke-width="1" d="M11 0v1m29 -1v1M0 1v1m44 -1v1m15 -1v1M2 2v1m54 -1v1M6 3v1m1 -1v1m2 -1v1m24 -1v1m12 -1v1m18 -1v1M15 4v1m9 -1v1m1 -1v1m5 -1v1m24 -1v1m5 -1v1M11 5v1m30 -1v1M33 6v1M18 9v1m39 -1v1M15 10v1m3 -1v1m11 -1v1m15 -1v1M2 11v1m8 -1v1m35 -1v1m1 -1v1m10 -1v1M6 12v1m22 -1v1M26 13v1m1 -1v1M22 14v1m8 -1v1m31 -1v1M22 16v1M52 17v1m10 -1v1M31 18v1m4 -1v1M18 19v1M1 20v1m2 -1v1m23 -1v1m2 -1v1m11 -1v1m13 -1v1m8 -1v1M2 21v1m6 -1v1m9 -1v1m6 -1v1m13 -1v1m1 -1v1m1 -1v1m8 -1v1m8 -1v1M1 22v1m15 -1v1m9 -1v1m11 -1v1m7 -1v1m3 -1v1m10 -1v1m5 -1v1M2 23v1m12 -1v1m31 -1v1m1 -1v1m11 -1v1m4 -1v1M4 24v1m20 -1v1m28 -1v1M3 25v1m7 -1v1m4 -1v1m18 -1v1m1 -1v1m15 -1v1m9 -1v1M2 26v1m4 -1v1m1 -1v1m1 -1v1m46 -1v1m2 -1v1m4 -1v1m2 -1v1M6 27v1m2 -1v1m15 -1v1m14 -1v1m1 -1v1m13 -1v1m7 -1v1M2 29v1m2 -1v1m22 -1v1m4 -1v1m23 -1v1m9 -1v1M2 30v1m24 -1v1m2 -1v1m5 -1v1m9 -1v1m20 -1v1M2 31v1m9 -1v1m14 -1v1m12 -1v1m4 -1v1m6 -1v1m7 -1v1m4 -1v1M21 32v1m1 -1v1m1 -1v1m3 -1v1m1 -1v1m4 -1v1m6 -1v1m19 -1v1M13 33v1m16 -1v1m15 -1v1M11 34v1m12 -1v1m6 -1v1m2 -1v1m12 -1v1m1 -1v1m2 -1v1M3 36v1m8 -1v1m1 -1v1m16 -1v1m3 -1v1m12 -1v1m11 -1v1M6 37v1m1 -1v1m5 -1v1m3 -1v1m23 -1v1m15 -1v1m4 -1v1M12 39v1m2 -1v1m15 -1v1M27 40v1M59 44v1M53 45v1M42 47v1m16 -1v1M27 48v1M36 49v1M60 50v1M1 52v1M8 57v1m17 -1v1M20 58v1m4 -1v1m29 -1v1M34 59v1M55 60v1M20 61v1m12 -1v1M50 62v1M17 63v1m9 -1v1m1 -1v1m4 -1v1M27 66v1m1 -1v1m20 -1v1M24 67v1m1 -1v1m25 -1v1M46 68v1m14 -1v1M24 70v1M28 72v1M42 74v1M36 75v1M40 76v1M1 77v1"/>
<path transform="matrix(0.9953 0 0 8.2662 720.498 21.600)" stroke="#777b31" stroke-width="1" d="M4 0v1m17 -1v1m10 -1v1M17 1v1m11 -1v1m13 -1v1M8 3v1m9 -1v1m6 -1v1m26 -1v1M10 4v1m7 -1v1m1 -1v1m22 -1v1m7 -1v1m6 -1v1m10 -1v1M2 5v1m13 -1v1m42 -1v1M11 8v1M6 9v1m35 -1v1M0 10v1m1 -1v1m19 -1v1m15 -1v1m1 -1v1m15 -1v1M30 11v1m1 -1v1M2 12v1m34 -1v1M3 13v1m1 -1v1m12 -1v1m14 -1v1m10 -1v1M28 14v1m4 -1v1M35 15v1M1 17v1m1 -1v1m44 -1v1M5 19v1m8 -1v1m4 -1v1m18 -1v1M12 20v1m3 -1v1m1 -1v1m5 -1v1m2 -1v1m6 -1v1m5 -1v1m10 -1v1m18 -1v1M18 21v1m17 -1v1m9 -1v1m4 -1v1m2 -1v1M18 22v1m33 -1v1m6 -1v1m5 -1v1M5 23v1m12 -1v1m21 -1v1m5 -1v1m7 -1v1m9 -1v1m1 -1v1M3 24v1m2 -1v1m6 -1v1m1 -1v1m1 -1v1m3 -1v1m2 -1v1m8 -1v1m22 -1v1m9 -1v1m2 -1v1M9 25v1m9 -1v1m6 -1v1m2 -1v1m3 -1v1m7 -1v1m5 -1v1m6 -1v1m16 -1v1M9 26v1m4 -1v1m3 -1v1m1 -1v1m25 -1v1m7 -1v1m1 -1v1m5 -1v1m6 -1v1M3 27v1m22 -1v1m2 -1v1m1 -1v1m13 -1v1m1 -1v1m18 -1v1M2 28v1m13 -1v1m18 -1v1m3 -1v1m2 -1v1M0 29v1m6 -1v1m3 -1v1m4 -1v1m11 -1v1m4 -1v1m1 -1v1m28 -1v1m4 -1v1M3 30v1m2 -1v1m3 -1v1m4 -1v1m19 -1v1m3 -1v1m10 -1v1m1 -1v1m6 -1v1M0 31v1m1 -1v1m4 -1v1m2 -1v1m3 -1v1m10 -1v1m2 -1v1m1 -1v1m25 -1v1m12 -1v1m3 -1v1M1 32v1m2 -1v1m13 -1v1M10 33v1m1 -1v1m1 -1v1m15 -1v1m4 -1v1m14 -1v1m7 -1v1M13 34v1m17 -1v1m11 -1v1m4 -1v1m2 -1v1m8 -1v1M13 35v1m8 -1v1m12 -1v1m2 -1v1m15 -1v1m5 -1v1M6 36v1m7 -1v1m24 -1v1m7 -1v1m6 -1v1m8 -1v1m4 -1v1M10 37v1m7 -1v1m9 -1v1m1 -1v1m1 -1v1m5 -1v1m15 -1v1m4 -1v1m3 -1v1m1 -1v1m7 -1v1M5 38v1m7 -1v1m6 -1v1m6 -1v1m30 -1v1m8 -1v1m1 -1v1M25 39v1m1 -1v1m5 -1v1m11 -1v1m10 -1v1m1 -1v1m4 -1v1M13 45v1m30 -1v1M24 47v1M19 48v1m29 -1v1M29 49v1M1 54v1m13 -1v1m7 -1v1m39 -1v1M57 59v1M23 60v1M18 61v1M33 62v1m1 -1v1m15 -1v1m2 -1v1m4 -1v1M4 63v1m1 -1v1M4 64v1M3 66v1m26 -1v1m33 -1v1M20 68v1m9 -1v1m28 -1v1m5 -1v1M0 69v1m47 -1v1M45 70v1M50 71v1m13 -1v1M52 74v1m3 -1v1m1 -1v1M1 75v1M21 76v1M10 77v1m36 -1v1M2 78v1M5 79v1m39 -1v1"/>
<path transform="matrix(0.9953 0 0 8.2662 720.498 21.600)" stroke="#8e9238" stroke-width="1" d="M18 0v1m1 -1v1m22 -1v1m14 -1v1m3 -1v1M51 1v1m3 -1v1M12 2v1M41 3v1m1 -1v1M3 4v1M4 5v1m19 -1v1m1 -1v1M43 6v1M41 8v1M31 9v1m24 -1v1M8 10v1m1 -1v1m24 -1v1m1 -1v1m21 -1v1m4 -1v1M54 11v1M33 12v1m14 -1v1M37 13v1m15 -1v1M1 14v1m16 -1v1m10 -1v1M6 15v1m22 -1v1m6 -1v1m7 -1v1m1 -1v1M56 17v1M39 18v1M22 20v1M0 21v1m15 -1v1m6 -1v1m6 -1v1m4 -1v1m1 -1v1m21 -1v1M8 22v1m6 -1v1m10 -1v1m13 -1v1m17 -1v1m1 -1v1M4 23v1m12 -1v1m2 -1v1m15 -1v1m18 -1v1m1 -1v1M0 24v1m1 -1v1m1 -1v1m12 -1v1m21 -1v1m11 -1v1m1 -1v1m2 -1v1m9 -1v1M11 25v1m2 -1v1m4 -1v1m2 -1v1m4 -1v1m4 -1v1m19 -1v1M0 26v1m4 -1v1m1 -1v1m22 -1v1m9 -1v1m5 -1v1m4 -1v1m13 -1v1M0 27v1m30 -1v1m4 -1v1m11 -1v1m1 -1v1M1 28v1m3 -1v1m6 -1v1m7 -1v1m3 -1v1m1 -1v1m6 -1v1m10 -1v1m6 -1v1m6 -1v1m1 -1v1m9 -1v1M7 29v1m1 -1v1m24 -1v1m11 -1v1m5 -1v1m1 -1v1M6 30v1m10 -1v1m3 -1v1m5 -1v1m17 -1v1m5 -1v1m2 -1v1m13 -1v1M19 31v1m5 -1v1m5 -1v1m4 -1v1m9 -1v1m14 -1v1m1 -1v1M0 32v1m2 -1v1m15 -1v1m17 -1v1m6 -1v1m21 -1v1M1 33v1m17 -1v1m14 -1v1m26 -1v1m5 -1v1M6 34v1m2 -1v1m26 -1v1m6 -1v1m8 -1v1m9 -1v1M0 35v1m1 -1v1m2 -1v1m2 -1v1m3 -1v1m6 -1v1m5 -1v1m1 -1v1m6 -1v1m5 -1v1m5 -1v1m4 -1v1m1 -1v1m18 -1v1m3 -1v1M18 36v1m9 -1v1m19 -1v1m7 -1v1m3 -1v1M13 37v1m3 -1v1m13 -1v1m1 -1v1m2 -1v1m7 -1v1m1 -1v1m1 -1v1m17 -1v1M4 38v1m6 -1v1m7 -1v1m2 -1v1m2 -1v1m8 -1v1m4 -1v1m1 -1v1m1 -1v1m4 -1v1m1 -1v1m5 -1v1m1 -1v1m3 -1v1m2 -1v1m4 -1v1m1 -1v1M2 39v1m11 -1v1m5 -1v1m1 -1v1m1 -1v1m15 -1v1m8 -1v1m15 -1v1M11 45v1M33 48v1M15 49v1m10 -1v1M15 52v1M17 55v1M5 56v1m1 -1v1M47 58v1M30 59v1m3 -1v1M5 60v1m17 -1v1M41 61v1m15 -1v1M38 62v1m21 -1v1M45 64v1m15 -1v1M35 65v1m10 -1v1m4 -1v1M35 66v1M47 67v1m6 -1v1M6 68v1m37 -1v1m4 -1v1m14 -1v1M25 69v1m1 -1v1M44 70v1m3 -1v1M31 71v1m5 -1v1M32 72v1m28 -1v1M31 74v1m6 -1v1m4 -1v1M57 77v1M24 78v1m27 -1v1"/>
<path transform="matrix(0.9953 0 0 8.2662 720.498 21.600)" stroke="#a7ab38" stroke-width="1" d="M53 0v1M63 1v1M4 3v1m42 -1v1M4 4v1m31 -1v1M13 5v1m25 -1v1m16 -1v1m8 -1v1M10 8v1M3 9v1m1 -1v1m24 -1v1m1 -1v1M46 10v1m3 -1v1M63 12v1M7 14v1M54 15v1M40 16v1m1 -1v1M26 17v1m15 -1v1M2 18v1m2 -1v1m3 -1v1m21 -1v1M7 20v1m7 -1v1m16 -1v1m2 -1v1m8 -1v1m2 -1v1m1 -1v1m3 -1v1m4 -1v1m1 -1v1m4 -1v1M1 21v1m4 -1v1m9 -1v1m6 -1v1m5 -1v1m4 -1v1m4 -1v1m1 -1v1m9 -1v1M2 22v1m5 -1v1m16 -1v1m9 -1v1m2 -1v1m6 -1v1m5 -1v1m2 -1v1m1 -1v1m1 -1v1m4 -1v1M6 23v1m6 -1v1m1 -1v1m6 -1v1m7 -1v1m1 -1v1m3 -1v1m9 -1v1m1 -1v1m9 -1v1m7 -1v1M6 24v1m15 -1v1m1 -1v1m7 -1v1m3 -1v1m12 -1v1m11 -1v1m7 -1v1m1 -1v1M7 25v1m14 -1v1m9 -1v1m24 -1v1m5 -1v1M10 26v1m8 -1v1m4 -1v1m1 -1v1m7 -1v1m10 -1v1m12 -1v1m5 -1v1M7 27v1m2 -1v1m7 -1v1m5 -1v1m8 -1v1m4 -1v1m3 -1v1m3 -1v1M6 28v1m3 -1v1m2 -1v1m1 -1v1m4 -1v1m7 -1v1m1 -1v1m1 -1v1m1 -1v1m2 -1v1m2 -1v1m10 -1v1m7 -1v1m1 -1v1m4 -1v1m1 -1v1m1 -1v1m7 -1v1M5 29v1m6 -1v1m5 -1v1m1 -1v1m4 -1v1m4 -1v1m8 -1v1m2 -1v1m5 -1v1m19 -1v1m4 -1v1M0 30v1m11 -1v1m9 -1v1m5 -1v1m4 -1v1m10 -1v1m8 -1v1m10 -1v1M12 31v1m23 -1v1m8 -1v1m18 -1v1M4 32v1m26 -1v1m14 -1v1m13 -1v1M5 33v1m11 -1v1m14 -1v1m4 -1v1m1 -1v1m1 -1v1m1 -1v1m3 -1v1m2 -1v1m7 -1v1m1 -1v1m12 -1v1M3 34v1m7 -1v1m2 -1v1m4 -1v1m1 -1v1m3 -1v1m12 -1v1m1 -1v1m2 -1v1m2 -1v1m13 -1v1m12 -1v1M4 35v1m12 -1v1m14 -1v1m16 -1v1m5 -1v1m1 -1v1m4 -1v1m7 -1v1M0 36v1m10 -1v1m7 -1v1m6 -1v1m40 -1v1M1 37v1m1 -1v1m2 -1v1m1 -1v1m15 -1v1m1 -1v1m1 -1v1m1 -1v1m2 -1v1m6 -1v1m4 -1v1m7 -1v1m5 -1v1m3 -1v1m9 -1v1m1 -1v1M0 38v1m3 -1v1m5 -1v1m22 -1v1m2 -1v1m4 -1v1m1 -1v1m1 -1v1m3 -1v1m1 -1v1m5 -1v1M0 39v1m3 -1v1m1 -1v1m2 -1v1m1 -1v1m4 -1v1m6 -1v1m13 -1v1m6 -1v1m2 -1v1m13 -1v1m3 -1v1m2 -1v1m4 -1v1m2 -1v1M3 45v1M53 52v1M54 58v1M48 63v1M32 67v1M3 70v1m55 -1v1M14 71v1M60 73v1M48 76v1M6 77v1m46 -1v1M28 78v1"/>
<path transform="matrix(0.9953 0 0 8.2662 720.498 21.600)" stroke="#c0c438" stroke-width="1" d="M1 0v1m26 -1v1M8 1v1m15 -1v1m27 -1v1M20 3v1m34 -1v1M48 4v1m14 -1v1M18 5v1m9 -1v1M5 8v1m32 -1v1m1 -1v1M32 10v1m24 -1v1M17 11v1m22 -1v1m4 -1v1M19 12v1m13 -1v1m2 -1v1m23 -1v1M0 20v1m8 -1v1m2 -1v1m1 -1v1m24 -1v1m10 -1v1m8 -1v1m3 -1v1m2 -1v1m1 -1v1M3 21v1m4 -1v1m9 -1v1m12 -1v1m19 -1v1m4 -1v1m9 -1v1m1 -1v1M17 22v1m25 -1v1m18 -1v1M0 23v1m23 -1v1m25 -1v1m5 -1v1m2 -1v1M7 24v1m2 -1v1m10 -1v1m6 -1v1m3 -1v1m11 -1v1m1 -1v1m1 -1v1m13 -1v1M8 25v1m8 -1v1m4 -1v1m40 -1v1M3 26v1m8 -1v1m8 -1v1m16 -1v1m9 -1v1m4 -1v1m5 -1v1M1 27v1m10 -1v1m3 -1v1m12 -1v1m6 -1v1m12 -1v1m4 -1v1m6 -1v1M3 28v1m5 -1v1m24 -1v1m7 -1v1m5 -1v1m1 -1v1m1 -1v1m5 -1v1m4 -1v1m2 -1v1m3 -1v1M12 29v1m2 -1v1m4 -1v1m2 -1v1m2 -1v1m16 -1v1m1 -1v1m5 -1v1m3 -1v1m3 -1v1m1 -1v1m4 -1v1m3 -1v1M13 30v1m9 -1v1m13 -1v1m1 -1v1m16 -1v1m2 -1v1m9 -1v1M6 31v1m2 -1v1m5 -1v1m1 -1v1m3 -1v1m1 -1v1m8 -1v1m23 -1v1m6 -1v1m7 -1v1M5 32v1m1 -1v1m13 -1v1m14 -1v1m3 -1v1m5 -1v1m7 -1v1m3 -1v1m1 -1v1m3 -1v1m3 -1v1m1 -1v1M3 33v1m17 -1v1m1 -1v1m18 -1v1m12 -1v1m10 -1v1M9 34v1m27 -1v1m15 -1v1m2 -1v1m1 -1v1m5 -1v1M2 35v1m5 -1v1m5 -1v1m3 -1v1m2 -1v1m1 -1v1m4 -1v1m3 -1v1m4 -1v1m5 -1v1m3 -1v1m5 -1v1m3 -1v1m2 -1v1m1 -1v1m6 -1v1m6 -1v1M7 36v1m29 -1v1m6 -1v1m6 -1v1M0 37v1m3 -1v1m40 -1v1m2 -1v1M2 38v1m12 -1v1m1 -1v1m7 -1v1m4 -1v1m17 -1v1m7 -1v1m2 -1v1m1 -1v1m8 -1v1M1 39v1m4 -1v1m4 -1v1m6 -1v1m1 -1v1m8 -1v1m4 -1v1m4 -1v1m8 -1v1m4 -1v1m15 -1v1m2 -1v1M12 70v1m1 -1v1m29 -1v1"/>
<path transform="matrix(0.9953 0 0 8.2662 720.498 21.600)" stroke="#d6d536" stroke-width="1" d="M0 0v1m2 -1v1m58 -1v1M9 1v1m29 -1v1M41 4v1m2 -1v1m18 -1v1M17 5v1m4 -1v1m5 -1v1M0 8v1m1 -1v1m13 -1v1m10 -1v1m11 -1v1m16 -1v1m2 -1v1m1 -1v1m1 -1v1M39 10v1m4 -1v1M36 11v1m23 -1v1M7 12v1m32 -1v1M2 20v1m7 -1v1m4 -1v1m4 -1v1m14 -1v1m5 -1v1m1 -1v1m1 -1v1m11 -1v1m5 -1v1m9 -1v1M4 21v1m5 -1v1m2 -1v1m1 -1v1m12 -1v1m6 -1v1m11 -1v1m1 -1v1m10 -1v1m11 -1v1M4 22v1m6 -1v1m9 -1v1m3 -1v1m28 -1v1m13 -1v1M8 23v1m12 -1v1m1 -1v1m3 -1v1m23 -1v1m7 -1v1M27 24v1m3 -1v1m1 -1v1m7 -1v1m12 -1v1m1 -1v1m5 -1v1M1 25v1m3 -1v1m11 -1v1m22 -1v1m6 -1v1m2 -1v1m17 -1v1M15 26v1m5 -1v1m4 -1v1m2 -1v1m2 -1v1m1 -1v1m8 -1v1m2 -1v1M2 27v1m38 -1v1m3 -1v1m9 -1v1M0 28v1m7 -1v1m6 -1v1m5 -1v1m11 -1v1m13 -1v1m16 -1v1m4 -1v1m1 -1v1M3 29v1m7 -1v1m5 -1v1m4 -1v1m4 -1v1m18 -1v1m1 -1v1m3 -1v1m1 -1v1M9 30v1m6 -1v1m3 -1v1m12 -1v1m8 -1v1m2 -1v1m13 -1v1m3 -1v1M9 31v1m21 -1v1m1 -1v1m1 -1v1m2 -1v1m2 -1v1m3 -1v1m20 -1v1M13 32v1m1 -1v1m1 -1v1m3 -1v1m6 -1v1m1 -1v1m3 -1v1m10 -1v1m9 -1v1m13 -1v1M6 33v1m8 -1v1m5 -1v1m3 -1v1m21 -1v1m3 -1v1m8 -1v1m1 -1v1m1 -1v1M5 34v1m19 -1v1m2 -1v1m12 -1v1m22 -1v1M9 35v1m18 -1v1m1 -1v1m4 -1v1m11 -1v1m10 -1v1m4 -1v1m1 -1v1M2 36v1m3 -1v1m4 -1v1m5 -1v1m10 -1v1m11 -1v1m3 -1v1m3 -1v1m6 -1v1m2 -1v1m6 -1v1M8 37v1m3 -1v1m8 -1v1m5 -1v1m10 -1v1m17 -1v1m10 -1v1M6 38v1m3 -1v1m4 -1v1m7 -1v1m7 -1v1m4 -1v1m26 -1v1m1 -1v1m1 -1v1m1 -1v1M8 39v1m13 -1v1m2 -1v1m14 -1v1m4 -1v1m4 -1v1m3 -1v1m15 -1v1M32 65v1"/>
<path transform="matrix(0.9953 0 0 8.2662 720.498 21.600)" stroke="#ebe634" stroke-width="1" d="M10 0v1m49 -1v1M5 5v1m1 -1v1M42 8v1m15 -1v1M40 12v1M52 18v1M5 20v1m19 -1v1m1 -1v1m22 -1v1m1 -1v1M56 21v1M9 22v1m17 -1v1m15 -1v1m18 -1v1M3 23v1m22 -1v1m12 -1v1M10 24v1m5 -1v1m2 -1v1m3 -1v1m3 -1v1m10 -1v1m1 -1v1m9 -1v1m2 -1v1M25 25v1m10 -1v1M25 26v1m38 -1v1M53 27v1m2 -1v1m6 -1v1M5 28v1m9 -1v1m5 -1v1m22 -1v1m15 -1v1M54 29v1M4 30v1m6 -1v1m7 -1v1m6 -1v1m20 -1v1m17 -1v1M3 31v1m13 -1v1m28 -1v1m7 -1v1M8 32v1m4 -1v1m27 -1v1m14 -1v1m10 -1v1M17 33v1m6 -1v1m30 -1v1M58 34v1M6 35v1m5 -1v1m12 -1v1m1 -1v1m15 -1v1m5 -1v1m5 -1v1m12 -1v1M15 36v1m1 -1v1m3 -1v1m1 -1v1m10 -1v1m3 -1v1M54 37v1M1 38v1m6 -1v1m21 -1v1m20 -1v1M27 39v1m6 -1v1m1 -1v1m21 -1v1M17 65v1m27 -1v1M4 70v1m35 -1v1"/>
<rect x="785.60" y="21.60" width="146.30" height="661.30" fill="#0b0c1a"/>
<rect x="785.60" y="21.60" width="146.30" height="57.86" fill="#0b0c1a"/>
<rect x="785.60" y="79.46" width="146.30" height="8.27" fill="#1e1f4e"/>
<rect x="785.60" y="87.73" width="146.30" height="16.53" fill="#161838"/>
<rect x="785.60" y="104.26" width="146.30" height="8.27" fill="#0b0c1a"/>
<rect x="785.60" y="112.53" width="146.30" height="8.27" fill="#161838"/>
<rect x="785.60" y="120.79" width="146.30" height="8.27" fill="#0b0c1a"/>
<rect x="785.60" y="129.06" width="146.30" height="33.06" fill="#1e1f4e"/>
<rect x="785.60" y="162.13" width="146.30" height="16.53" fill="#0b0c1a"/>
<rect x="785.60" y="178.66" width="146.30" height="8.27" fill="#161838"/>
<rect x="785.60" y="186.92" width="146.30" height="148.79" fill="#0b0c1a"/>
<rect x="785.60" y="335.72" width="146.30" height="8.27" fill="#1e1f4e"/>
<rect x="785.60" y="343.98" width="146.30" height="16.53" fill="#0b0c1a"/>
<rect x="785.60" y="360.52" width="146.30" height="8.27" fill="#161838"/>
<rect x="785.60" y="368.78" width="146.30" height="8.27" fill="#0b0c1a"/>
<rect x="785.60" y="377.05" width="146.30" height="8.27" fill="#34361a"/>
<rect x="785.60" y="385.31" width="146.30" height="24.80" fill="#161838"/>
<rect x="785.60" y="410.11" width="146.30" height="8.27" fill="#0b0c1a"/>
<rect x="785.60" y="418.38" width="146.30" height="8.27" fill="#161838"/>
<rect x="785.60" y="426.65" width="146.30" height="8.27" fill="#0b0c1a"/>
<rect x="785.60" y="434.91" width="146.30" height="16.53" fill="#161838"/>
<rect x="785.60" y="451.44" width="146.30" height="8.27" fill="#0b0c1a"/>
<rect x="785.60" y="459.71" width="146.30" height="16.53" fill="#161838"/>
<rect x="785.60" y="476.24" width="146.30" height="8.27" fill="#1e1f4e"/>
<rect x="785.60" y="484.51" width="146.30" height="8.27" fill="#161838"/>
<rect x="785.60" y="492.78" width="146.30" height="8.27" fill="#0b0c1a"/>
<rect x="785.60" y="501.04" width="146.30" height="8.27" fill="#161838"/>
<rect x="785.60" y="509.31" width="146.30" height="24.80" fill="#0b0c1a"/>
<rect x="785.60" y="534.11" width="146.30" height="16.53" fill="#1e1f4e"/>
<rect x="785.60" y="550.64" width="146.30" height="8.27" fill="#0b0c1a"/>
<rect x="785.60" y="558.91" width="146.30" height="8.27" fill="#1e1f4e"/>
<rect x="785.60" y="567.17" width="146.30" height="16.53" fill="#0b0c1a"/>
<rect x="785.60" y="583.71" width="146.30" height="8.27" fill="#1e1f4e"/>
<rect x="785.60" y="591.97" width="146.30" height="8.27" fill="#0b0c1a"/>
<rect x="785.60" y="600.24" width="146.30" height="24.80" fill="#1e1f4e"/>
<rect x="785.60" y="625.04" width="146.30" height="41.33" fill="#0b0c1a"/>
<rect x="785.60" y="666.37" width="146.30" height="8.27" fill="#1e1f4e"/>
<rect x="785.60" y="674.63" width="146.30" height="8.27" fill="#0b0c1a"/>
<path transform="matrix(1.0021 0 0 8.2662 786.101 21.600)" stroke="#282a6f" stroke-width="1" d="M14 70v1"/>
<path transform="matrix(1.0021 0 0 8.2662 786.101 21.600)" stroke="#262664" stroke-width="1" d="M56 13v1M0 14v1m40 -1v1m90 -1v1M30 16v1m9 -1v1m84 -1v1M20 38v1m19 -1v1m11 -1v1m60 -1v1M100 62v1m44 -1v1M2 63v1m111 -1v1M20 65v1m35 -1v1m41 -1v1M23 70v1m1 -1v1m19 -1v1m10 -1v1m42 -1v1M69 71v1m42 -1v1m19 -1v1M61 72v1m18 -1v1m14 -1v1M10 78v1m71 -1v1"/>
<path transform="matrix(1.0021 0 0 8.2662 786.101 21.600)" stroke="#1e1f4e" stroke-width="1" d="M65 8v1m35 -1v1m27 -1v1m6 -1v1m4 -1v1M80 9v1m4 -1v1m54 -1v1M32 11v1m42 -1v1M9 19v1m20 -1v1m3 -1v1m33 -1v1m28 -1v1m8 -1v1m11 -1v1m32 -1v1M139 44v1M17 45v1m7 -1v1M142 46v1M106 48v1M29 50v1m11 -1v1m74 -1v1M38 51v1m105 -1v1M9 53v1m25 -1v1m90 -1v1m14 -1v1M49 54v1m14 -1v1m57 -1v1M11 56v1m29 -1v1M6 58v1m131 -1v1"/>
<path transform="matrix(1.0021 0 0 8.2662 786.101 21.600)" stroke="#161838" stroke-width="1" d="M42 3v1M9 7v1m6 -1v1m8 -1v1m21 -1v1m16 -1v1m5 -1v1m26 -1v1m26 -1v1m10 -1v1m9 -1v1M39 13v1m13 -1v1m17 -1v1m17 -1v1m8 -1v1m10 -1v1m8 -1v1m2 -1v1m8 -1v1m2 -1v1m17 -1v1m2 -1v1M23 14v1m44 -1v1m12 -1v1m1 -1v1m2 -1v1m4 -1v1m5 -1v1m1 -1v1m2 -1v1m2 -1v1m16 -1v1m25 -1v1m5 -1v1M9 15v1m2 -1v1m9 -1v1m10 -1v1m1 -1v1m12 -1v1m13 -1v1m2 -1v1m4 -1v1m10 -1v1m28 -1v1m6 -1v1m1 -1v1m28 -1v1m8 -1v1M15 16v1m13 -1v1m20 -1v1m15 -1v1m6 -1v1m6 -1v1m1 -1v1m17 -1v1m4 -1v1m2 -1v1m46 -1v1M15 18v1M43 24v1M48 25v1M2 38v1m8 -1v1m9 -1v1m4 -1v1m1 -1v1m11 -1v1m7 -1v1m1 -1v1m15 -1v1m22 -1v1m5 -1v1m6 -1v1m2 -1v1m7 -1v1m4 -1v1m10 -1v1m9 -1v1m1 -1v1m2 -1v1m14 -1v1m4 -1v1M29 40v1M15 55v1m19 -1v1m13 -1v1m20 -1v1m38 -1v1m6 -1v1M11 62v1m17 -1v1m2 -1v1m17 -1v1m6 -1v1m9 -1v1m6 -1v1m28 -1v1m24 -1v1m5 -1v1m13 -1v1M5 63v1m3 -1v1m10 -1v1m23 -1v1m6 -1v1m3 -1v1m6 -1v1m3 -1v1m12 -1v1m9 -1v1m7 -1v1m1 -1v1m13 -1v1m14 -1v1m11 -1v1m1 -1v1m5 -1v1m3 -1v1m5 -1v1M15 65v1m13 -1v1m3 -1v1m21 -1v1m16 -1v1m14 -1v1m7 -1v1m20 -1v1m11 -1v1m3 -1v1m8 -1v1m4 -1v1m5 -1v1M0 68v1m7 -1v1m2 -1v1m21 -1v1m4 -1v1m14 -1v1m1 -1v1m21 -1v1m10 -1v1m7 -1v1m1 -1v1m2 -1v1m10 -1v1m27 -1v1m2 -1v1m2 -1v1M4 70v1m1 -1v1m14 -1v1m11 -1v1m7 -1v1m11 -1v1m1 -1v1m14 -1v1m23 -1v1m18 -1v1m8 -1v1m1 -1v1m3 -1v1m5 -1v1m18 -1v1M4 71v1m2 -1v1m11 -1v1m10 -1v1m16 -1v1m4 -1v1m4 -1v1m23 -1v1m12 -1v1m1 -1v1m1 -1v1m6 -1v1m5 -1v1m8 -1v1m8 -1v1m10 -1v1m17 -1v1M0 72v1m5 -1v1m8 -1v1m52 -1v1m5 -1v1m2 -1v1m3 -1v1m41 -1v1m1 -1v1m3 -1v1m14 -1v1m2 -1v1m3 -1v1M6 78v1m17 -1v1m11 -1v1m2 -1v1m1 -1v1m10 -1v1m4 -1v1m10 -1v1m3 -1v1m1 -1v1m17 -1v1m1 -1v1m10 -1v1m5 -1v1m8 -1v1m3 -1v1m5 -1v1m8 -1v1m8 -1v1m3 -1v1m2 -1v1m1 -1v1"/>
<path transform="matrix(1.0021 0 0 8.2662 786.101 21.600)" stroke="#101229" stroke-width="1" d="M7 0v1m6 -1v1m16 -1v1m10 -1v1m8 -1v1m1 -1v1m2 -1v1m3 -1v1m8 -1v1m20 -1v1m6 -1v1m4 -1v1m13 -1v1m5 -1v1m18 -1v1m7 -1v1M0 1v1m21 -1v1m5 -1v1m52 -1v1m20 -1v1m16 -1v1m4 -1v1m14 -1v1m1 -1v1m6 -1v1m1 -1v1m4 -1v1M7 2v1m7 -1v1m36 -1v1m5 -1v1m1 -1v1m6 -1v1m2 -1v1m9 -1v1m6 -1v1m1 -1v1m2 -1v1m16 -1v1m23 -1v1m2 -1v1m4 -1v1m8 -1v1m2 -1v1M8 3v1m3 -1v1m5 -1v1m1 -1v1m2 -1v1m8 -1v1m11 -1v1m1 -1v1m2 -1v1m5 -1v1m1 -1v1m13 -1v1m10 -1v1m2 -1v1m4 -1v1m12 -1v1m3 -1v1m2 -1v1m2 -1v1m2 -1v1m11 -1v1m6 -1v1m7 -1v1m1 -1v1m9 -1v1M21 4v1m4 -1v1m5 -1v1m4 -1v1m15 -1v1m4 -1v1m24 -1v1m4 -1v1m20 -1v1m7 -1v1m28 -1v1m1 -1v1M4 5v1m25 -1v1m5 -1v1m9 -1v1m5 -1v1m6 -1v1m16 -1v1m5 -1v1m9 -1v1m2 -1v1m5 -1v1m12 -1v1m9 -1v1m26 -1v1m1 -1v1m5 -1v1M2 6v1m4 -1v1m13 -1v1m19 -1v1m6 -1v1m11 -1v1m9 -1v1m6 -1v1m20 -1v1m4 -1v1m3 -1v1m11 -1v1m31 -1v1m5 -1v1M7 8v1m10 -1v1m11 -1v1m26 -1v1m52 -1v1M28 9v1m55 -1v1m16 -1v1M1 10v1m11 -1v1m36 -1v1m6 -1v1m5 -1v1m4 -1v1m12 -1v1m9 -1v1m9 -1v1m5 -1v1m5 -1v1m1 -1v1m3 -1v1m13 -1v1m19 -1v1m4 -1v1M36 11v1m47 -1v1m55 -1v1m7 -1v1M36 12v1m1 -1v1m10 -1v1m3 -1v1m45 -1v1m13 -1v1m8 -1v1m13 -1v1m12 -1v1M6 17v1m25 -1v1m2 -1v1m4 -1v1m22 -1v1m10 -1v1m18 -1v1m22 -1v1m9 -1v1m5 -1v1m8 -1v1m12 -1v1M14 18v1m14 -1v1m14 -1v1m33 -1v1m2 -1v1m18 -1v1m6 -1v1m9 -1v1m6 -1v1m12 -1v1m4 -1v1m5 -1v1m1 -1v1m1 -1v1M16 19v1M16 20v1m6 -1v1m13 -1v1m2 -1v1m9 -1v1m38 -1v1m4 -1v1m4 -1v1m9 -1v1m9 -1v1m1 -1v1m4 -1v1m5 -1v1m13 -1v1m8 -1v1m3 -1v1M0 21v1m16 -1v1m17 -1v1m32 -1v1m3 -1v1m4 -1v1m5 -1v1m5 -1v1m2 -1v1m1 -1v1m15 -1v1m1 -1v1m9 -1v1m12 -1v1m21 -1v1m1 -1v1M24 22v1m7 -1v1m10 -1v1m8 -1v1m6 -1v1m8 -1v1m3 -1v1m13 -1v1m8 -1v1m19 -1v1m17 -1v1m1 -1v1m5 -1v1m3 -1v1M2 23v1m17 -1v1m1 -1v1m16 -1v1m10 -1v1m4 -1v1m9 -1v1m9 -1v1m8 -1v1m1 -1v1m3 -1v1m18 -1v1m4 -1v1m14 -1v1m2 -1v1m2 -1v1m4 -1v1m3 -1v1m6 -1v1M4 24v1m36 -1v1m2 -1v1m9 -1v1m3 -1v1m12 -1v1m7 -1v1m41 -1v1m3 -1v1m2 -1v1m1 -1v1m1 -1v1m2 -1v1m3 -1v1m2 -1v1m17 -1v1M1 25v1m20 -1v1m1 -1v1m12 -1v1m3 -1v1m1 -1v1m7 -1v1m20 -1v1m11 -1v1m1 -1v1m3 -1v1m8 -1v1m1 -1v1m2 -1v1m17 -1v1m1 -1v1m3 -1v1m10 -1v1m9 -1v1m4 -1v1m4 -1v1m3 -1v1m1 -1v1m1 -1v1M6 26v1m17 -1v1m2 -1v1m4 -1v1m34 -1v1m2 -1v1m1 -1v1m6 -1v1m2 -1v1m23 -1v1m6 -1v1m20 -1v1m5 -1v1m1 -1v1M10 27v1m2 -1v1m4 -1v1m3 -1v1m4 -1v1m7 -1v1m9 -1v1m29 -1v1m3 -1v1m14 -1v1m3 -1v1m1 -1v1m34 -1v1m7 -1v1m10 -1v1m1 -1v1M0 28v1m13 -1v1m5 -1v1m2 -1v1m15 -1v1m6 -1v1m10 -1v1m11 -1v1m6 -1v1m8 -1v1m23 -1v1m1 -1v1m1 -1v1m2 -1v1m2 -1v1m5 -1v1m4 -1v1m2 -1v1m1 -1v1m5 -1v1m1 -1v1m6 -1v1m2 -1v1m2 -1v1m7 -1v1m3 -1v1m2 -1v1M2 29v1m4 -1v1m9 -1v1m2 -1v1m6 -1v1m1 -1v1m3 -1v1m2 -1v1m4 -1v1m15 -1v1m2 -1v1m3 -1v1m4 -1v1m18 -1v1m10 -1v1m12 -1v1m4 -1v1m4 -1v1m7 -1v1m6 -1v1m8 -1v1m11 -1v1m6 -1v1m2 -1v1M2 30v1m2 -1v1m4 -1v1m14 -1v1m7 -1v1m22 -1v1m20 -1v1m22 -1v1m2 -1v1m15 -1v1m27 -1v1m6 -1v1M21 31v1m28 -1v1m7 -1v1m1 -1v1m3 -1v1m8 -1v1m7 -1v1m5 -1v1m3 -1v1m12 -1v1m38 -1v1m2 -1v1m6 -1v1M13 32v1m2 -1v1m1 -1v1m8 -1v1m5 -1v1m8 -1v1m19 -1v1m3 -1v1m2 -1v1m20 -1v1m13 -1v1m5 -1v1m4 -1v1m7 -1v1m5 -1v1m1 -1v1m1 -1v1m13 -1v1m6 -1v1M1 33v1m1 -1v1m27 -1v1m3 -1v1m1 -1v1m2 -1v1m20 -1v1m5 -1v1m3 -1v1m34 -1v1m5 -1v1m1 -1v1m2 -1v1m2 -1v1m2 -1v1M5 34v1m5 -1v1m17 -1v1m2 -1v1m37 -1v1m6 -1v1m1 -1v1m1 -1v1m1 -1v1m7 -1v1m16 -1v1m9 -1v1m3 -1v1m2 -1v1m2 -1v1m12 -1v1m13 -1v1M6 35v1m12 -1v1m7 -1v1m9 -1v1m22 -1v1m8 -1v1m3 -1v1m5 -1v1m2 -1v1m3 -1v1m2 -1v1m13 -1v1m4 -1v1m10 -1v1m12 -1v1m3 -1v1m3 -1v1m1 -1v1m1 -1v1m4 -1v1m5 -1v1m8 -1v1M0 36v1m6 -1v1m14 -1v1m1 -1v1m1 -1v1m31 -1v1m2 -1v1m14 -1v1m10 -1v1m2 -1v1m2 -1v1m4 -1v1m9 -1v1m14 -1v1m12 -1v1m3 -1v1m14 -1v1m3 -1v1M20 37v1m17 -1v1m12 -1v1m1 -1v1m6 -1v1m2 -1v1m2 -1v1m17 -1v1m4 -1v1m1 -1v1m9 -1v1m3 -1v1m21 -1v1m6 -1v1M64 38v1M5 39v1m2 -1v1m5 -1v1m12 -1v1m6 -1v1m6 -1v1m4 -1v1m11 -1v1m11 -1v1m4 -1v1m4 -1v1m16 -1v1m13 -1v1m14 -1v1m3 -1v1m10 -1v1m1 -1v1m10 -1v1m3 -1v1m1 -1v1M28 40v1m8 -1v1m12 -1v1m27 -1v1m7 -1v1m3 -1v1M36 41v1m2 -1v1m15 -1v1m22 -1v1M7 42v1m4 -1v1m15 -1v1m1 -1v1m7 -1v1m3 -1v1m25 -1v1m6 -1v1m18 -1v1m56 -1v1M42 44v1m61 -1v1M26 45v1M126 46v1m1 -1v1M34 47v1m16 -1v1m18 -1v1m29 -1v1m21 -1v1M60 48v1M4 49v1m11 -1v1m3 -1v1m13 -1v1m12 -1v1m21 -1v1M37 50v1M15 51v1m10 -1v1m85 -1v1M60 52v1m3 -1v1m7 -1v1m14 -1v1m1 -1v1m24 -1v1m6 -1v1m21 -1v1M35 53v1m55 -1v1m33 -1v1M114 54v1m1 -1v1M16 56v1m85 -1v1m1 -1v1M26 57v1m18 -1v1m12 -1v1m14 -1v1m17 -1v1m12 -1v1m19 -1v1m14 -1v1M15 58v1m64 -1v1m38 -1v1m24 -1v1M6 59v1m18 -1v1m13 -1v1m34 -1v1m22 -1v1m15 -1v1m25 -1v1M6 60v1m5 -1v1m12 -1v1m27 -1v1m2 -1v1m3 -1v1m6 -1v1m1 -1v1m7 -1v1m3 -1v1m4 -1v1m13 -1v1m1 -1v1m4 -1v1m19 -1v1m2 -1v1m6 -1v1m1 -1v1m8 -1v1M7 61v1m3 -1v1m4 -1v1m5 -1v1m1 -1v1m9 -1v1m5 -1v1m1 -1v1m12 -1v1m6 -1v1m15 -1v1m10 -1v1m8 -1v1m16 -1v1m1 -1v1m6 -1v1m19 -1v1m11 -1v1m4 -1v1M8 64v1m3 -1v1m17 -1v1m1 -1v1m1 -1v1m6 -1v1m9 -1v1m19 -1v1m13 -1v1m12 -1v1m5 -1v1m4 -1v1m8 -1v1m9 -1v1m5 -1v1m7 -1v1m16 -1v1M10 66v1m1 -1v1m3 -1v1m3 -1v1m18 -1v1m2 -1v1m29 -1v1m3 -1v1m7 -1v1m6 -1v1m14 -1v1m16 -1v1m4 -1v1m18 -1v1m3 -1v1M15 67v1m6 -1v1m4 -1v1m1 -1v1m8 -1v1m6 -1v1m6 -1v1m15 -1v1m9 -1v1m13 -1v1m11 -1v1m3 -1v1m4 -1v1m9 -1v1m5 -1v1m15 -1v1m7 -1v1m5 -1v1M9 69v1m11 -1v1m2 -1v1m5 -1v1m21 -1v1m4 -1v1m4 -1v1m21 -1v1m3 -1v1m16 -1v1m6 -1v1m17 -1v1m1 -1v1m5 -1v1m6 -1v1M12 73v1m3 -1v1m40 -1v1m11 -1v1m1 -1v1m3 -1v1m2 -1v1m8 -1v1m1 -1v1m3 -1v1m11 -1v1m1 -1v1m5 -1v1m2 -1v1m5 -1v1m3 -1v1m1 -1v1m1 -1v1m9 -1v1m19 -1v1M0 74v1m2 -1v1m4 -1v1m23 -1v1m2 -1v1m8 -1v1m5 -1v1m11 -1v1m18 -1v1m2 -1v1m9 -1v1m3 -1v1m5 -1v1m30 -1v1m4 -1v1m6 -1v1m2 -1v1m4 -1v1M35 75v1m3 -1v1m5 -1v1m4 -1v1m1 -1v1m29 -1v1m10 -1v1m1 -1v1m2 -1v1m16 -1v1m1 -1v1m18 -1v1m10 -1v1M1 76v1m6 -1v1m19 -1v1m11 -1v1m1 -1v1m45 -1v1m5 -1v1m12 -1v1m8 -1v1m17 -1v1m12 -1v1m3 -1v1M28 77v1m4 -1v1m12 -1v1m1 -1v1m12 -1v1m1 -1v1m7 -1v1m1 -1v1m20 -1v1m9 -1v1m9 -1v1m8 -1v1m5 -1v1m6 -1v1M5 79v1m6 -1v1m8 -1v1m1 -1v1m2 -1v1m8 -1v1m3 -1v1m24 -1v1m10 -1v1m1 -1v1m2 -1v1m14 -1v1m32 -1v1m1 -1v1m1 -1v1m15 -1v1m9 -1v1"/>
<path transform="matrix(1.0021 0 0 8.2662 786.101 21.600)" stroke="#0b0c1a" stroke-width="1" d="M63 11v1M33 44v1M11 58v1m40 -1v1"/>
<path transform="matrix(1.0021 0 0 8.2662 786.101 21.600)" stroke="#20211a" stroke-width="1" d="M5 2v1m4 -1v1m1 -1v1m27 -1v1m21 -1v1m43 -1v1m24 -1v1m5 -1v1m3 -1v1M2 3v1m51 -1v1m28 -1v1m29 -1v1M7 4v1m3 -1v1m52 -1v1m24 -1v1m11 -1v1M11 5v1m9 -1v1m15 -1v1m95 -1v1M10 6v1m26 -1v1m13 -1v1m7 -1v1m17 -1v1m23 -1v1m7 -1v1m9 -1v1m24 -1v1m5 -1v1M0 7v1m1 -1v1m21 -1v1m101 -1v1M4 8v1m93 -1v1M37 9v1m3 -1v1m16 -1v1m21 -1v1m16 -1v1M16 10v1m21 -1v1m7 -1v1m1 -1v1m4 -1v1m4 -1v1m4 -1v1m20 -1v1m23 -1v1m11 -1v1M8 11v1m1 -1v1m9 -1v1m6 -1v1m4 -1v1m23 -1v1m11 -1v1m34 -1v1M8 12v1m11 -1v1m1 -1v1m26 -1v1m6 -1v1m3 -1v1m16 -1v1m4 -1v1m2 -1v1m1 -1v1m26 -1v1m2 -1v1m17 -1v1M43 13v1m5 -1v1m1 -1v1m11 -1v1m1 -1v1m1 -1v1m2 -1v1m3 -1v1m8 -1v1m14 -1v1M3 14v1m18 -1v1m1 -1v1m14 -1v1m22 -1v1m5 -1v1m13 -1v1m13 -1v1m15 -1v1m29 -1v1M6 15v1m6 -1v1m2 -1v1m4 -1v1m24 -1v1m8 -1v1m14 -1v1m12 -1v1m10 -1v1m8 -1v1m8 -1v1m27 -1v1m3 -1v1m6 -1v1M2 16v1m6 -1v1m12 -1v1m37 -1v1m86 -1v1M25 17v1m2 -1v1m15 -1v1m3 -1v1m20 -1v1m19 -1v1m1 -1v1m6 -1v1m14 -1v1M17 18v1m45 -1v1m11 -1v1m15 -1v1m34 -1v1M19 19v1m11 -1v1m21 -1v1m24 -1v1m28 -1v1m5 -1v1m19 -1v1M25 20v1m34 -1v1m49 -1v1m30 -1v1M4 21v1m84 -1v1M2 22v1m50 -1v1M29 23v1M124 24v1M8 25v1m10 -1v1m33 -1v1m21 -1v1M14 26v1m2 -1v1m11 -1v1m28 -1v1m30 -1v1M2 27v1m13 -1v1m31 -1v1m18 -1v1m32 -1v1M17 28v1m66 -1v1M139 29v1M125 30v1M20 31v1m74 -1v1m28 -1v1m1 -1v1M20 32v1m19 -1v1m1 -1v1M21 33v1m44 -1v1m24 -1v1M36 34v1m88 -1v1m3 -1v1M75 36v1M8 37v1m47 -1v1m18 -1v1m50 -1v1m1 -1v1M18 39v1m20 -1v1M18 40v1m14 -1v1m40 -1v1m2 -1v1m7 -1v1m24 -1v1m31 -1v1M20 41v1m7 -1v1m15 -1v1m5 -1v1m3 -1v1m15 -1v1m1 -1v1m7 -1v1m1 -1v1m11 -1v1m8 -1v1m18 -1v1m4 -1v1m12 -1v1m15 -1v1M3 42v1m10 -1v1m19 -1v1m19 -1v1m34 -1v1m2 -1v1m5 -1v1m3 -1v1m3 -1v1m5 -1v1m9 -1v1M3 43v1m2 -1v1m1 -1v1m12 -1v1m10 -1v1m9 -1v1m8 -1v1m7 -1v1m4 -1v1m1 -1v1m1 -1v1m14 -1v1m1 -1v1m7 -1v1m6 -1v1m1 -1v1m10 -1v1m1 -1v1m18 -1v1m1 -1v1M24 44v1m1 -1v1m7 -1v1m17 -1v1m2 -1v1m24 -1v1m6 -1v1m7 -1v1m23 -1v1m1 -1v1m1 -1v1m1 -1v1m7 -1v1m4 -1v1m4 -1v1m8 -1v1M23 45v1m5 -1v1m3 -1v1m8 -1v1m5 -1v1m16 -1v1m1 -1v1m6 -1v1m3 -1v1m2 -1v1m14 -1v1m7 -1v1m6 -1v1m3 -1v1m26 -1v1m9 -1v1M29 46v1m4 -1v1m4 -1v1m12 -1v1m13 -1v1m21 -1v1m6 -1v1m11 -1v1m6 -1v1m12 -1v1m12 -1v1m13 -1v1M13 47v1m28 -1v1m7 -1v1m3 -1v1m28 -1v1m9 -1v1m16 -1v1m9 -1v1m7 -1v1m8 -1v1M12 48v1m3 -1v1m3 -1v1m8 -1v1m9 -1v1m5 -1v1m21 -1v1m24 -1v1m6 -1v1m10 -1v1m4 -1v1m18 -1v1m16 -1v1M50 49v1m15 -1v1m38 -1v1m1 -1v1m5 -1v1m9 -1v1m9 -1v1m6 -1v1m7 -1v1M1 50v1m10 -1v1m3 -1v1m6 -1v1m3 -1v1m4 -1v1m14 -1v1m15 -1v1m10 -1v1m1 -1v1m1 -1v1m2 -1v1m13 -1v1m8 -1v1m1 -1v1m34 -1v1m1 -1v1m2 -1v1M1 51v1m1 -1v1m11 -1v1m28 -1v1m2 -1v1m24 -1v1m2 -1v1m8 -1v1m6 -1v1m42 -1v1m16 -1v1M16 52v1m2 -1v1m6 -1v1m26 -1v1m12 -1v1m52 -1v1m13 -1v1m5 -1v1m13 -1v1M6 53v1m25 -1v1m16 -1v1m21 -1v1m8 -1v1m52 -1v1M2 54v1m7 -1v1m1 -1v1m20 -1v1m1 -1v1m4 -1v1m16 -1v1m14 -1v1m6 -1v1m2 -1v1m10 -1v1m6 -1v1m2 -1v1m6 -1v1m7 -1v1m5 -1v1m24 -1v1m7 -1v1m4 -1v1M19 55v1m2 -1v1m3 -1v1m3 -1v1m13 -1v1m21 -1v1m20 -1v1m15 -1v1m2 -1v1m5 -1v1m20 -1v1M6 56v1m2 -1v1m7 -1v1m17 -1v1m3 -1v1m68 -1v1m13 -1v1m13 -1v1m14 -1v1m1 -1v1M18 57v1m18 -1v1m18 -1v1m48 -1v1m9 -1v1m1 -1v1m1 -1v1m2 -1v1m12 -1v1M10 58v1m8 -1v1m4 -1v1m2 -1v1m8 -1v1m7 -1v1m2 -1v1m5 -1v1m24 -1v1m30 -1v1m28 -1v1m11 -1v1M16 59v1m2 -1v1m18 -1v1m23 -1v1m19 -1v1m5 -1v1m12 -1v1m1 -1v1m14 -1v1m3 -1v1m12 -1v1m10 -1v1M8 60v1m31 -1v1m106 -1v1M131 61v1m1 -1v1m1 -1v1m2 -1v1M13 64v1M21 66v1m26 -1v1m52 -1v1M8 67v1m51 -1v1m48 -1v1m22 -1v1M3 68v1m1 -1v1M28 69v1m15 -1v1m30 -1v1m19 -1v1M34 73v1m72 -1v1m11 -1v1M13 74v1m36 -1v1m10 -1v1m84 -1v1M5 75v1m20 -1v1M29 76v1m7 -1v1m37 -1v1m2 -1v1M7 77v1m15 -1v1m123 -1v1M49 79v1m87 -1v1"/>
<path transform="matrix(1.0021 0 0 8.2662 786.101 21.600)" stroke="#34361a" stroke-width="1" d="M16 0v1m15 -1v1m35 -1v1m66 -1v1M11 1v1m52 -1v1m29 -1v1M4 2v1m34 -1v1m10 -1v1m17 -1v1M67 3v1m53 -1v1M18 4v1m10 -1v1m47 -1v1m20 -1v1m7 -1v1m3 -1v1m6 -1v1m18 -1v1m4 -1v1m2 -1v1M131 5v1M66 6v1m76 -1v1M8 7v1m28 -1v1m33 -1v1m15 -1v1m1 -1v1m28 -1v1m20 -1v1M12 8v1m8 -1v1m1 -1v1m2 -1v1m10 -1v1m16 -1v1m2 -1v1m35 -1v1m35 -1v1M7 9v1m2 -1v1m7 -1v1m27 -1v1m3 -1v1m8 -1v1m13 -1v1m12 -1v1m12 -1v1m33 -1v1m1 -1v1M17 10v1m14 -1v1m8 -1v1m67 -1v1M1 11v1m34 -1v1m13 -1v1m2 -1v1m9 -1v1m46 -1v1m1 -1v1M10 12v1m43 -1v1m3 -1v1m2 -1v1m15 -1v1m25 -1v1M14 13v1m4 -1v1m28 -1v1m1 -1v1m10 -1v1m1 -1v1m32 -1v1m42 -1v1m2 -1v1M29 14v1m68 -1v1M0 15v1m1 -1v1m3 -1v1m23 -1v1m5 -1v1m13 -1v1m50 -1v1m33 -1v1m17 -1v1M17 16v1m23 -1v1m12 -1v1m35 -1v1m20 -1v1M46 17v1m27 -1v1M2 18v1m11 -1v1m17 -1v1m14 -1v1m5 -1v1m1 -1v1m33 -1v1M8 19v1m7 -1v1m3 -1v1m5 -1v1m17 -1v1m6 -1v1m23 -1v1m1 -1v1m3 -1v1m9 -1v1m7 -1v1M56 26v1M25 30v1M13 31v1M5 33v1m125 -1v1M90 34v1M5 35v1M66 37v1m39 -1v1M53 38v1M55 39v1m78 -1v1M19 40v1m1 -1v1m2 -1v1m3 -1v1m5 -1v1m3 -1v1m12 -1v1m6 -1v1m1 -1v1m17 -1v1m7 -1v1m16 -1v1m8 -1v1m7 -1v1m10 -1v1m14 -1v1m2 -1v1m5 -1v1m7 -1v1M1 41v1m1 -1v1m3 -1v1m13 -1v1m17 -1v1m9 -1v1m13 -1v1m24 -1v1m6 -1v1m9 -1v1m3 -1v1m1 -1v1m16 -1v1m29 -1v1M4 42v1m39 -1v1m3 -1v1m7 -1v1m6 -1v1m5 -1v1m24 -1v1m20 -1v1m1 -1v1m12 -1v1m1 -1v1m18 -1v1m5 -1v1M0 44v1m2 -1v1m1 -1v1m1 -1v1m2 -1v1m12 -1v1m10 -1v1m8 -1v1m1 -1v1m1 -1v1m2 -1v1m6 -1v1m6 -1v1m6 -1v1m1 -1v1m10 -1v1m2 -1v1m19 -1v1m5 -1v1m14 -1v1m19 -1v1m4 -1v1m8 -1v1M2 45v1m10 -1v1m18 -1v1m5 -1v1m6 -1v1m10 -1v1m18 -1v1m14 -1v1m15 -1v1m13 -1v1m3 -1v1m5 -1v1m1 -1v1M13 46v1m2 -1v1m8 -1v1m8 -1v1m1 -1v1m6 -1v1m1 -1v1m1 -1v1m13 -1v1m1 -1v1m7 -1v1m2 -1v1m1 -1v1m1 -1v1m4 -1v1m1 -1v1m6 -1v1m2 -1v1m2 -1v1m6 -1v1m18 -1v1m18 -1v1m14 -1v1M3 47v1m2 -1v1m4 -1v1m20 -1v1m4 -1v1m7 -1v1m9 -1v1m3 -1v1m1 -1v1m1 -1v1m16 -1v1m1 -1v1m2 -1v1m7 -1v1m7 -1v1m2 -1v1m1 -1v1m11 -1v1m14 -1v1m25 -1v1M3 48v1m13 -1v1m1 -1v1m38 -1v1m20 -1v1m5 -1v1m4 -1v1m2 -1v1m23 -1v1m8 -1v1m3 -1v1m23 -1v1M2 49v1m1 -1v1m2 -1v1m6 -1v1m22 -1v1m6 -1v1m21 -1v1m1 -1v1m7 -1v1m2 -1v1m9 -1v1m1 -1v1m11 -1v1m1 -1v1m6 -1v1m15 -1v1m4 -1v1m2 -1v1m5 -1v1m11 -1v1m1 -1v1M2 50v1m2 -1v1m1 -1v1m7 -1v1m3 -1v1m2 -1v1m11 -1v1m3 -1v1m5 -1v1m7 -1v1m9 -1v1m13 -1v1m8 -1v1m2 -1v1m10 -1v1m1 -1v1m33 -1v1m11 -1v1m3 -1v1m12 -1v1M0 51v1m16 -1v1m2 -1v1m19 -1v1m8 -1v1m2 -1v1m7 -1v1m6 -1v1m22 -1v1m3 -1v1m6 -1v1m5 -1v1m39 -1v1m10 -1v1M12 52v1m3 -1v1m2 -1v1m3 -1v1m12 -1v1m3 -1v1m14 -1v1m37 -1v1m15 -1v1m18 -1v1m1 -1v1m15 -1v1M0 53v1m20 -1v1m1 -1v1m7 -1v1m1 -1v1m8 -1v1m4 -1v1m1 -1v1m6 -1v1m18 -1v1m27 -1v1m1 -1v1m1 -1v1m2 -1v1m11 -1v1m6 -1v1m6 -1v1m2 -1v1m5 -1v1M7 54v1m1 -1v1m17 -1v1m8 -1v1m12 -1v1m8 -1v1m15 -1v1m1 -1v1m23 -1v1m27 -1v1m4 -1v1M9 55v1m24 -1v1m44 -1v1m22 -1v1m28 -1v1m3 -1v1m4 -1v1m7 -1v1M17 56v1m1 -1v1m18 -1v1m5 -1v1m10 -1v1m22 -1v1m1 -1v1m6 -1v1m16 -1v1m2 -1v1m7 -1v1m9 -1v1m1 -1v1m21 -1v1m6 -1v1M2 57v1m3 -1v1m15 -1v1m3 -1v1m9 -1v1m5 -1v1m18 -1v1m9 -1v1m5 -1v1M17 58v1m20 -1v1m3 -1v1m9 -1v1m1 -1v1m11 -1v1m6 -1v1m2 -1v1m8 -1v1m10 -1v1m16 -1v1m11 -1v1m2 -1v1m3 -1v1m26 -1v1M23 59v1m16 -1v1m6 -1v1m19 -1v1m3 -1v1m1 -1v1m13 -1v1m4 -1v1m6 -1v1m25 -1v1m10 -1v1m10 -1v1M18 60v1m62 -1v1M15 61v1M56 62v1m26 -1v1m23 -1v1m19 -1v1M1 63v1m30 -1v1m36 -1v1M43 64v1m49 -1v1M129 65v1M98 66v1m11 -1v1M30 67v1M2 68v1m106 -1v1M8 70v1m52 -1v1m6 -1v1m54 -1v1m11 -1v1m3 -1v1m1 -1v1M63 71v1M19 72v1m113 -1v1M40 73v1M14 74v1m93 -1v1M3 75v1m42 -1v1m1 -1v1m3 -1v1m20 -1v1m12 -1v1m21 -1v1M43 76v1m59 -1v1M42 77v1m49 -1v1m9 -1v1M19 78v1m97 -1v1m23 -1v1M88 79v1"/>
<path transform="matrix(1.0021 0 0 8.2662 786.101 21.600)" stroke="#4a4d22" stroke-width="1" d="M77 0v1m38 -1v1M38 1v1m9 -1v1m3 -1v1m8 -1v1m1 -1v1m1 -1v1m2 -1v1m22 -1v1m3 -1v1m3 -1v1m32 -1v1m15 -1v1M26 2v1m62 -1v1m18 -1v1M66 3v1m17 -1v1m18 -1v1m6 -1v1M46 4v1m54 -1v1m39 -1v1M2 5v1m1 -1v1m12 -1v1M47 6v1m58 -1v1m20 -1v1M19 7v1m2 -1v1m3 -1v1m52 -1v1M38 8v1m8 -1v1m9 -1v1m1 -1v1m4 -1v1m11 -1v1m5 -1v1m53 -1v1M10 9v1m7 -1v1m6 -1v1m27 -1v1m22 -1v1m24 -1v1M71 10v1m24 -1v1M2 11v1m47 -1v1m55 -1v1m3 -1v1m2 -1v1m1 -1v1M5 12v1m11 -1v1m11 -1v1m2 -1v1m3 -1v1m11 -1v1m33 -1v1m17 -1v1m6 -1v1m23 -1v1M5 13v1m37 -1v1m3 -1v1m32 -1v1m7 -1v1m17 -1v1M1 14v1m32 -1v1m16 -1v1m15 -1v1m1 -1v1m44 -1v1m6 -1v1M3 15v1m2 -1v1m8 -1v1m33 -1v1m2 -1v1m4 -1v1m11 -1v1m41 -1v1M5 16v1m4 -1v1m9 -1v1m14 -1v1m6 -1v1m48 -1v1m50 -1v1M63 17v1m37 -1v1m19 -1v1m22 -1v1m3 -1v1M20 18v1m19 -1v1m7 -1v1m8 -1v1m3 -1v1m73 -1v1M1 19v1m20 -1v1m1 -1v1m11 -1v1m1 -1v1m3 -1v1m1 -1v1m5 -1v1m29 -1v1m42 -1v1M120 22v1M3 24v1M73 26v1M111 27v1M132 28v1M4 29v1m1 -1v1m62 -1v1M33 30v1m67 -1v1M64 31v1M143 32v1M132 33v1M59 34v1m46 -1v1m39 -1v1M21 35v1m20 -1v1m14 -1v1m29 -1v1M140 36v1m1 -1v1M101 37v1M72 38v1M26 40v1m5 -1v1m11 -1v1m5 -1v1m8 -1v1m5 -1v1m29 -1v1m8 -1v1m2 -1v1m9 -1v1m4 -1v1m9 -1v1m8 -1v1M0 41v1m3 -1v1m3 -1v1m5 -1v1m37 -1v1m4 -1v1m12 -1v1m25 -1v1m1 -1v1m4 -1v1m37 -1v1m10 -1v1M0 42v1m2 -1v1m4 -1v1m33 -1v1m24 -1v1m9 -1v1m9 -1v1m13 -1v1m6 -1v1m17 -1v1m17 -1v1M1 43v1m14 -1v1m4 -1v1m1 -1v1m3 -1v1m21 -1v1m3 -1v1m2 -1v1m2 -1v1m25 -1v1m18 -1v1m13 -1v1m8 -1v1m8 -1v1m9 -1v1m5 -1v1m8 -1v1M54 44v1m22 -1v1m3 -1v1m4 -1v1m33 -1v1m29 -1v1M4 45v1m16 -1v1m12 -1v1m2 -1v1m14 -1v1m4 -1v1m3 -1v1m24 -1v1m3 -1v1m13 -1v1m2 -1v1m4 -1v1m5 -1v1m9 -1v1m1 -1v1m10 -1v1m14 -1v1M0 46v1m16 -1v1m12 -1v1m18 -1v1m2 -1v1m3 -1v1m28 -1v1m3 -1v1m19 -1v1m10 -1v1m1 -1v1m19 -1v1M12 47v1m10 -1v1m4 -1v1m38 -1v1m8 -1v1m13 -1v1m29 -1v1m19 -1v1m8 -1v1M4 48v1m5 -1v1m29 -1v1m7 -1v1m1 -1v1m11 -1v1m26 -1v1m4 -1v1m5 -1v1m2 -1v1m4 -1v1m12 -1v1m6 -1v1m3 -1v1m12 -1v1M1 49v1m15 -1v1m14 -1v1m7 -1v1m14 -1v1m35 -1v1m7 -1v1m1 -1v1m1 -1v1m19 -1v1m15 -1v1m2 -1v1m6 -1v1M8 50v1m14 -1v1m2 -1v1m29 -1v1m35 -1v1m9 -1v1M7 51v1m2 -1v1m5 -1v1m13 -1v1m23 -1v1m18 -1v1m3 -1v1m10 -1v1m14 -1v1m20 -1v1m1 -1v1m4 -1v1m7 -1v1m7 -1v1m2 -1v1M4 52v1m1 -1v1m2 -1v1m1 -1v1m2 -1v1m11 -1v1m2 -1v1m53 -1v1m1 -1v1m12 -1v1m8 -1v1m3 -1v1m2 -1v1m15 -1v1m13 -1v1m14 -1v1M5 53v1m12 -1v1m15 -1v1m4 -1v1m9 -1v1m4 -1v1m5 -1v1m4 -1v1m15 -1v1m23 -1v1m2 -1v1m11 -1v1m4 -1v1m22 -1v1M14 54v1m2 -1v1m27 -1v1m12 -1v1m4 -1v1m13 -1v1m3 -1v1m6 -1v1m20 -1v1m20 -1v1m1 -1v1m4 -1v1m1 -1v1m2 -1v1m7 -1v1m2 -1v1M2 55v1m53 -1v1m9 -1v1m16 -1v1m3 -1v1m6 -1v1M7 56v1m5 -1v1m2 -1v1m7 -1v1m2 -1v1m1 -1v1m6 -1v1m12 -1v1m5 -1v1m10 -1v1m3 -1v1m26 -1v1m25 -1v1m9 -1v1m20 -1v1M6 57v1m5 -1v1m19 -1v1m19 -1v1m41 -1v1m10 -1v1m19 -1v1m18 -1v1M7 58v1m5 -1v1m24 -1v1m6 -1v1m24 -1v1m14 -1v1m9 -1v1m21 -1v1M0 59v1m10 -1v1m32 -1v1m1 -1v1m11 -1v1m16 -1v1m42 -1v1m3 -1v1m3 -1v1m20 -1v1M4 60v1m42 -1v1m58 -1v1m4 -1v1m11 -1v1M38 61v1m7 -1v1m18 -1v1m55 -1v1M6 62v1m4 -1v1m16 -1v1m63 -1v1m3 -1v1m16 -1v1m1 -1v1m14 -1v1m16 -1v1m1 -1v1m5 -1v1M14 63v1m1 -1v1m2 -1v1m5 -1v1m1 -1v1m9 -1v1m4 -1v1M50 64v1m6 -1v1m5 -1v1M48 65v1m30 -1v1m1 -1v1m19 -1v1m41 -1v1M13 66v1m6 -1v1m9 -1v1m86 -1v1m7 -1v1m19 -1v1M31 67v1m20 -1v1m34 -1v1m7 -1v1m25 -1v1m10 -1v1m1 -1v1m10 -1v1M6 68v1m45 -1v1m53 -1v1m18 -1v1m11 -1v1M38 69v1m80 -1v1M7 70v1m22 -1v1m62 -1v1m37 -1v1M0 71v1m9 -1v1m3 -1v1m3 -1v1m49 -1v1m3 -1v1m25 -1v1m3 -1v1m13 -1v1m19 -1v1m1 -1v1m4 -1v1m5 -1v1m1 -1v1M16 72v1m5 -1v1m1 -1v1m21 -1v1m37 -1v1m31 -1v1m15 -1v1m16 -1v1M58 73v1m70 -1v1M25 74v1m1 -1v1m10 -1v1m10 -1v1m22 -1v1m1 -1v1m49 -1v1m23 -1v1M44 75v1m40 -1v1M40 76v1m4 -1v1m10 -1v1m4 -1v1m29 -1v1M16 77v1m11 -1v1m9 -1v1m26 -1v1m39 -1v1m5 -1v1m18 -1v1M2 78v1m1 -1v1m13 -1v1m23 -1v1m19 -1v1m17 -1v1m1 -1v1m15 -1v1M9 79v1m5 -1v1m9 -1v1m56 -1v1m61 -1v1"/>
<path transform="matrix(1.0021 0 0 8.2662 786.101 21.600)" stroke="#60642a" stroke-width="1" d="M55 0v1M18 1v1m13 -1v1m8 -1v1m84 -1v1m1 -1v1m3 -1v1m1 -1v1m15 -1v1m2 -1v1M63 2v1m48 -1v1m18 -1v1M24 3v1m26 -1v1m19 -1v1m15 -1v1m3 -1v1m13 -1v1M116 4v1m8 -1v1m14 -1v1M52 5v1m1 -1v1m52 -1v1m20 -1v1M21 6v1m1 -1v1m17 -1v1m2 -1v1m28 -1v1m45 -1v1M42 7v1m6 -1v1m1 -1v1m48 -1v1m1 -1v1m4 -1v1m8 -1v1M8 8v1m14 -1v1m13 -1v1m24 -1v1M3 9v1m17 -1v1m4 -1v1m20 -1v1M56 10v1m43 -1v1m19 -1v1M21 11v1m21 -1v1m12 -1v1m22 -1v1m32 -1v1m5 -1v1m14 -1v1M24 12v1m15 -1v1m1 -1v1m26 -1v1m41 -1v1M15 13v1m9 -1v1m9 -1v1m32 -1v1m1 -1v1m29 -1v1M19 14v1m5 -1v1m10 -1v1m8 -1v1m89 -1v1M38 15v1m49 -1v1M0 16v1m1 -1v1m2 -1v1m3 -1v1m27 -1v1m37 -1v1m2 -1v1m11 -1v1M26 17v1m24 -1v1M8 18v1m121 -1v1M44 19v1m11 -1v1m3 -1v1m51 -1v1m36 -1v1M80 22v1M15 24v1m30 -1v1m30 -1v1M84 28v1M43 30v1m32 -1v1M7 31v1m124 -1v1M53 32v1M31 35v1m7 -1v1M71 38v1m70 -1v1M95 39v1M12 40v1m2 -1v1m7 -1v1m36 -1v1m4 -1v1m9 -1v1m25 -1v1m6 -1v1m1 -1v1m1 -1v1m13 -1v1m14 -1v1m7 -1v1m5 -1v1M13 41v1m19 -1v1m9 -1v1m4 -1v1m31 -1v1m15 -1v1m1 -1v1m9 -1v1m1 -1v1m5 -1v1m27 -1v1m1 -1v1m2 -1v1M10 42v1m7 -1v1m1 -1v1m12 -1v1m15 -1v1m22 -1v1m12 -1v1m3 -1v1m34 -1v1m17 -1v1M10 43v1m2 -1v1m1 -1v1m23 -1v1m3 -1v1m29 -1v1m17 -1v1m4 -1v1m4 -1v1m21 -1v1m28 -1v1m1 -1v1M30 44v1m33 -1v1m2 -1v1m12 -1v1m1 -1v1m7 -1v1m2 -1v1m5 -1v1m18 -1v1m7 -1v1m14 -1v1M14 45v1m28 -1v1m8 -1v1m6 -1v1m21 -1v1m15 -1v1m13 -1v1m8 -1v1m11 -1v1m1 -1v1m7 -1v1M19 46v1m3 -1v1m14 -1v1m5 -1v1m1 -1v1m33 -1v1m9 -1v1m1 -1v1m6 -1v1m6 -1v1m5 -1v1m12 -1v1m10 -1v1M17 47v1m4 -1v1m36 -1v1m12 -1v1m37 -1v1m5 -1v1m1 -1v1m4 -1v1m14 -1v1m1 -1v1m3 -1v1m9 -1v1M1 48v1m9 -1v1m3 -1v1m21 -1v1m37 -1v1m5 -1v1m28 -1v1m32 -1v1M0 49v1m8 -1v1m14 -1v1m1 -1v1m9 -1v1m4 -1v1m86 -1v1m23 -1v1M80 50v1m10 -1v1m44 -1v1m6 -1v1M52 51v1m4 -1v1m9 -1v1m7 -1v1m2 -1v1m6 -1v1m12 -1v1m13 -1v1m16 -1v1m2 -1v1m3 -1v1m2 -1v1M22 52v1m15 -1v1m3 -1v1m25 -1v1m9 -1v1m34 -1v1m4 -1v1m6 -1v1m8 -1v1m5 -1v1M7 53v1m9 -1v1m28 -1v1m15 -1v1m8 -1v1m17 -1v1m1 -1v1m15 -1v1m3 -1v1m4 -1v1m9 -1v1m13 -1v1m3 -1v1m4 -1v1M78 54v1m4 -1v1m16 -1v1m33 -1v1m1 -1v1m2 -1v1m3 -1v1m2 -1v1m3 -1v1M17 55v1m3 -1v1m6 -1v1m4 -1v1m6 -1v1m5 -1v1m16 -1v1m18 -1v1m3 -1v1m26 -1v1m6 -1v1m18 -1v1m4 -1v1M5 56v1m8 -1v1m13 -1v1m1 -1v1m43 -1v1m29 -1v1m5 -1v1m29 -1v1M63 57v1m22 -1v1m1 -1v1m8 -1v1m14 -1v1m8 -1v1m18 -1v1m4 -1v1m6 -1v1M44 58v1m11 -1v1m20 -1v1m6 -1v1m5 -1v1m4 -1v1m14 -1v1m14 -1v1m15 -1v1M1 59v1m20 -1v1m11 -1v1m19 -1v1m10 -1v1m8 -1v1m4 -1v1m2 -1v1m1 -1v1m26 -1v1m17 -1v1m10 -1v1m14 -1v1M12 60v1m127 -1v1M12 61v1m99 -1v1M4 62v1m1 -1v1m47 -1v1m11 -1v1m24 -1v1m19 -1v1m8 -1v1m13 -1v1m9 -1v1M38 63v1m11 -1v1m12 -1v1m21 -1v1m25 -1v1m1 -1v1m31 -1v1M31 64v1m23 -1v1m14 -1v1m22 -1v1m38 -1v1m1 -1v1M1 65v1m9 -1v1m28 -1v1m48 -1v1m36 -1v1M46 66v1m8 -1v1m69 -1v1m4 -1v1M18 67v1m9 -1v1m6 -1v1m92 -1v1M17 68v1m23 -1v1m16 -1v1m8 -1v1m20 -1v1m23 -1v1M70 69v1m63 -1v1m7 -1v1M46 70v1m15 -1v1m22 -1v1m14 -1v1m33 -1v1M24 71v1m4 -1v1m5 -1v1m5 -1v1m41 -1v1m2 -1v1m22 -1v1m1 -1v1M28 72v1m7 -1v1m4 -1v1m5 -1v1m7 -1v1m16 -1v1m14 -1v1M18 73v1m12 -1v1m1 -1v1m12 -1v1m44 -1v1M10 74v1m71 -1v1M132 75v1M31 76v1m18 -1v1m82 -1v1M17 77v1m3 -1v1m10 -1v1m37 -1v1m4 -1v1m1 -1v1m9 -1v1m41 -1v1m13 -1v1M24 78v1m33 -1v1m13 -1v1m50 -1v1M24 79v1m15 -1v1m14 -1v1m2 -1v1m5 -1v1m46 -1v1m22 -1v1"/>
<path transform="matrix(1.0021 0 0 8.2662 786.101 21.600)" stroke="#777b31" stroke-width="1" d="M74 0v1m33 -1v1m15 -1v1M54 1v1m18 -1v1M21 2v1m21 -1v1m15 -1v1m33 -1v1m1 -1v1M55 3v1m56 -1v1M4 4v1m22 -1v1m17 -1v1m60 -1v1m16 -1v1m4 -1v1m11 -1v1M18 5v1m32 -1v1m59 -1v1m6 -1v1m2 -1v1m15 -1v1m13 -1v1M120 6v1m1 -1v1M33 7v1m8 -1v1m20 -1v1M9 8v1m39 -1v1m33 -1v1m31 -1v1M12 9v1m20 -1v1m34 -1v1m3 -1v1m25 -1v1m3 -1v1m33 -1v1M2 10v1m2 -1v1m34 -1v1m106 -1v1M10 11v1m1 -1v1m44 -1v1m2 -1v1M2 12v1m63 -1v1M41 13v1m14 -1v1m16 -1v1m71 -1v1M28 14v1m29 -1v1m67 -1v1M39 15v1m38 -1v1M21 16v1m22 -1v1m7 -1v1m3 -1v1m29 -1v1M8 17v1m3 -1v1m8 -1v1m25 -1v1m8 -1v1m16 -1v1M4 18v1m2 -1v1m15 -1v1m8 -1v1m6 -1v1m30 -1v1m9 -1v1M4 19v1m44 -1v1m20 -1v1m8 -1v1M58 24v1m69 -1v1M39 26v1m4 -1v1m74 -1v1M60 28v1m1 -1v1m28 -1v1m8 -1v1m24 -1v1m3 -1v1M8 29v1m46 -1v1M89 30v1m26 -1v1M44 31v1M68 32v1m37 -1v1m39 -1v1M97 34v1m19 -1v1M58 35v1M67 36v1m56 -1v1M0 37v1m44 -1v1m21 -1v1m32 -1v1m22 -1v1M4 38v1m8 -1v1m39 -1v1m19 -1v1M11 40v1m29 -1v1m16 -1v1m40 -1v1m8 -1v1m5 -1v1m9 -1v1m6 -1v1m15 -1v1M21 41v1m9 -1v1m13 -1v1m16 -1v1m2 -1v1m17 -1v1m17 -1v1m2 -1v1m32 -1v1m1 -1v1M14 42v1m8 -1v1m26 -1v1m8 -1v1m22 -1v1m6 -1v1m17 -1v1m26 -1v1m1 -1v1m9 -1v1M14 43v1m18 -1v1m3 -1v1m8 -1v1m10 -1v1m25 -1v1m49 -1v1m8 -1v1m4 -1v1M22 44v1m7 -1v1m27 -1v1M6 45v1m16 -1v1m51 -1v1m27 -1v1m4 -1v1m5 -1v1m8 -1v1m10 -1v1m15 -1v1M21 46v1m22 -1v1m9 -1v1m3 -1v1m12 -1v1m4 -1v1m6 -1v1m13 -1v1m2 -1v1m28 -1v1M0 47v1m62 -1v1m5 -1v1m19 -1v1m9 -1v1m4 -1v1m27 -1v1m1 -1v1M7 48v1m1 -1v1m21 -1v1m4 -1v1m18 -1v1m11 -1v1m27 -1v1m24 -1v1m9 -1v1m8 -1v1m5 -1v1m5 -1v1m4 -1v1m1 -1v1M19 49v1m5 -1v1m16 -1v1m6 -1v1m3 -1v1m7 -1v1m3 -1v1m8 -1v1m15 -1v1m24 -1v1m35 -1v1m3 -1v1M7 50v1m12 -1v1m13 -1v1m3 -1v1m7 -1v1m2 -1v1m10 -1v1m3 -1v1m30 -1v1m8 -1v1m11 -1v1m11 -1v1m4 -1v1m2 -1v1M21 51v1m13 -1v1m10 -1v1m2 -1v1m17 -1v1m10 -1v1m6 -1v1m14 -1v1m8 -1v1m2 -1v1m6 -1v1m3 -1v1m7 -1v1m5 -1v1m13 -1v1M14 52v1m17 -1v1m3 -1v1m19 -1v1m1 -1v1m4 -1v1m8 -1v1m59 -1v1m12 -1v1M1 53v1m1 -1v1m51 -1v1m25 -1v1m32 -1v1m7 -1v1m1 -1v1m3 -1v1m13 -1v1m5 -1v1m6 -1v1M40 54v1m1 -1v1m3 -1v1m23 -1v1m7 -1v1m3 -1v1m23 -1v1m2 -1v1m9 -1v1m19 -1v1M3 55v1m8 -1v1m1 -1v1m31 -1v1m23 -1v1m6 -1v1m2 -1v1m32 -1v1m2 -1v1m5 -1v1m9 -1v1m17 -1v1M55 56v1m20 -1v1m12 -1v1M12 57v1m13 -1v1m6 -1v1m28 -1v1m2 -1v1m13 -1v1m3 -1v1m3 -1v1m27 -1v1m3 -1v1m23 -1v1M20 58v1m10 -1v1m61 -1v1m41 -1v1M8 59v1m12 -1v1m7 -1v1m13 -1v1m4 -1v1m4 -1v1m10 -1v1m59 -1v1m20 -1v1M36 60v1m7 -1v1M0 61v1m1 -1v1m26 -1v1m54 -1v1m19 -1v1m13 -1v1M93 62v1m22 -1v1m17 -1v1M4 63v1m2 -1v1m15 -1v1m4 -1v1m44 -1v1m73 -1v1m1 -1v1M4 64v1m40 -1v1m38 -1v1m5 -1v1m45 -1v1M47 65v1m2 -1v1m28 -1v1m22 -1v1m14 -1v1m25 -1v1M9 66v1m44 -1v1m15 -1v1m6 -1v1m59 -1v1M12 68v1m1 -1v1m10 -1v1m1 -1v1m4 -1v1m38 -1v1m35 -1v1m2 -1v1m7 -1v1m1 -1v1M78 69v1m7 -1v1M34 70v1m58 -1v1m16 -1v1m6 -1v1m31 -1v1M36 71v1m8 -1v1m4 -1v1m1 -1v1m4 -1v1m9 -1v1m14 -1v1m22 -1v1M55 72v1m40 -1v1m28 -1v1m21 -1v1m1 -1v1M38 74v1m23 -1v1m2 -1v1m43 -1v1M16 75v1m104 -1v1m17 -1v1M16 76v1m3 -1v1m13 -1v1m1 -1v1m58 -1v1m18 -1v1m3 -1v1M40 77v1m28 -1v1m31 -1v1m20 -1v1m2 -1v1m10 -1v1M17 78v1m23 -1v1M10 79v1m49 -1v1m13 -1v1m2 -1v1"/>
<path transform="matrix(1.0021 0 0 8.2662 786.101 21.600)" stroke="#8e9238" stroke-width="1" d="M57 0v1m22 -1v1m39 -1v1m15 -1v1M22 1v1m83 -1v1m11 -1v1m1 -1v1M33 2v1m7 -1v1m26 -1v1m20 -1v1m10 -1v1m3 -1v1m17 -1v1m2 -1v1M33 3v1m84 -1v1M24 4v1m13 -1v1m26 -1v1m5 -1v1m14 -1v1m31 -1v1m2 -1v1M59 5v1m18 -1v1m15 -1v1m6 -1v1m8 -1v1m8 -1v1M34 6v1m27 -1v1m22 -1v1m9 -1v1M18 7v1m14 -1v1m22 -1v1m8 -1v1m28 -1v1m54 -1v1M93 8v1m9 -1v1m3 -1v1m37 -1v1M6 9v1m9 -1v1m12 -1v1m24 -1v1m2 -1v1M65 10v1M7 11v1m46 -1v1m8 -1v1m4 -1v1m10 -1v1m39 -1v1M3 12v1m38 -1v1M2 13v1m2 -1v1m12 -1v1m4 -1v1m1 -1v1m23 -1v1m19 -1v1m24 -1v1m1 -1v1m17 -1v1m4 -1v1m14 -1v1M113 14v1m1 -1v1M55 15v1M11 16v1m33 -1v1m15 -1v1m9 -1v1m27 -1v1M7 17v1m28 -1v1m27 -1v1m49 -1v1m9 -1v1m9 -1v1M7 18v1m25 -1v1m1 -1v1m20 -1v1m68 -1v1m5 -1v1M10 19v1m18 -1v1M11 23v1M12 24v1m104 -1v1M57 27v1M11 28v1m119 -1v1M82 29v1m29 -1v1M76 30v1m10 -1v1m15 -1v1m10 -1v1M84 31v1m6 -1v1M48 33v1m25 -1v1m63 -1v1M98 35v1m6 -1v1m33 -1v1M115 36v1m23 -1v1M16 37v1m22 -1v1m97 -1v1M115 38v1m20 -1v1M31 39v1m79 -1v1M24 40v1m13 -1v1m4 -1v1m2 -1v1m10 -1v1m9 -1v1m17 -1v1m15 -1v1m19 -1v1m2 -1v1M14 41v1m5 -1v1m9 -1v1m23 -1v1m92 -1v1M19 42v1m9 -1v1m37 -1v1m5 -1v1m19 -1v1m10 -1v1m11 -1v1m13 -1v1m6 -1v1M7 43v1m1 -1v1m54 -1v1m29 -1v1m10 -1v1m1 -1v1m8 -1v1m1 -1v1m15 -1v1M48 44v1m5 -1v1m8 -1v1m9 -1v1m19 -1v1m13 -1v1m3 -1v1m25 -1v1M0 45v1m63 -1v1m15 -1v1m2 -1v1m9 -1v1m32 -1v1M5 46v1m13 -1v1m17 -1v1m9 -1v1m13 -1v1m3 -1v1m33 -1v1m15 -1v1m7 -1v1m1 -1v1m3 -1v1m16 -1v1m5 -1v1M11 47v1m52 -1v1m2 -1v1m26 -1v1m9 -1v1m21 -1v1m15 -1v1M30 48v1m11 -1v1m17 -1v1m5 -1v1m30 -1v1m34 -1v1m10 -1v1M71 49v1m28 -1v1m1 -1v1m1 -1v1m7 -1v1m2 -1v1m1 -1v1m12 -1v1M25 50v1m25 -1v1m5 -1v1m5 -1v1m24 -1v1m9 -1v1m16 -1v1m13 -1v1M39 51v1m1 -1v1m13 -1v1m11 -1v1m11 -1v1m12 -1v1m15 -1v1m6 -1v1m6 -1v1m4 -1v1m4 -1v1m10 -1v1M25 52v1m16 -1v1m53 -1v1m1 -1v1m9 -1v1m1 -1v1m33 -1v1M4 53v1m7 -1v1m1 -1v1m34 -1v1m11 -1v1m7 -1v1m6 -1v1m4 -1v1m31 -1v1m35 -1v1M21 54v1m3 -1v1m10 -1v1m2 -1v1m12 -1v1m14 -1v1m4 -1v1m22 -1v1m5 -1v1m19 -1v1M4 55v1m42 -1v1m12 -1v1m15 -1v1m20 -1v1m2 -1v1m23 -1v1m2 -1v1m5 -1v1m17 -1v1M46 56v1m2 -1v1m4 -1v1m41 -1v1m45 -1v1m1 -1v1M43 57v1m9 -1v1m21 -1v1m9 -1v1m6 -1v1m40 -1v1M19 58v1m2 -1v1m14 -1v1m36 -1v1m14 -1v1m13 -1v1m15 -1v1m7 -1v1m24 -1v1M2 59v1m1 -1v1m2 -1v1m8 -1v1m6 -1v1m9 -1v1m5 -1v1m17 -1v1m3 -1v1m31 -1v1m21 -1v1m17 -1v1M10 60v1m50 -1v1M87 61v1m20 -1v1M60 62v1m6 -1v1m1 -1v1m11 -1v1m12 -1v1m27 -1v1m2 -1v1m14 -1v1m2 -1v1M27 63v1m6 -1v1m13 -1v1m47 -1v1m16 -1v1m22 -1v1m7 -1v1M52 64v1m69 -1v1M12 65v1m25 -1v1m22 -1v1m24 -1v1m1 -1v1m7 -1v1m1 -1v1m11 -1v1M23 66v1m38 -1v1M1 67v1m15 -1v1m16 -1v1m5 -1v1m4 -1v1m1 -1v1m2 -1v1m91 -1v1M10 68v1m16 -1v1m9 -1v1m6 -1v1m1 -1v1m11 -1v1m26 -1v1M0 69v1m17 -1v1m6 -1v1m1 -1v1m50 -1v1m13 -1v1m34 -1v1M0 70v1m17 -1v1m18 -1v1m12 -1v1m41 -1v1M25 71v1m80 -1v1m7 -1v1M3 72v1m14 -1v1m114 -1v1M16 73v1M4 74v1m39 -1v1m19 -1v1m3 -1v1m11 -1v1m10 -1v1m43 -1v1m10 -1v1m5 -1v1M5 76v1m15 -1v1m48 -1v1m10 -1v1m1 -1v1m50 -1v1M37 77v1m11 -1v1m4 -1v1m40 -1v1m4 -1v1m31 -1v1m12 -1v1M29 78v1m55 -1v1m3 -1v1M15 79v1m95 -1v1"/>
<path transform="matrix(1.0021 0 0 8.2662 786.101 21.600)" stroke="#a7ab38" stroke-width="1" d="M56 0v1M115 1v1M59 2v1m61 -1v1M4 3v1m76 -1v1M6 4v1m59 -1v1m8 -1v1m41 -1v1M3 6v1m30 -1v1m48 -1v1M16 7v1m1 -1v1m9 -1v1m5 -1v1m20 -1v1m15 -1v1m5 -1v1m1 -1v1M4 9v1m30 -1v1M87 10v1m10 -1v1M3 11v1m14 -1v1m14 -1v1m37 -1v1m3 -1v1m16 -1v1M7 12v1m6 -1v1m31 -1v1M3 13v1m29 -1v1m22 -1v1m29 -1v1M14 14v1m30 -1v1m29 -1v1m33 -1v1M40 15v1m52 -1v1m1 -1v1M7 16v1m51 -1v1m2 -1v1M74 17v1m1 -1v1m6 -1v1m8 -1v1m53 -1v1M0 18v1m43 -1v1m5 -1v1m4 -1v1m55 -1v1M7 19v1m7 -1v1m10 -1v1m2 -1v1m33 -1v1m3 -1v1m4 -1v1m29 -1v1M56 29v1M87 31v1M62 33v1M97 35v1M28 36v1M1 40v1m1 -1v1m4 -1v1m10 -1v1m7 -1v1m12 -1v1m14 -1v1m9 -1v1m1 -1v1m25 -1v1m4 -1v1m32 -1v1m24 -1v1M22 41v1m2 -1v1m22 -1v1m8 -1v1m2 -1v1m6 -1v1m1 -1v1m5 -1v1m1 -1v1m1 -1v1m12 -1v1m4 -1v1m2 -1v1m21 -1v1M38 42v1m3 -1v1m6 -1v1m2 -1v1m24 -1v1m23 -1v1m1 -1v1m17 -1v1M22 43v1m9 -1v1m3 -1v1m41 -1v1m9 -1v1m6 -1v1M17 44v1m51 -1v1m6 -1v1m19 -1v1m8 -1v1m22 -1v1M19 45v1m8 -1v1m2 -1v1m39 -1v1m8 -1v1m15 -1v1m17 -1v1m22 -1v1m8 -1v1m1 -1v1M34 46v1m13 -1v1m11 -1v1m23 -1v1m18 -1v1m10 -1v1m1 -1v1m3 -1v1m31 -1v1M14 47v1m2 -1v1m14 -1v1m9 -1v1m3 -1v1m1 -1v1m12 -1v1m19 -1v1m36 -1v1M2 48v1m3 -1v1m34 -1v1m20 -1v1m22 -1v1m26 -1v1m4 -1v1m23 -1v1m4 -1v1M20 49v1m5 -1v1m2 -1v1m2 -1v1m13 -1v1m30 -1v1m2 -1v1m15 -1v1m7 -1v1m1 -1v1M0 50v1m9 -1v1m12 -1v1m26 -1v1m4 -1v1m8 -1v1m19 -1v1m4 -1v1m19 -1v1m19 -1v1m18 -1v1M3 51v1m5 -1v1m4 -1v1m16 -1v1m29 -1v1m19 -1v1m31 -1v1m6 -1v1m18 -1v1m8 -1v1M3 52v1m23 -1v1m1 -1v1m2 -1v1m40 -1v1m47 -1v1m17 -1v1M15 53v1m8 -1v1m7 -1v1m13 -1v1m8 -1v1m1 -1v1m3 -1v1m8 -1v1m70 -1v1m10 -1v1M1 54v1m4 -1v1m1 -1v1m7 -1v1m4 -1v1m12 -1v1m56 -1v1m5 -1v1m18 -1v1m2 -1v1M22 55v1m27 -1v1m2 -1v1m8 -1v1m42 -1v1m14 -1v1m25 -1v1m3 -1v1M29 56v1m8 -1v1m6 -1v1m23 -1v1m43 -1v1m1 -1v1m7 -1v1m1 -1v1m3 -1v1m20 -1v1M13 57v1m16 -1v1m6 -1v1m6 -1v1m17 -1v1m18 -1v1m8 -1v1m11 -1v1m2 -1v1m25 -1v1m4 -1v1m4 -1v1m11 -1v1M23 58v1m36 -1v1m3 -1v1m35 -1v1m18 -1v1m16 -1v1M26 59v1m12 -1v1m24 -1v1m3 -1v1m12 -1v1m12 -1v1m12 -1v1m5 -1v1m24 -1v1M1 60v1m116 -1v1m1 -1v1M73 63v1m1 -1v1m22 -1v1m1 -1v1m20 -1v1M6 64v1m85 -1v1m2 -1v1M63 65v1m1 -1v1m40 -1v1M74 67v1M15 68v1M68 69v1m14 -1v1M138 70v1M22 71v1m15 -1v1m4 -1v1M97 72v1m11 -1v1M105 73v1M37 74v1M116 75v1m14 -1v1M95 76v1M69 77v1M88 78v1m8 -1v1M40 79v1m10 -1v1m25 -1v1m1 -1v1"/>
<path transform="matrix(1.0021 0 0 8.2662 786.101 21.600)" stroke="#c0c438" stroke-width="1" d="M11 2v1m12 -1v1m1 -1v1m19 -1v1m34 -1v1m36 -1v1m1 -1v1M60 4v1m19 -1v1M59 6v1m56 -1v1M5 7v1m29 -1v1m11 -1v1m80 -1v1M44 8v1m39 -1v1M35 9v1m41 -1v1m24 -1v1m20 -1v1M11 10v1m10 -1v1m1 -1v1m38 -1v1m26 -1v1M15 11v1m52 -1v1M35 12v1m3 -1v1M17 13v1m68 -1v1m6 -1v1M62 14v1m16 -1v1M7 15v1m50 -1v1m25 -1v1M64 16v1m56 -1v1M21 17v1m11 -1v1m4 -1v1m31 -1v1m59 -1v1m13 -1v1M11 18v1m11 -1v1m1 -1v1m28 -1v1m7 -1v1m55 -1v1M2 19v1m115 -1v1M7 40v1m8 -1v1m31 -1v1m31 -1v1m21 -1v1m25 -1v1m4 -1v1m7 -1v1m1 -1v1m5 -1v1M7 41v1m22 -1v1m2 -1v1m74 -1v1m12 -1v1m1 -1v1m1 -1v1M16 42v1m13 -1v1m4 -1v1m17 -1v1m21 -1v1m5 -1v1m15 -1v1m22 -1v1m12 -1v1m6 -1v1m1 -1v1M21 43v1m17 -1v1m4 -1v1m17 -1v1m7 -1v1m3 -1v1m1 -1v1m29 -1v1M8 44v1m5 -1v1m1 -1v1m5 -1v1m1 -1v1m19 -1v1m2 -1v1m31 -1v1m24 -1v1m1 -1v1m2 -1v1m35 -1v1m1 -1v1m3 -1v1m3 -1v1M3 45v1m7 -1v1m8 -1v1m18 -1v1m2 -1v1m7 -1v1m29 -1v1m1 -1v1m15 -1v1m41 -1v1m13 -1v1M4 46v1m6 -1v1m16 -1v1m24 -1v1m9 -1v1m48 -1v1m10 -1v1m4 -1v1m2 -1v1m6 -1v1M19 47v1m4 -1v1m12 -1v1m3 -1v1m6 -1v1m39 -1v1m13 -1v1m6 -1v1M25 48v1m2 -1v1m22 -1v1m20 -1v1m1 -1v1m12 -1v1m13 -1v1m7 -1v1m1 -1v1m15 -1v1m24 -1v1M10 49v1m7 -1v1m17 -1v1m44 -1v1m5 -1v1m4 -1v1m1 -1v1m14 -1v1m18 -1v1m18 -1v1M18 50v1m80 -1v1m2 -1v1m3 -1v1m10 -1v1m11 -1v1m18 -1v1M4 51v1m19 -1v1m10 -1v1m37 -1v1m8 -1v1m19 -1v1m3 -1v1m44 -1v1M30 52v1m14 -1v1m1 -1v1m10 -1v1m13 -1v1m10 -1v1m2 -1v1m13 -1v1m3 -1v1m2 -1v1m9 -1v1m27 -1v1M50 53v1m12 -1v1m25 -1v1m1 -1v1m56 -1v1M3 54v1m17 -1v1m44 -1v1m16 -1v1m16 -1v1m3 -1v1M5 55v1m18 -1v1m25 -1v1m44 -1v1m10 -1v1m5 -1v1M3 56v1m25 -1v1m10 -1v1m6 -1v1m5 -1v1m5 -1v1m7 -1v1m17 -1v1m30 -1v1m11 -1v1m6 -1v1M34 57v1m12 -1v1m2 -1v1m20 -1v1M25 58v1m1 -1v1m2 -1v1m29 -1v1m11 -1v1m37 -1v1M11 59v1m1 -1v1m2 -1v1m41 -1v1m31 -1v1m13 -1v1m42 -1v1m1 -1v1M110 75v1m7 -1v1m1 -1v1"/>
<path transform="matrix(1.0021 0 0 8.2662 786.101 21.600)" stroke="#d6d536" stroke-width="1" d="M28 2v1m8 -1v1m3 -1v1m37 -1v1m2 -1v1m44 -1v1M78 4v1m28 -1v1m3 -1v1M25 6v1m32 -1v1m1 -1v1m44 -1v1m4 -1v1m26 -1v1M7 7v1m5 -1v1m34 -1v1m9 -1v1m23 -1v1m26 -1v1M1 8v1m9 -1v1m29 -1v1m55 -1v1m24 -1v1M18 9v1m7 -1v1m1 -1v1m15 -1v1m17 -1v1m28 -1v1M3 10v1m16 -1v1m1 -1v1m4 -1v1m6 -1v1m17 -1v1m3 -1v1m20 -1v1M4 11v1m1 -1v1m1 -1v1m8 -1v1m16 -1v1m50 -1v1m9 -1v1m30 -1v1m23 -1v1M17 12v1m79 -1v1M13 13v1m25 -1v1M2 14v1m5 -1v1m3 -1v1m2 -1v1m18 -1v1m55 -1v1M8 15v1m7 -1v1m9 -1v1m1 -1v1m8 -1v1m1 -1v1m39 -1v1M26 16v1m8 -1v1m44 -1v1m6 -1v1M0 17v1m22 -1v1M25 18v1m54 -1v1m7 -1v1m45 -1v1M3 19v1m36 -1v1m11 -1v1m38 -1v1m2 -1v1M4 40v1m30 -1v1m32 -1v1m1 -1v1m26 -1v1m32 -1v1m1 -1v1M9 41v1m8 -1v1m43 -1v1m11 -1v1m42 -1v1m8 -1v1m5 -1v1m6 -1v1M23 42v1m52 -1v1m15 -1v1m3 -1v1m9 -1v1m16 -1v1m12 -1v1m5 -1v1m9 -1v1M0 43v1m29 -1v1m4 -1v1m13 -1v1m46 -1v1m48 -1v1M12 44v1m38 -1v1m17 -1v1m24 -1v1m17 -1v1m7 -1v1m7 -1v1m14 -1v1m8 -1v1M8 45v1m45 -1v1m11 -1v1m39 -1v1m4 -1v1m29 -1v1M6 46v1m5 -1v1m1 -1v1m12 -1v1m1 -1v1m2 -1v1m39 -1v1m7 -1v1m1 -1v1m24 -1v1m30 -1v1m5 -1v1m1 -1v1M2 47v1m75 -1v1m28 -1v1m4 -1v1m14 -1v1m1 -1v1m5 -1v1m3 -1v1m6 -1v1M6 48v1m17 -1v1m8 -1v1m13 -1v1m24 -1v1m11 -1v1m11 -1v1m10 -1v1m21 -1v1m7 -1v1m13 -1v1M12 49v1m26 -1v1m28 -1v1m10 -1v1M16 50v1m10 -1v1m13 -1v1m9 -1v1m1 -1v1m23 -1v1m2 -1v1m5 -1v1m20 -1v1m5 -1v1m1 -1v1m10 -1v1M6 51v1m5 -1v1m38 -1v1m37 -1v1m20 -1v1m24 -1v1m10 -1v1M11 52v1m27 -1v1m1 -1v1m12 -1v1m16 -1v1m54 -1v1M13 53v1m1 -1v1m25 -1v1m47 -1v1m6 -1v1m27 -1v1m11 -1v1m11 -1v1M11 54v1m21 -1v1m14 -1v1m1 -1v1m3 -1v1m34 -1v1m10 -1v1m19 -1v1M10 55v1m40 -1v1m3 -1v1m10 -1v1m25 -1v1m26 -1v1m2 -1v1m15 -1v1M0 56v1m10 -1v1m48 -1v1m5 -1v1m1 -1v1m20 -1v1m13 -1v1m27 -1v1m3 -1v1m5 -1v1M3 57v1m4 -1v1m3 -1v1m9 -1v1m38 -1v1m26 -1v1m13 -1v1M13 58v1m16 -1v1m4 -1v1m19 -1v1m8 -1v1m4 -1v1m47 -1v1m13 -1v1m5 -1v1m1 -1v1M25 59v1m5 -1v1m4 -1v1m23 -1v1m31 -1v1m19 -1v1m14 -1v1M13 75v1m19 -1v1m79 -1v1m8 -1v1m19 -1v1M77 79v1"/>
<path transform="matrix(1.0021 0 0 8.2662 786.101 21.600)" stroke="#ebe634" stroke-width="1" d="M44 2v1m27 -1v1m34 -1v1M132 4v1M126 6v1m1 -1v1m16 -1v1M29 7v1M2 8v1m23 -1v1m5 -1v1m37 -1v1m69 -1v1m5 -1v1M11 9v1m60 -1v1m73 -1v1M23 10v1m10 -1v1M0 11v1m118 -1v1M0 12v1m15 -1v1m3 -1v1M9 13v1m63 -1v1M53 14v1m2 -1v1m52 -1v1M16 15v1m21 -1v1m72 -1v1M23 16v1m14 -1v1m65 -1v1M9 17v1m97 -1v1m8 -1v1m11 -1v1M12 18v1m6 -1v1m42 -1v1M0 19v1M3 40v1m65 -1v1m10 -1v1M4 41v1m21 -1v1m47 -1v1m7 -1v1m29 -1v1M69 42v1m14 -1v1m55 -1v1M30 43v1m11 -1v1m65 -1v1m2 -1v1m1 -1v1m10 -1v1M16 44v1m11 -1v1m79 -1v1m12 -1v1M7 45v1m8 -1v1m6 -1v1m26 -1v1m15 -1v1m26 -1v1m22 -1v1m31 -1v1m2 -1v1M14 46v1m131 -1v1M32 47v1m5 -1v1m41 -1v1M54 48v1m19 -1v1M21 49v1m20 -1v1m75 -1v1M13 50v1m33 -1v1m25 -1v1m54 -1v1m3 -1v1m9 -1v1m4 -1v1M31 51v1m4 -1v1m23 -1v1m1 -1v1m3 -1v1M27 53v1m50 -1v1m3 -1v1m62 -1v1M26 54v1m32 -1v1m28 -1v1m1 -1v1m31 -1v1m23 -1v1M1 55v1m30 -1v1m31 -1v1m29 -1v1m54 -1v1M45 56v1m34 -1v1m10 -1v1m42 -1v1m3 -1v1m3 -1v1M27 57v1m39 -1v1m9 -1v1m30 -1v1m16 -1v1M0 58v1m94 -1v1M87 59v1m13 -1v1m11 -1v1M61 75v1m54 -1v1"/>
<rect x="933.70" y="21.60" width="115.00" height="661.30" fill="#0b0c1a"/>
<rect x="933.70" y="21.60" width="115.00" height="57.86" fill="#0b0c1a"/>
<rect x="933.70" y="79.46" width="115.00" height="8.27" fill="#1e1f4e"/>
<rect x="933.70" y="87.73" width="115.00" height="16.53" fill="#161838"/>
<rect x="933.70" y="104.26" width="115.00" height="8.27" fill="#0b0c1a"/>
<rect x="933.70" y="112.53" width="115.00" height="8.27" fill="#161838"/>
<rect x="933.70" y="120.79" width="115.00" height="8.27" fill="#0b0c1a"/>
<rect x="933.70" y="129.06" width="115.00" height="33.06" fill="#1e1f4e"/>
<rect x="933.70" y="162.13" width="115.00" height="16.53" fill="#0b0c1a"/>
<rect x="933.70" y="178.66" width="115.00" height="8.27" fill="#161838"/>
<rect x="933.70" y="186.92" width="115.00" height="148.79" fill="#0b0c1a"/>
<rect x="933.70" y="335.72" width="115.00" height="8.27" fill="#1e1f4e"/>
<rect x="933.70" y="343.98" width="115.00" height="16.53" fill="#0b0c1a"/>
<rect x="933.70" y="360.52" width="115.00" height="8.27" fill="#1e1f4e"/>
<rect x="933.70" y="368.78" width="115.00" height="8.27" fill="#0b0c1a"/>
<rect x="933.70" y="377.05" width="115.00" height="33.06" fill="#1e1f4e"/>
<rect x="933.70" y="410.11" width="115.00" height="8.27" fill="#0b0c1a"/>
<rect x="933.70" y="418.38" width="115.00" height="8.27" fill="#161838"/>
<rect x="933.70" y="426.65" width="115.00" height="8.27" fill="#0b0c1a"/>
<rect x="933.70" y="434.91" width="115.00" height="16.53" fill="#1e1f4e"/>
<rect x="933.70" y="451.44" width="115.00" height="8.27" fill="#0b0c1a"/>
<rect x="933.70" y="459.71" width="115.00" height="8.27" fill="#1e1f4e"/>
<rect x="933.70" y="467.98" width="115.00" height="8.27" fill="#161838"/>
<rect x="933.70" y="476.24" width="115.00" height="16.53" fill="#1e1f4e"/>
<rect x="933.70" y="492.78" width="115.00" height="8.27" fill="#0b0c1a"/>
<rect x="933.70" y="501.04" width="115.00" height="8.27" fill="#1e1f4e"/>
<rect x="933.70" y="509.31" width="115.00" height="24.80" fill="#0b0c1a"/>
<rect x="933.70" y="534.11" width="115.00" height="16.53" fill="#161838"/>
<rect x="933.70" y="550.64" width="115.00" height="8.27" fill="#0b0c1a"/>
<rect x="933.70" y="558.91" width="115.00" height="8.27" fill="#161838"/>
<rect x="933.70" y="567.17" width="115.00" height="16.53" fill="#0b0c1a"/>
<rect x="933.70" y="583.71" width="115.00" height="8.27" fill="#161838"/>
<rect x="933.70" y="591.97" width="115.00" height="8.27" fill="#0b0c1a"/>
<rect x="933.70" y="600.24" width="115.00" height="24.80" fill="#161838"/>
<rect x="933.70" y="625.04" width="115.00" height="41.33" fill="#0b0c1a"/>
<rect x="933.70" y="666.37" width="115.00" height="8.27" fill="#161838"/>
<rect x="933.70" y="674.63" width="115.00" height="8.27" fill="#0b0c1a"/>
<path transform="matrix(1.0000 0 0 8.2662 934.200 21.600)" stroke="#282a6f" stroke-width="1" d="M40 50v1"/>
<path transform="matrix(1.0000 0 0 8.2662 934.200 21.600)" stroke="#262664" stroke-width="1" d="M91 13v1M15 14v1m76 -1v1m9 -1v1M77 15v1m3 -1v1M36 38v1m5 -1v1m26 -1v1m33 -1v1M21 41v1m73 -1v1M10 43v1m41 -1v1m2 -1v1m8 -1v1m51 -1v1M8 45v1M25 46v1m20 -1v1M39 50v1M14 51v1M73 54v1M10 55v1m90 -1v1M74 65v1M74 70v1"/>
<path transform="matrix(1.0000 0 0 8.2662 934.200 21.600)" stroke="#1e1f4e" stroke-width="1" d="M54 8v1M105 9v1m5 -1v1M1 11v1m107 -1v1M54 19v1m10 -1v1m43 -1v1M51 48v1m2 -1v1m17 -1v1m25 -1v1m6 -1v1M23 54v1m2 -1v1m10 -1v1m76 -1v1M7 65v1m6 -1v1m11 -1v1m72 -1v1M55 70v1m18 -1v1M90 78v1"/>
<path transform="matrix(1.0000 0 0 8.2662 934.200 21.600)" stroke="#161838" stroke-width="1" d="M30 0v1M18 7v1m3 -1v1m9 -1v1m3 -1v1m16 -1v1m9 -1v1m3 -1v1m9 -1v1m24 -1v1m4 -1v1m2 -1v1m2 -1v1M4 13v1m56 -1v1m2 -1v1m10 -1v1m1 -1v1m10 -1v1M19 14v1m3 -1v1m7 -1v1m14 -1v1m9 -1v1m10 -1v1m27 -1v1m7 -1v1m2 -1v1m12 -1v1m1 -1v1m3 -1v1M12 15v1m9 -1v1m1 -1v1m6 -1v1m5 -1v1m7 -1v1m14 -1v1m25 -1v1m14 -1v1m3 -1v1m6 -1v1M1 16v1m58 -1v1m21 -1v1m1 -1v1m11 -1v1m4 -1v1m12 -1v1M26 27v1M10 31v1M8 38v1m3 -1v1m8 -1v1m1 -1v1m14 -1v1m3 -1v1m9 -1v1m7 -1v1m2 -1v1m2 -1v1m4 -1v1m7 -1v1m5 -1v1m9 -1v1m20 -1v1m11 -1v1M106 40v1M7 41v1m15 -1v1m5 -1v1m3 -1v1m1 -1v1m6 -1v1m45 -1v1m22 -1v1m7 -1v1M12 43v1m2 -1v1m14 -1v1m34 -1v1m4 -1v1m1 -1v1m3 -1v1m23 -1v1m5 -1v1m4 -1v1m9 -1v1m2 -1v1M26 44v1m41 -1v1m22 -1v1m4 -1v1m8 -1v1M7 45v1m4 -1v1m31 -1v1m14 -1v1m1 -1v1m1 -1v1m2 -1v1m8 -1v1m5 -1v1m5 -1v1m2 -1v1m4 -1v1m2 -1v1m2 -1v1m3 -1v1m4 -1v1m14 -1v1M5 46v1m11 -1v1m7 -1v1m19 -1v1m8 -1v1m9 -1v1m8 -1v1m2 -1v1m25 -1v1m18 -1v1m1 -1v1m1 -1v1M1 50v1m12 -1v1m13 -1v1m9 -1v1m1 -1v1m10 -1v1m16 -1v1m8 -1v1m8 -1v1m8 -1v1m1 -1v1m12 -1v1M9 51v1m1 -1v1m9 -1v1m8 -1v1m3 -1v1m12 -1v1m15 -1v1m26 -1v1m3 -1v1m15 -1v1m1 -1v1m3 -1v1m3 -1v1m3 -1v1M38 52v1M2 53v1m3 -1v1m28 -1v1m6 -1v1m16 -1v1m20 -1v1m4 -1v1m18 -1v1m2 -1v1m8 -1v1m4 -1v1M21 55v1m4 -1v1m19 -1v1m36 -1v1m2 -1v1m3 -1v1m5 -1v1m9 -1v1m13 -1v1M14 56v1m13 -1v1m2 -1v1m6 -1v1m41 -1v1m16 -1v1m10 -1v1m3 -1v1M21 58v1m8 -1v1m1 -1v1m9 -1v1m13 -1v1m8 -1v1m6 -1v1m16 -1v1m17 -1v1m12 -1v1"/>
<path transform="matrix(1.0000 0 0 8.2662 934.200 21.600)" stroke="#101229" stroke-width="1" d="M3 0v1m17 -1v1m9 -1v1m6 -1v1m22 -1v1m6 -1v1m12 -1v1m1 -1v1m4 -1v1m11 -1v1m1 -1v1m10 -1v1M17 1v1m33 -1v1m7 -1v1m20 -1v1m1 -1v1m5 -1v1M3 2v1m17 -1v1m18 -1v1m37 -1v1m9 -1v1m21 -1v1m2 -1v1M20 3v1m1 -1v1m8 -1v1m1 -1v1m2 -1v1m13 -1v1m4 -1v1m5 -1v1m1 -1v1m11 -1v1m1 -1v1m17 -1v1m11 -1v1m8 -1v1m3 -1v1m4 -1v1m1 -1v1m2 -1v1M26 4v1m13 -1v1m15 -1v1m14 -1v1m1 -1v1m36 -1v1M16 5v1m3 -1v1m1 -1v1m9 -1v1m3 -1v1m2 -1v1m12 -1v1m19 -1v1m4 -1v1m3 -1v1m12 -1v1M17 6v1m3 -1v1m15 -1v1m18 -1v1m10 -1v1m12 -1v1m8 -1v1m2 -1v1m2 -1v1m19 -1v1m4 -1v1M80 8v1m3 -1v1M15 9v1m37 -1v1m51 -1v1m1 -1v1M37 10v1m7 -1v1m18 -1v1m5 -1v1m18 -1v1m5 -1v1m20 -1v1m4 -1v1M29 11v1m54 -1v1m17 -1v1m12 -1v1M1 12v1m2 -1v1m7 -1v1m20 -1v1m3 -1v1m42 -1v1m21 -1v1m5 -1v1m1 -1v1m2 -1v1m4 -1v1m4 -1v1M5 17v1m1 -1v1m42 -1v1m27 -1v1m2 -1v1m20 -1v1m5 -1v1m2 -1v1m1 -1v1M22 18v1m27 -1v1m10 -1v1m12 -1v1m2 -1v1m2 -1v1m9 -1v1m2 -1v1m12 -1v1M67 19v1m39 -1v1m7 -1v1M2 20v1m14 -1v1m2 -1v1m14 -1v1m7 -1v1m4 -1v1m2 -1v1m3 -1v1m4 -1v1m2 -1v1m5 -1v1m5 -1v1m8 -1v1m5 -1v1m10 -1v1m2 -1v1m6 -1v1m2 -1v1m11 -1v1m4 -1v1m2 -1v1M8 21v1m4 -1v1m4 -1v1m4 -1v1m7 -1v1m3 -1v1m12 -1v1m15 -1v1m39 -1v1m4 -1v1m5 -1v1M2 22v1m1 -1v1m2 -1v1m7 -1v1m1 -1v1m5 -1v1m11 -1v1m7 -1v1m8 -1v1m20 -1v1m5 -1v1m1 -1v1m2 -1v1m4 -1v1m3 -1v1m2 -1v1m4 -1v1m3 -1v1M5 23v1m1 -1v1m3 -1v1m4 -1v1m6 -1v1m18 -1v1m8 -1v1m5 -1v1m5 -1v1m2 -1v1m5 -1v1m37 -1v1m9 -1v1m6 -1v1M19 24v1m3 -1v1m8 -1v1m7 -1v1m37 -1v1m1 -1v1m8 -1v1m3 -1v1m6 -1v1m5 -1v1m1 -1v1m1 -1v1m13 -1v1M16 25v1m1 -1v1m1 -1v1m17 -1v1m10 -1v1m2 -1v1m5 -1v1m9 -1v1m9 -1v1m2 -1v1m2 -1v1m5 -1v1m10 -1v1m2 -1v1m7 -1v1m5 -1v1m1 -1v1M1 26v1m1 -1v1m3 -1v1m6 -1v1m4 -1v1m1 -1v1m1 -1v1m21 -1v1m9 -1v1m2 -1v1m5 -1v1m12 -1v1m2 -1v1m4 -1v1m12 -1v1m13 -1v1m1 -1v1m7 -1v1m2 -1v1M25 27v1m6 -1v1m6 -1v1m3 -1v1m7 -1v1m3 -1v1m20 -1v1m4 -1v1m1 -1v1m19 -1v1m1 -1v1m1 -1v1m8 -1v1m2 -1v1M3 28v1m13 -1v1m16 -1v1m1 -1v1m28 -1v1m5 -1v1m4 -1v1m8 -1v1m4 -1v1m4 -1v1m15 -1v1m1 -1v1M5 29v1m1 -1v1m14 -1v1m7 -1v1m25 -1v1m7 -1v1m6 -1v1m7 -1v1m21 -1v1m5 -1v1M2 30v1m1 -1v1m6 -1v1m4 -1v1m2 -1v1m3 -1v1m5 -1v1m1 -1v1m11 -1v1m1 -1v1m1 -1v1m1 -1v1m36 -1v1m12 -1v1m23 -1v1M2 31v1m27 -1v1m1 -1v1m10 -1v1m13 -1v1m20 -1v1m10 -1v1m3 -1v1m15 -1v1m6 -1v1M2 32v1m17 -1v1m4 -1v1m4 -1v1m12 -1v1m19 -1v1m14 -1v1m2 -1v1m4 -1v1m14 -1v1m9 -1v1m3 -1v1m7 -1v1m1 -1v1M10 33v1m10 -1v1m8 -1v1m7 -1v1m3 -1v1m5 -1v1m3 -1v1m23 -1v1m3 -1v1m2 -1v1m15 -1v1m14 -1v1M6 34v1m2 -1v1m4 -1v1m10 -1v1m12 -1v1m4 -1v1m3 -1v1m5 -1v1m5 -1v1m10 -1v1m9 -1v1m17 -1v1m2 -1v1m3 -1v1m6 -1v1m2 -1v1m5 -1v1M6 35v1m2 -1v1m3 -1v1m12 -1v1m4 -1v1m18 -1v1m4 -1v1m2 -1v1m8 -1v1m9 -1v1m16 -1v1m4 -1v1m5 -1v1m1 -1v1m7 -1v1M8 36v1m10 -1v1m5 -1v1m1 -1v1m29 -1v1m20 -1v1m4 -1v1m9 -1v1m5 -1v1M7 37v1m8 -1v1m26 -1v1m46 -1v1M5 39v1m19 -1v1m3 -1v1m10 -1v1m1 -1v1m8 -1v1m1 -1v1m5 -1v1m6 -1v1m7 -1v1m10 -1v1m1 -1v1m20 -1v1m1 -1v1m8 -1v1m3 -1v1M1 40v1m11 -1v1m36 -1v1m3 -1v1m7 -1v1m1 -1v1m5 -1v1m8 -1v1m8 -1v1m5 -1v1m2 -1v1m5 -1v1m13 -1v1m7 -1v1M0 42v1m6 -1v1m3 -1v1m3 -1v1m15 -1v1m8 -1v1m13 -1v1m2 -1v1m10 -1v1m2 -1v1m3 -1v1m15 -1v1m2 -1v1m12 -1v1M27 47v1m3 -1v1m16 -1v1m15 -1v1m3 -1v1m7 -1v1m2 -1v1m9 -1v1m7 -1v1m7 -1v1m5 -1v1m1 -1v1m7 -1v1M57 48v1m20 -1v1m6 -1v1m6 -1v1m15 -1v1m7 -1v1M5 49v1m26 -1v1m7 -1v1m23 -1v1m1 -1v1m8 -1v1m1 -1v1m2 -1v1m13 -1v1m4 -1v1m10 -1v1M6 52v1m1 -1v1m3 -1v1m3 -1v1m9 -1v1m4 -1v1m3 -1v1m27 -1v1m19 -1v1m3 -1v1m4 -1v1m15 -1v1m3 -1v1m3 -1v1m6 -1v1M5 54v1m8 -1v1m32 -1v1m3 -1v1m1 -1v1m8 -1v1M6 57v1m3 -1v1m15 -1v1m12 -1v1m9 -1v1m1 -1v1m16 -1v1m2 -1v1m3 -1v1m26 -1v1M24 58v1M0 59v1m1 -1v1m12 -1v1m6 -1v1m11 -1v1m10 -1v1m7 -1v1m7 -1v1m11 -1v1m19 -1v1m1 -1v1m12 -1v1m11 -1v1m1 -1v1M78 60v1m6 -1v1M42 61v1m27 -1v1m3 -1v1M6 62v1M77 63v1M3 64v1m4 -1v1m2 -1v1m23 -1v1m26 -1v1m2 -1v1m7 -1v1m16 -1v1M5 65v1M23 66v1m6 -1v1m12 -1v1m37 -1v1m9 -1v1m2 -1v1M5 67v1m13 -1v1m15 -1v1m40 -1v1m3 -1v1m38 -1v1M36 69v1m1 -1v1M88 70v1m19 -1v1M94 72v1m19 -1v1M6 73v1m3 -1v1m23 -1v1m3 -1v1m21 -1v1m40 -1v1M2 74v1m32 -1v1m4 -1v1m52 -1v1m9 -1v1m9 -1v1M14 75v1m59 -1v1m10 -1v1m9 -1v1m2 -1v1m9 -1v1M11 76v1m46 -1v1m54 -1v1M7 77v1m19 -1v1m15 -1v1m32 -1v1m11 -1v1m10 -1v1M20 79v1m62 -1v1m27 -1v1"/>
<path transform="matrix(1.0000 0 0 8.2662 934.200 21.600)" stroke="#0b0c1a" stroke-width="1" d="M11 9v1M37 19v1M35 43v1"/>
<path transform="matrix(1.0000 0 0 8.2662 934.200 21.600)" stroke="#20211a" stroke-width="1" d="M4 0v1m46 -1v1m5 -1v1m28 -1v1m2 -1v1m3 -1v1m16 -1v1M8 1v1m1 -1v1m12 -1v1m19 -1v1m12 -1v1m3 -1v1m7 -1v1m1 -1v1m11 -1v1m21 -1v1m3 -1v1m4 -1v1m7 -1v1M6 2v1m2 -1v1m5 -1v1m45 -1v1M0 3v1m39 -1v1m2 -1v1m33 -1v1m22 -1v1M2 4v1m4 -1v1m13 -1v1m1 -1v1m2 -1v1m10 -1v1m4 -1v1m5 -1v1m7 -1v1m16 -1v1m23 -1v1M5 5v1m8 -1v1m45 -1v1m5 -1v1M8 6v1m8 -1v1m3 -1v1m28 -1v1m14 -1v1m48 -1v1M15 7v1m21 -1v1M0 8v1m26 -1v1m12 -1v1m55 -1v1M9 9v1m1 -1v1m12 -1v1m12 -1v1M0 10v1m11 -1v1m1 -1v1m5 -1v1m19 -1v1m2 -1v1m4 -1v1m5 -1v1m12 -1v1m13 -1v1m11 -1v1m19 -1v1M23 11v1m1 -1v1m60 -1v1M7 12v1m22 -1v1m2 -1v1m13 -1v1m5 -1v1m22 -1v1m7 -1v1m1 -1v1m18 -1v1m1 -1v1M16 13v1m5 -1v1m2 -1v1M1 14v1m38 -1v1m3 -1v1m8 -1v1M3 15v1m4 -1v1m23 -1v1m9 -1v1m5 -1v1m8 -1v1m12 -1v1m20 -1v1M0 16v1m15 -1v1m7 -1v1m14 -1v1m8 -1v1m5 -1v1M13 17v1m7 -1v1m10 -1v1m6 -1v1m2 -1v1m14 -1v1m18 -1v1m39 -1v1M5 18v1m10 -1v1m21 -1v1m58 -1v1M10 19v1m13 -1v1m2 -1v1m1 -1v1m10 -1v1m2 -1v1m3 -1v1M61 21v1m50 -1v1M56 22v1m35 -1v1M70 23v1M50 24v1m4 -1v1m19 -1v1M12 25v1m53 -1v1m12 -1v1m9 -1v1M28 26v1m54 -1v1m3 -1v1M22 27v1m22 -1v1m12 -1v1m24 -1v1m19 -1v1M88 28v1m1 -1v1M76 29v1m25 -1v1M55 30v1m22 -1v1M23 31v1m51 -1v1m40 -1v1M37 32v1m1 -1v1M13 33v1m17 -1v1m27 -1v1m35 -1v1M55 34v1m7 -1v1M77 35v1m10 -1v1m11 -1v1m1 -1v1M16 36v1m79 -1v1m8 -1v1M35 37v1m40 -1v1m1 -1v1m21 -1v1M2 39v1m1 -1v1M46 40v1m31 -1v1M32 42v1m20 -1v1m15 -1v1m45 -1v1M10 44v1m2 -1v1m31 -1v1M38 45v1m8 -1v1m13 -1v1m34 -1v1M39 47v1m20 -1v1m17 -1v1M8 48v1m9 -1v1m23 -1v1m5 -1v1m18 -1v1m17 -1v1M4 49v1m47 -1v1m12 -1v1m30 -1v1m2 -1v1M0 50v1m20 -1v1m57 -1v1m19 -1v1M5 51v1m27 -1v1m33 -1v1m16 -1v1m10 -1v1M21 52v1m45 -1v1m22 -1v1M48 53v1m52 -1v1M15 54v1m24 -1v1m31 -1v1m13 -1v1M18 55v1m12 -1v1m27 -1v1m26 -1v1m1 -1v1m27 -1v1M64 56v1m40 -1v1m7 -1v1M7 57v1M1 58v1m9 -1v1m36 -1v1M24 59v1m12 -1v1m15 -1v1m23 -1v1m27 -1v1M3 60v1m2 -1v1m5 -1v1m22 -1v1m1 -1v1m15 -1v1m15 -1v1m4 -1v1m3 -1v1m16 -1v1m9 -1v1m1 -1v1M28 61v1m8 -1v1m5 -1v1m20 -1v1m12 -1v1m15 -1v1m2 -1v1m3 -1v1m19 -1v1M4 62v1m3 -1v1m2 -1v1m2 -1v1m2 -1v1m3 -1v1m41 -1v1m10 -1v1m17 -1v1m6 -1v1m17 -1v1M1 63v1m46 -1v1m2 -1v1m11 -1v1m1 -1v1m5 -1v1m8 -1v1m5 -1v1m35 -1v1M18 64v1m5 -1v1m11 -1v1m18 -1v1m14 -1v1m9 -1v1m12 -1v1m2 -1v1m3 -1v1m20 -1v1M1 65v1m9 -1v1m2 -1v1m7 -1v1m7 -1v1m5 -1v1m2 -1v1m13 -1v1m7 -1v1m8 -1v1m2 -1v1m1 -1v1m18 -1v1m23 -1v1m7 -1v1M6 66v1m5 -1v1m32 -1v1m45 -1v1m10 -1v1M1 67v1m44 -1v1m12 -1v1m23 -1v1m6 -1v1m4 -1v1m1 -1v1M4 68v1m1 -1v1m13 -1v1m23 -1v1m6 -1v1m22 -1v1m3 -1v1m11 -1v1m6 -1v1m4 -1v1m1 -1v1m5 -1v1m9 -1v1M1 69v1m10 -1v1m12 -1v1m2 -1v1m4 -1v1m21 -1v1m4 -1v1m9 -1v1m1 -1v1m12 -1v1m1 -1v1m10 -1v1m21 -1v1m4 -1v1M15 70v1m12 -1v1m48 -1v1m11 -1v1m5 -1v1m6 -1v1M6 71v1m10 -1v1m13 -1v1m4 -1v1m8 -1v1m1 -1v1m17 -1v1m13 -1v1m15 -1v1m6 -1v1m9 -1v1M0 72v1m21 -1v1m3 -1v1m5 -1v1m16 -1v1m1 -1v1m7 -1v1m30 -1v1m3 -1v1m6 -1v1m7 -1v1m15 -1v1M3 73v1m2 -1v1m7 -1v1m17 -1v1m13 -1v1m5 -1v1m11 -1v1m25 -1v1m17 -1v1M4 74v1m16 -1v1m3 -1v1m28 -1v1m11 -1v1m13 -1v1m27 -1v1M2 75v1m4 -1v1m35 -1v1m10 -1v1m14 -1v1m4 -1v1m2 -1v1m5 -1v1m1 -1v1m4 -1v1m4 -1v1m1 -1v1m4 -1v1m12 -1v1M20 76v1m31 -1v1m5 -1v1m15 -1v1m5 -1v1m7 -1v1m6 -1v1m9 -1v1M2 77v1m20 -1v1m50 -1v1m4 -1v1M26 78v1m9 -1v1m59 -1v1M2 79v1m1 -1v1m5 -1v1m9 -1v1m12 -1v1m1 -1v1m2 -1v1m17 -1v1m10 -1v1m2 -1v1m24 -1v1m18 -1v1"/>
<path transform="matrix(1.0000 0 0 8.2662 934.200 21.600)" stroke="#34361a" stroke-width="1" d="M8 0v1m2 -1v1m28 -1v1m6 -1v1m18 -1v1m16 -1v1m32 -1v1m1 -1v1m1 -1v1M4 1v1m3 -1v1m8 -1v1m7 -1v1m1 -1v1m23 -1v1m7 -1v1m17 -1v1M11 2v1m11 -1v1m1 -1v1m6 -1v1m1 -1v1m12 -1v1m7 -1v1m16 -1v1m21 -1v1M2 3v1m1 -1v1m13 -1v1m18 -1v1m2 -1v1m2 -1v1m25 -1v1m1 -1v1m11 -1v1m2 -1v1m3 -1v1M7 4v1m3 -1v1m1 -1v1m34 -1v1m15 -1v1m36 -1v1m7 -1v1m9 -1v1M6 5v1m12 -1v1m15 -1v1m18 -1v1m9 -1v1m2 -1v1m8 -1v1m17 -1v1M12 6v1m1 -1v1m2 -1v1m3 -1v1m3 -1v1m34 -1v1m18 -1v1m24 -1v1M11 7v1m15 -1v1m17 -1v1m3 -1v1m16 -1v1M15 8v1m4 -1v1m1 -1v1m39 -1v1m48 -1v1M4 9v1m12 -1v1m32 -1v1m7 -1v1m1 -1v1m36 -1v1m2 -1v1M7 10v1m1 -1v1m23 -1v1m18 -1v1m7 -1v1m17 -1v1m1 -1v1m2 -1v1m1 -1v1M17 11v1m22 -1v1m58 -1v1m1 -1v1M39 12v1m16 -1v1m17 -1v1m10 -1v1m21 -1v1m8 -1v1M1 13v1m13 -1v1m11 -1v1m7 -1v1m48 -1v1m16 -1v1M13 14v1m5 -1v1m9 -1v1m21 -1v1m1 -1v1M2 15v1m2 -1v1m5 -1v1m22 -1v1m14 -1v1m10 -1v1m11 -1v1m12 -1v1M2 16v1m33 -1v1m29 -1v1M0 17v1m9 -1v1m3 -1v1m28 -1v1m1 -1v1m65 -1v1M7 18v1m12 -1v1m13 -1v1m3 -1v1m17 -1v1m9 -1v1M1 19v1m15 -1v1m4 -1v1m9 -1v1m14 -1v1m1 -1v1m4 -1v1m5 -1v1m37 -1v1M4 21v1M25 23v1M7 24v1M91 26v1M13 27v1M35 28v1m1 -1v1M94 29v1M26 31v1M87 32v1M15 34v1M14 39v1m1 -1v1m88 -1v1M36 40v1m33 -1v1M67 41v1m13 -1v1m32 -1v1M33 44v1m20 -1v1m7 -1v1m2 -1v1m20 -1v1m9 -1v1M27 45v1m16 -1v1m5 -1v1m41 -1v1m1 -1v1M60 46v1m11 -1v1m28 -1v1m1 -1v1M62 47v1m23 -1v1m14 -1v1M22 48v1M13 49v1m12 -1v1m14 -1v1m6 -1v1m43 -1v1m17 -1v1M14 50v1m20 -1v1m8 -1v1m8 -1v1m25 -1v1m27 -1v1M18 51v1m30 -1v1m3 -1v1m2 -1v1m8 -1v1m14 -1v1M43 52v1m33 -1v1M41 53v1m36 -1v1M22 54v1m54 -1v1m4 -1v1m20 -1v1m9 -1v1M92 55v1m16 -1v1M9 56v1m7 -1v1m9 -1v1m31 -1v1m18 -1v1m20 -1v1m5 -1v1m1 -1v1M51 57v1m29 -1v1m8 -1v1m9 -1v1m17 -1v1M2 58v1m1 -1v1m32 -1v1m61 -1v1m2 -1v1M8 59v1m1 -1v1m1 -1v1m11 -1v1m24 -1v1m1 -1v1m54 -1v1M11 60v1m1 -1v1m3 -1v1m8 -1v1m20 -1v1m6 -1v1m4 -1v1m6 -1v1m17 -1v1m1 -1v1m2 -1v1m1 -1v1m10 -1v1m1 -1v1m3 -1v1m3 -1v1m7 -1v1M3 61v1m1 -1v1m5 -1v1m11 -1v1m6 -1v1m1 -1v1m5 -1v1m3 -1v1m3 -1v1m7 -1v1m5 -1v1m8 -1v1m21 -1v1m7 -1v1m8 -1v1m14 -1v1m1 -1v1M3 62v1m14 -1v1m4 -1v1m1 -1v1m7 -1v1m9 -1v1m7 -1v1m6 -1v1m17 -1v1m11 -1v1m8 -1v1m1 -1v1m1 -1v1m3 -1v1m1 -1v1m2 -1v1m7 -1v1m3 -1v1m1 -1v1m8 -1v1M7 63v1m4 -1v1m11 -1v1m2 -1v1m1 -1v1m2 -1v1m15 -1v1m11 -1v1m14 -1v1m14 -1v1m32 -1v1M0 64v1m14 -1v1m1 -1v1m1 -1v1m1 -1v1m2 -1v1m19 -1v1m11 -1v1m6 -1v1m10 -1v1m14 -1v1m12 -1v1m6 -1v1m13 -1v1M0 65v1m18 -1v1m2 -1v1m18 -1v1m1 -1v1m19 -1v1m9 -1v1m1 -1v1m11 -1v1m4 -1v1m5 -1v1m12 -1v1m7 -1v1m1 -1v1m2 -1v1m3 -1v1M3 66v1m6 -1v1m6 -1v1m5 -1v1m5 -1v1m3 -1v1m8 -1v1m23 -1v1m13 -1v1m1 -1v1m29 -1v1m2 -1v1m4 -1v1M3 67v1m13 -1v1m13 -1v1m7 -1v1m47 -1v1m1 -1v1m11 -1v1m6 -1v1m4 -1v1m7 -1v1M0 68v1m1 -1v1m7 -1v1m3 -1v1m2 -1v1m4 -1v1m2 -1v1m26 -1v1m3 -1v1m25 -1v1m1 -1v1m11 -1v1m2 -1v1m4 -1v1m7 -1v1m8 -1v1M12 69v1m4 -1v1m3 -1v1m3 -1v1m6 -1v1m15 -1v1m22 -1v1m2 -1v1m15 -1v1m7 -1v1m3 -1v1m1 -1v1m20 -1v1M6 70v1m15 -1v1m14 -1v1m8 -1v1m7 -1v1m3 -1v1m18 -1v1m6 -1v1m21 -1v1m3 -1v1M7 71v1m36 -1v1m7 -1v1m1 -1v1m5 -1v1m34 -1v1m5 -1v1m8 -1v1m9 -1v1m2 -1v1M5 72v1m5 -1v1m18 -1v1m2 -1v1m3 -1v1m1 -1v1m1 -1v1m7 -1v1m7 -1v1m2 -1v1m10 -1v1m2 -1v1m8 -1v1m8 -1v1m21 -1v1m7 -1v1m1 -1v1m3 -1v1M2 73v1m12 -1v1m9 -1v1m2 -1v1m21 -1v1m6 -1v1m3 -1v1m14 -1v1m9 -1v1m8 -1v1m4 -1v1m16 -1v1M21 74v1m6 -1v1m1 -1v1m13 -1v1m11 -1v1m4 -1v1m8 -1v1m4 -1v1m15 -1v1m1 -1v1m5 -1v1m3 -1v1m19 -1v1M11 75v1m4 -1v1m4 -1v1m4 -1v1m3 -1v1m3 -1v1m14 -1v1m1 -1v1m10 -1v1m1 -1v1m12 -1v1m3 -1v1m17 -1v1m10 -1v1M8 76v1m9 -1v1m43 -1v1m14 -1v1m13 -1v1m5 -1v1m1 -1v1m16 -1v1M12 77v1m7 -1v1m1 -1v1m1 -1v1m17 -1v1m1 -1v1m8 -1v1m9 -1v1m6 -1v1m1 -1v1m27 -1v1m5 -1v1m1 -1v1m8 -1v1m1 -1v1m1 -1v1M1 78v1m19 -1v1m8 -1v1m4 -1v1m8 -1v1m4 -1v1m1 -1v1m6 -1v1m1 -1v1m20 -1v1m3 -1v1m2 -1v1m3 -1v1m3 -1v1m5 -1v1m8 -1v1m12 -1v1m1 -1v1M4 79v1m10 -1v1m1 -1v1m43 -1v1m14 -1v1m15 -1v1m4 -1v1m2 -1v1m5 -1v1m8 -1v1"/>
<path transform="matrix(1.0000 0 0 8.2662 934.200 21.600)" stroke="#4a4d22" stroke-width="1" d="M1 0v1m4 -1v1m6 -1v1m7 -1v1m29 -1v1m2 -1v1m52 -1v1M3 1v1m22 -1v1m8 -1v1m12 -1v1M2 2v1m8 -1v1m18 -1v1m55 -1v1M70 3v1M8 4v1m19 -1v1m44 -1v1m13 -1v1m23 -1v1M3 5v1m25 -1v1m7 -1v1m46 -1v1M22 6v1m6 -1v1m32 -1v1M3 7v1m22 -1v1m14 -1v1m2 -1v1m36 -1v1M4 8v1m9 -1v1m5 -1v1m14 -1v1m19 -1v1m7 -1v1m38 -1v1M8 9v1m16 -1v1m37 -1v1m6 -1v1m9 -1v1m17 -1v1M25 10v1m1 -1v1m1 -1v1M6 11v1m21 -1v1m23 -1v1m4 -1v1m3 -1v1m9 -1v1m1 -1v1m3 -1v1m8 -1v1M4 12v1m16 -1v1m21 -1v1m9 -1v1M6 13v1m23 -1v1m17 -1v1m10 -1v1m14 -1v1m25 -1v1M24 14v1m47 -1v1M5 15v1m1 -1v1m43 -1v1m1 -1v1m13 -1v1m19 -1v1m9 -1v1m12 -1v1M3 16v1m11 -1v1m3 -1v1m1 -1v1m24 -1v1m6 -1v1M2 17v1m6 -1v1m20 -1v1m5 -1v1m1 -1v1m19 -1v1m16 -1v1M16 18v1m7 -1v1m1 -1v1m9 -1v1m11 -1v1m46 -1v1m21 -1v1M9 19v1m10 -1v1m8 -1v1m4 -1v1m11 -1v1m14 -1v1m2 -1v1m30 -1v1M2 24v1m13 -1v1M93 26v1M52 27v1M7 28v1m76 -1v1M36 29v1m8 -1v1m18 -1v1M26 30v1m38 -1v1m16 -1v1m1 -1v1M77 31v1M89 32v1M61 33v1m48 -1v1m4 -1v1M45 34v1M57 35v1M23 38v1m19 -1v1m34 -1v1m17 -1v1M43 40v1m54 -1v1M12 41v1m4 -1v1m3 -1v1m9 -1v1m13 -1v1m16 -1v1m19 -1v1m7 -1v1M4 42v1m10 -1v1m90 -1v1M0 44v1m30 -1v1M40 45v1m1 -1v1m9 -1v1m12 -1v1M72 46v1m15 -1v1m11 -1v1m7 -1v1M18 47v1m37 -1v1m19 -1v1m20 -1v1m4 -1v1M19 48v1m24 -1v1m3 -1v1m2 -1v1m51 -1v1M28 49v1m4 -1v1m21 -1v1m15 -1v1m21 -1v1m13 -1v1m6 -1v1m5 -1v1m1 -1v1M17 50v1m14 -1v1m12 -1v1m11 -1v1m15 -1v1m4 -1v1m15 -1v1m9 -1v1M94 51v1M57 52v1m10 -1v1m25 -1v1m16 -1v1m4 -1v1M0 53v1m60 -1v1m21 -1v1M54 54v1m25 -1v1m7 -1v1m15 -1v1m1 -1v1M27 55v1m29 -1v1m37 -1v1M20 56v1m20 -1v1m42 -1v1M57 57v1m4 -1v1m35 -1v1M91 58v1m9 -1v1M111 59v1M7 60v1m2 -1v1m22 -1v1m9 -1v1m16 -1v1m43 -1v1m6 -1v1m1 -1v1M2 61v1m15 -1v1m16 -1v1m1 -1v1m5 -1v1m8 -1v1m29 -1v1m6 -1v1M1 62v1m25 -1v1m1 -1v1m10 -1v1m3 -1v1m3 -1v1m1 -1v1m31 -1v1m21 -1v1M0 63v1m6 -1v1m8 -1v1m3 -1v1m2 -1v1m2 -1v1m10 -1v1m12 -1v1m5 -1v1m4 -1v1m6 -1v1m13 -1v1m24 -1v1m8 -1v1m3 -1v1m1 -1v1m3 -1v1M1 64v1m3 -1v1m8 -1v1m10 -1v1m7 -1v1m4 -1v1m8 -1v1m20 -1v1m8 -1v1m7 -1v1m12 -1v1m18 -1v1m3 -1v1M8 65v1m8 -1v1m11 -1v1m15 -1v1m6 -1v1m24 -1v1m22 -1v1m7 -1v1m8 -1v1M10 66v1m6 -1v1m5 -1v1m3 -1v1m28 -1v1m25 -1v1m5 -1v1m11 -1v1m21 -1v1M0 67v1m10 -1v1m4 -1v1m7 -1v1m1 -1v1m6 -1v1m4 -1v1m6 -1v1m1 -1v1m4 -1v1m18 -1v1m8 -1v1m5 -1v1m3 -1v1m16 -1v1M21 68v1m8 -1v1m14 -1v1m1 -1v1m2 -1v1m8 -1v1m1 -1v1m10 -1v1m12 -1v1m7 -1v1m4 -1v1m7 -1v1m2 -1v1m6 -1v1M7 69v1m1 -1v1m9 -1v1m27 -1v1m7 -1v1m8 -1v1m7 -1v1m4 -1v1m5 -1v1m6 -1v1m17 -1v1M11 70v1m5 -1v1m10 -1v1m6 -1v1m1 -1v1m1 -1v1m26 -1v1m29 -1v1m5 -1v1m1 -1v1M5 71v1m18 -1v1m4 -1v1m1 -1v1m2 -1v1m6 -1v1m3 -1v1m25 -1v1m5 -1v1m14 -1v1m3 -1v1m5 -1v1m8 -1v1m6 -1v1m5 -1v1M1 72v1m12 -1v1m1 -1v1m23 -1v1m7 -1v1m11 -1v1m14 -1v1m11 -1v1m4 -1v1m4 -1v1m1 -1v1m9 -1v1m3 -1v1M8 73v1m5 -1v1m6 -1v1m1 -1v1m8 -1v1m21 -1v1m31 -1v1m32 -1v1M0 74v1m19 -1v1m5 -1v1m2 -1v1m20 -1v1m11 -1v1m4 -1v1m4 -1v1M4 75v1m4 -1v1m31 -1v1m1 -1v1m16 -1v1m7 -1v1m11 -1v1m6 -1v1m9 -1v1m9 -1v1M3 76v1m2 -1v1m17 -1v1m1 -1v1m3 -1v1m26 -1v1m2 -1v1m8 -1v1m4 -1v1m37 -1v1m3 -1v1M17 77v1m1 -1v1m11 -1v1m6 -1v1m24 -1v1m5 -1v1m1 -1v1m10 -1v1m4 -1v1m28 -1v1M5 78v1m6 -1v1m1 -1v1m12 -1v1m1 -1v1m9 -1v1m3 -1v1m2 -1v1m10 -1v1m8 -1v1m9 -1v1m4 -1v1m3 -1v1m5 -1v1m24 -1v1m2 -1v1m1 -1v1M0 79v1m11 -1v1m7 -1v1m6 -1v1m1 -1v1m3 -1v1m8 -1v1m6 -1v1m28 -1v1m5 -1v1m13 -1v1m1 -1v1m7 -1v1m17 -1v1"/>
<path transform="matrix(1.0000 0 0 8.2662 934.200 21.600)" stroke="#60642a" stroke-width="1" d="M6 0v1m20 -1v1m15 -1v1m4 -1v1M20 1v1m40 -1v1m19 -1v1M0 2v1m19 -1v1m31 -1v1M26 3v1m39 -1v1M12 4v1m1 -1v1m24 -1v1m10 -1v1M7 5v1m3 -1v1m12 -1v1M5 6v1m19 -1v1m1 -1v1m20 -1v1M6 7v1m2 -1v1m2 -1v1m30 -1v1m4 -1v1M5 8v1m3 -1v1m61 -1v1m5 -1v1M13 9v1m12 -1v1m43 -1v1M15 10v1m56 -1v1m8 -1v1M14 11v1m7 -1v1m10 -1v1m10 -1v1m8 -1v1m14 -1v1M14 12v1m3 -1v1m25 -1v1m1 -1v1M15 13v1m2 -1v1m22 -1v1m30 -1v1M7 14v1m10 -1v1m8 -1v1m8 -1v1m5 -1v1m31 -1v1m25 -1v1M26 15v1m3 -1v1m52 -1v1m4 -1v1M6 16v1m5 -1v1m59 -1v1M16 17v1m13 -1v1m13 -1v1m1 -1v1m2 -1v1m4 -1v1m14 -1v1m28 -1v1M8 18v1m2 -1v1m24 -1v1m3 -1v1m32 -1v1m3 -1v1m38 -1v1M81 19v1m23 -1v1M20 23v1M52 26v1M49 28v1m46 -1v1m8 -1v1M35 29v1M83 30v1M66 31v1m40 -1v1M30 32v1M22 33v1M30 34v1m24 -1v1m45 -1v1M73 35v1M51 36v1m30 -1v1M49 37v1m61 -1v1M2 38v1m12 -1v1m65 -1v1m7 -1v1m15 -1v1m5 -1v1m4 -1v1M50 39v1m1 -1v1M28 40v1m65 -1v1m1 -1v1m2 -1v1m2 -1v1m5 -1v1M14 41v1m4 -1v1m31 -1v1m23 -1v1m41 -1v1M26 42v1m43 -1v1M2 43v1m30 -1v1m9 -1v1m18 -1v1m6 -1v1M24 44v1m1 -1v1M26 45v1m19 -1v1m4 -1v1m3 -1v1m42 -1v1M3 46v1m4 -1v1m2 -1v1m28 -1v1m2 -1v1m29 -1v1m42 -1v1M77 47v1m30 -1v1m5 -1v1M29 48v1m18 -1v1M10 49v1m30 -1v1M32 50v1m40 -1v1m21 -1v1M47 51v1m53 -1v1M5 52v1m11 -1v1m1 -1v1m51 -1v1m22 -1v1M1 53v1m6 -1v1m6 -1v1m53 -1v1m4 -1v1M9 54v1m68 -1v1m21 -1v1m9 -1v1M14 55v1m18 -1v1m23 -1v1m5 -1v1m12 -1v1m1 -1v1M6 56v1m71 -1v1m18 -1v1M12 57v1m11 -1v1m51 -1v1m5 -1v1m7 -1v1M81 58v1M7 59v1m53 -1v1m6 -1v1M19 60v1m2 -1v1m4 -1v1m13 -1v1m20 -1v1m35 -1v1M1 61v1m12 -1v1m1 -1v1m4 -1v1m48 -1v1m4 -1v1m11 -1v1m11 -1v1m7 -1v1M19 62v1m15 -1v1m1 -1v1m4 -1v1m14 -1v1m1 -1v1m1 -1v1m5 -1v1m17 -1v1M4 63v1m25 -1v1m15 -1v1m2 -1v1m5 -1v1m8 -1v1m3 -1v1m6 -1v1m1 -1v1m1 -1v1m6 -1v1m9 -1v1m19 -1v1m1 -1v1M11 64v1m32 -1v1m4 -1v1m12 -1v1m19 -1v1m20 -1v1M14 65v1m3 -1v1m8 -1v1m11 -1v1m33 -1v1m22 -1v1m2 -1v1m4 -1v1M18 66v1m15 -1v1m7 -1v1m7 -1v1m6 -1v1m2 -1v1m25 -1v1m10 -1v1m1 -1v1m20 -1v1M2 67v1m6 -1v1m5 -1v1m27 -1v1m4 -1v1m15 -1v1m29 -1v1m20 -1v1m1 -1v1M20 68v1m13 -1v1m19 -1v1m14 -1v1m12 -1v1m18 -1v1m9 -1v1m7 -1v1M2 69v1m16 -1v1m3 -1v1m9 -1v1m12 -1v1m7 -1v1m3 -1v1m16 -1v1m18 -1v1m2 -1v1m9 -1v1m3 -1v1m1 -1v1m8 -1v1M5 70v1m12 -1v1m11 -1v1m16 -1v1m4 -1v1m11 -1v1m3 -1v1m19 -1v1m28 -1v1m1 -1v1M1 71v1m8 -1v1m2 -1v1m1 -1v1m1 -1v1m4 -1v1m2 -1v1m19 -1v1m8 -1v1m2 -1v1m10 -1v1m2 -1v1m1 -1v1m10 -1v1m3 -1v1m1 -1v1m5 -1v1m12 -1v1m2 -1v1m3 -1v1m12 -1v1M22 72v1m1 -1v1m2 -1v1m29 -1v1m6 -1v1m4 -1v1m39 -1v1M7 73v1m3 -1v1m1 -1v1m13 -1v1m3 -1v1m34 -1v1m11 -1v1m10 -1v1m7 -1v1m3 -1v1M47 74v1m19 -1v1m16 -1v1m15 -1v1m9 -1v1M5 75v1m7 -1v1m9 -1v1m9 -1v1m31 -1v1m1 -1v1m4 -1v1m13 -1v1M15 76v1m3 -1v1m6 -1v1m3 -1v1m1 -1v1m6 -1v1m1 -1v1m10 -1v1m20 -1v1m34 -1v1M36 77v1m18 -1v1m1 -1v1m2 -1v1m1 -1v1m8 -1v1m3 -1v1m41 -1v1m4 -1v1M2 78v1m4 -1v1m1 -1v1m1 -1v1m2 -1v1m3 -1v1m34 -1v1m18 -1v1m4 -1v1m2 -1v1m29 -1v1m13 -1v1M5 79v1m7 -1v1m33 -1v1m10 -1v1m5 -1v1m32 -1v1m3 -1v1"/>
<path transform="matrix(1.0000 0 0 8.2662 934.200 21.600)" stroke="#777b31" stroke-width="1" d="M0 0v1m13 -1v1m12 -1v1m6 -1v1m1 -1v1m14 -1v1m15 -1v1M1 1v1m1 -1v1m10 -1v1m18 -1v1m5 -1v1m8 -1v1M16 2v1m2 -1v1m9 -1v1m7 -1v1m17 -1v1M22 3v1m2 -1v1m34 -1v1m29 -1v1m7 -1v1M74 4v1M0 5v1m39 -1v1m1 -1v1m14 -1v1m35 -1v1m16 -1v1M3 6v1m3 -1v1m1 -1v1m72 -1v1M14 7v1m8 -1v1m20 -1v1m9 -1v1M12 8v1m5 -1v1m6 -1v1m1 -1v1m22 -1v1m32 -1v1M0 9v1m1 -1v1m2 -1v1m23 -1v1m5 -1v1m4 -1v1m4 -1v1m49 -1v1m7 -1v1M24 10v1m21 -1v1m3 -1v1m10 -1v1M8 11v1m2 -1v1m20 -1v1m38 -1v1m17 -1v1m1 -1v1m1 -1v1m4 -1v1M18 12v1m46 -1v1M8 13v1m1 -1v1m13 -1v1M32 14v1m63 -1v1m11 -1v1m1 -1v1M10 15v1m4 -1v1m22 -1v1M9 16v1m11 -1v1m9 -1v1m1 -1v1m3 -1v1m40 -1v1M3 17v1M29 18v1m19 -1v1m3 -1v1m5 -1v1M0 19v1m6 -1v1m16 -1v1m11 -1v1m54 -1v1M87 24v1M29 26v1M71 28v1M80 29v1m5 -1v1M28 30v1m16 -1v1m40 -1v1M79 31v1M103 32v1M15 33v1m90 -1v1M67 34v1m44 -1v1M29 35v1m47 -1v1M70 36v1m1 -1v1m9 -1v1m19 -1v1M47 37v1m3 -1v1m18 -1v1m3 -1v1M12 38v1m20 -1v1M11 40v1m23 -1v1m7 -1v1m14 -1v1m7 -1v1m6 -1v1m7 -1v1M0 41v1m23 -1v1m15 -1v1m12 -1v1M34 42v1m23 -1v1M91 43v1M2 44v1m29 -1v1m41 -1v1M70 45v1m6 -1v1M10 46v1m1 -1v1m4 -1v1m2 -1v1m14 -1v1m46 -1v1m34 -1v1M49 47v1m32 -1v1m9 -1v1m5 -1v1m13 -1v1M18 49v1m5 -1v1m80 -1v1M8 50v1m76 -1v1m14 -1v1M114 51v1M18 52v1m1 -1v1m30 -1v1m10 -1v1m43 -1v1M3 53v1m31 -1v1M91 54v1M3 55v1M65 56v1m8 -1v1M26 57v1m6 -1v1m11 -1v1m10 -1v1m5 -1v1m53 -1v1M33 58v1M55 59v1m32 -1v1m23 -1v1M1 60v1m13 -1v1m10 -1v1m3 -1v1m12 -1v1m5 -1v1m8 -1v1m8 -1v1m38 -1v1m9 -1v1m2 -1v1m4 -1v1M8 61v1m14 -1v1m15 -1v1m3 -1v1m4 -1v1m13 -1v1m8 -1v1m41 -1v1M8 62v1m17 -1v1m46 -1v1m14 -1v1m6 -1v1m13 -1v1m6 -1v1M15 63v1m17 -1v1m5 -1v1m13 -1v1m39 -1v1m1 -1v1m4 -1v1m7 -1v1m7 -1v1M24 64v1m1 -1v1m21 -1v1m10 -1v1m28 -1v1M51 65v1m8 -1v1m17 -1v1m10 -1v1m1 -1v1M17 66v1m15 -1v1m14 -1v1m2 -1v1m1 -1v1m1 -1v1m4 -1v1m12 -1v1m43 -1v1m4 -1v1M9 67v1m14 -1v1m12 -1v1m32 -1v1m18 -1v1m7 -1v1m8 -1v1m2 -1v1M3 68v1m25 -1v1m6 -1v1m15 -1v1m9 -1v1m4 -1v1m1 -1v1m8 -1v1m4 -1v1m7 -1v1m18 -1v1m2 -1v1m7 -1v1M20 69v1m7 -1v1m5 -1v1m3 -1v1m11 -1v1m14 -1v1m14 -1v1m17 -1v1m8 -1v1m3 -1v1m2 -1v1m2 -1v1m4 -1v1M2 70v1m18 -1v1m16 -1v1m1 -1v1m8 -1v1m2 -1v1m4 -1v1m14 -1v1m7 -1v1m20 -1v1m16 -1v1m3 -1v1M22 71v1m2 -1v1m2 -1v1m19 -1v1m8 -1v1m1 -1v1m1 -1v1m2 -1v1m5 -1v1m4 -1v1m7 -1v1m5 -1v1m1 -1v1m6 -1v1m11 -1v1m12 -1v1M2 72v1m4 -1v1m3 -1v1m22 -1v1m45 -1v1m1 -1v1m8 -1v1M18 73v1m16 -1v1m23 -1v1m30 -1v1m1 -1v1m9 -1v1m1 -1v1m9 -1v1m7 -1v1M78 74v1m3 -1v1m4 -1v1M3 75v1m4 -1v1m2 -1v1m59 -1v1m20 -1v1m13 -1v1m3 -1v1M0 76v1m1 -1v1m24 -1v1m7 -1v1m21 -1v1m16 -1v1m4 -1v1m12 -1v1m11 -1v1m14 -1v1M9 77v1m7 -1v1m62 -1v1m5 -1v1m5 -1v1m4 -1v1m7 -1v1m10 -1v1M4 78v1m5 -1v1m24 -1v1m3 -1v1m24 -1v1m24 -1v1m19 -1v1m8 -1v1M6 79v1m7 -1v1m14 -1v1m6 -1v1m2 -1v1m6 -1v1m21 -1v1m1 -1v1m2 -1v1m2 -1v1m1 -1v1m3 -1v1m7 -1v1m2 -1v1m1 -1v1m24 -1v1m6 -1v1"/>
<path transform="matrix(1.0000 0 0 8.2662 934.200 21.600)" stroke="#8e9238" stroke-width="1" d="M7 0v1m29 -1v1M5 1v1m5 -1v1m22 -1v1m17 -1v1m22 -1v1m15 -1v1m7 -1v1M32 2v1m4 -1v1M19 3v1M23 4v1m6 -1v1m4 -1v1m17 -1v1m7 -1v1M9 5v1m3 -1v1m12 -1v1m26 -1v1m46 -1v1m11 -1v1M9 6v1m22 -1v1m9 -1v1m40 -1v1M5 7v1m51 -1v1M21 8v1m1 -1v1m90 -1v1m1 -1v1M38 9v1m7 -1v1m63 -1v1M1 10v1m22 -1v1m34 -1v1m8 -1v1m1 -1v1m3 -1v1m23 -1v1m1 -1v1M0 11v1m2 -1v1m36 -1v1m55 -1v1M12 12v1m1 -1v1m10 -1v1m4 -1v1m9 -1v1M2 13v1m5 -1v1m19 -1v1m7 -1v1m10 -1v1m5 -1v1m2 -1v1m1 -1v1m26 -1v1M2 14v1m6 -1v1M0 15v1m35 -1v1M4 16v1m3 -1v1m18 -1v1m18 -1v1m24 -1v1M4 17v1m10 -1v1m13 -1v1m44 -1v1M3 18v1m9 -1v1M12 19v1m5 -1v1m7 -1v1m6 -1v1m35 -1v1M113 24v1M3 26v1M76 28v1m4 -1v1M3 29v1M107 32v1M4 33v1m27 -1v1m76 -1v1M17 34v1m1 -1v1m78 -1v1M1 35v1m21 -1v1M13 36v1m85 -1v1M8 37v1m65 -1v1m28 -1v1m1 -1v1m5 -1v1M30 38v1M7 39v1m12 -1v1m30 -1v1M29 40v1m27 -1v1m20 -1v1m5 -1v1m28 -1v1m1 -1v1M43 41v1m20 -1v1m2 -1v1m1 -1v1m2 -1v1m1 -1v1m1 -1v1m21 -1v1M56 42v1m5 -1v1M13 44v1m15 -1v1m83 -1v1M39 45v1M1 46v1m1 -1v1m18 -1v1m63 -1v1M3 47v1m7 -1v1m33 -1v1m1 -1v1m35 -1v1m7 -1v1M2 48v1m1 -1v1m38 -1v1m23 -1v1M15 49v1m26 -1v1m35 -1v1m8 -1v1M22 50v1m67 -1v1M1 52v1m3 -1v1m31 -1v1m26 -1v1m3 -1v1m29 -1v1m3 -1v1M40 53v1m6 -1v1m38 -1v1M2 54v1m25 -1v1m13 -1v1m27 -1v1m37 -1v1M11 55v1m24 -1v1m18 -1v1m10 -1v1m31 -1v1m7 -1v1M30 56v1m49 -1v1M2 57v1m19 -1v1m1 -1v1m41 -1v1m14 -1v1M7 58v1m10 -1v1M83 59v1M6 60v1m23 -1v1m18 -1v1m4 -1v1m4 -1v1m6 -1v1M12 61v1m3 -1v1m44 -1v1m3 -1v1m13 -1v1m28 -1v1m11 -1v1M15 62v1m15 -1v1m1 -1v1m1 -1v1m10 -1v1m31 -1v1m1 -1v1M10 63v1m18 -1v1m2 -1v1m4 -1v1m4 -1v1m1 -1v1m16 -1v1m32 -1v1m5 -1v1m7 -1v1m10 -1v1M27 64v1m21 -1v1m3 -1v1m26 -1v1m18 -1v1m1 -1v1m4 -1v1m11 -1v1m3 -1v1M6 65v1m5 -1v1m24 -1v1m17 -1v1m18 -1v1m5 -1v1m17 -1v1m3 -1v1M2 66v1m10 -1v1m15 -1v1m10 -1v1m38 -1v1m4 -1v1m15 -1v1m18 -1v1M49 67v1m1 -1v1m8 -1v1m4 -1v1m35 -1v1m1 -1v1m13 -1v1M7 68v1m2 -1v1m13 -1v1m1 -1v1m3 -1v1m30 -1v1m3 -1v1m5 -1v1m3 -1v1m19 -1v1m18 -1v1m10 -1v1M0 69v1m15 -1v1m41 -1v1m17 -1v1m12 -1v1m5 -1v1M0 70v1m8 -1v1m5 -1v1m18 -1v1m15 -1v1m23 -1v1m10 -1v1m5 -1v1M2 71v1m79 -1v1M4 72v1m3 -1v1m13 -1v1m16 -1v1m2 -1v1m1 -1v1m13 -1v1m7 -1v1m3 -1v1m3 -1v1m17 -1v1m15 -1v1m5 -1v1M15 73v1m7 -1v1m8 -1v1m3 -1v1m8 -1v1m12 -1v1m26 -1v1m20 -1v1M8 74v1m10 -1v1m77 -1v1m1 -1v1m8 -1v1m6 -1v1M45 75v1m4 -1v1m4 -1v1m55 -1v1m5 -1v1M19 76v1m2 -1v1m22 -1v1m1 -1v1m17 -1v1m9 -1v1m5 -1v1m9 -1v1m7 -1v1m11 -1v1M10 77v1m27 -1v1m3 -1v1m13 -1v1m48 -1v1m2 -1v1m5 -1v1M22 78v1m88 -1v1m4 -1v1M31 79v1m7 -1v1m8 -1v1m7 -1v1m1 -1v1"/>
<path transform="matrix(1.0000 0 0 8.2662 934.200 21.600)" stroke="#a7ab38" stroke-width="1" d="M21 0v1m38 -1v1m9 -1v1m27 -1v1M0 1v1m13 -1v1m29 -1v1M15 2v1m22 -1v1m9 -1v1m43 -1v1m19 -1v1M23 3v1m8 -1v1M15 4v1m37 -1v1m46 -1v1M38 5v1m4 -1v1m6 -1v1M49 6v1m52 -1v1M0 7v1m2 -1v1m32 -1v1m16 -1v1m23 -1v1m3 -1v1m5 -1v1M44 8v1m9 -1v1m37 -1v1M12 9v1m16 -1v1m36 -1v1m1 -1v1m14 -1v1M30 10v1m40 -1v1m21 -1v1M16 11v1m6 -1v1m39 -1v1m16 -1v1M8 12v1m17 -1v1m31 -1v1M10 13v1m2 -1v1m15 -1v1m4 -1v1m11 -1v1m10 -1v1m34 -1v1M11 14v1m50 -1v1m43 -1v1M16 15v1m1 -1v1m31 -1v1M5 16v1m14 -1v1m7 -1v1m50 -1v1m12 -1v1m3 -1v1M1 17v1m10 -1v1m45 -1v1M0 18v1m13 -1v1m1 -1v1m3 -1v1m10 -1v1m13 -1v1m7 -1v1m20 -1v1m32 -1v1M2 19v1m16 -1v1m3 -1v1m41 -1v1M41 23v1M82 30v1M18 35v1M14 36v1M2 37v1m55 -1v1M17 39v1M25 41v1m19 -1v1M14 44v1m13 -1v1m14 -1v1m7 -1v1m25 -1v1m34 -1v1m7 -1v1M19 45v1m6 -1v1m29 -1v1m9 -1v1m37 -1v1m1 -1v1M35 46v1m58 -1v1M16 47v1M6 48v1m12 -1v1m14 -1v1m54 -1v1m8 -1v1m2 -1v1M14 49v1M5 50v1m96 -1v1M4 51v1m42 -1v1M84 52v1M22 53v1m2 -1v1M0 54v1m58 -1v1m2 -1v1m1 -1v1m4 -1v1M9 55v1m8 -1v1M12 56v1M48 57v1M4 58v1m24 -1v1m20 -1v1m15 -1v1m29 -1v1m1 -1v1M93 59v1m10 -1v1M13 60v1m22 -1v1m52 -1v1M6 61v1m19 -1v1m18 -1v1m12 -1v1m12 -1v1m22 -1v1m9 -1v1m13 -1v1M0 62v1m12 -1v1m6 -1v1m2 -1v1m3 -1v1m1 -1v1m32 -1v1m3 -1v1m3 -1v1m7 -1v1m7 -1v1m4 -1v1m6 -1v1m17 -1v1m8 -1v1m1 -1v1M54 63v1m11 -1v1m17 -1v1m11 -1v1m5 -1v1m14 -1v1M5 64v1m5 -1v1m29 -1v1m1 -1v1m22 -1v1m2 -1v1m7 -1v1m9 -1v1m1 -1v1m4 -1v1m1 -1v1m8 -1v1m8 -1v1m2 -1v1M4 65v1m33 -1v1m41 -1v1m33 -1v1M42 66v1m2 -1v1m1 -1v1m6 -1v1m5 -1v1m4 -1v1m11 -1v1m3 -1v1m25 -1v1m4 -1v1M31 67v1m6 -1v1m11 -1v1m6 -1v1m2 -1v1m8 -1v1m18 -1v1m12 -1v1M10 68v1m6 -1v1m8 -1v1m14 -1v1m22 -1v1m8 -1v1m11 -1v1m13 -1v1M33 69v1m1 -1v1m4 -1v1m3 -1v1m17 -1v1m3 -1v1m19 -1v1m34 -1v1M10 70v1m12 -1v1m42 -1v1m18 -1v1m21 -1v1m10 -1v1M3 71v1m12 -1v1m16 -1v1m18 -1v1m27 -1v1m22 -1v1m2 -1v1m11 -1v1M26 72v1m14 -1v1m17 -1v1m18 -1v1m15 -1v1m5 -1v1M16 73v1m15 -1v1m6 -1v1m6 -1v1m2 -1v1m15 -1v1m6 -1v1m15 -1v1M13 74v1m22 -1v1m9 -1v1m1 -1v1m53 -1v1m3 -1v1m4 -1v1M25 75v1m8 -1v1m25 -1v1m33 -1v1m20 -1v1m3 -1v1M4 76v1m12 -1v1m22 -1v1m8 -1v1m2 -1v1m47 -1v1M31 77v1m14 -1v1m3 -1v1m12 -1v1m52 -1v1M16 78v1m5 -1v1m32 -1v1m15 -1v1m13 -1v1m4 -1v1M16 79v1m5 -1v1m19 -1v1m11 -1v1m26 -1v1m27 -1v1"/>
<path transform="matrix(1.0000 0 0 8.2662 934.200 21.600)" stroke="#c0c438" stroke-width="1" d="M31 1v1M1 2v1m6 -1v1m38 -1v1m12 -1v1m6 -1v1m18 -1v1m1 -1v1m14 -1v1M4 3v1m6 -1v1m2 -1v1m5 -1v1m1 -1v1M28 4v1m2 -1v1m33 -1v1m23 -1v1M31 5v1m6 -1v1M39 6v1m9 -1v1m29 -1v1M24 7v1m7 -1v1m23 -1v1m3 -1v1M36 8v1m52 -1v1M5 9v1m12 -1v1m1 -1v1m5 -1v1M25 11v1m8 -1v1m10 -1v1m10 -1v1M21 12v1M30 13v1m23 -1v1m8 -1v1M40 14v1m13 -1v1m11 -1v1M8 15v1m17 -1v1M8 16v1m15 -1v1m4 -1v1m20 -1v1m15 -1v1m1 -1v1M23 17v1m39 -1v1m20 -1v1M18 18v1m24 -1v1m63 -1v1M3 19v1m4 -1v1m7 -1v1M34 44v1m12 -1v1m9 -1v1m16 -1v1M97 45v1m10 -1v1M20 48v1m70 -1v1m19 -1v1M1 49v1m7 -1v1M15 50v1m12 -1v1m84 -1v1m2 -1v1M35 51v1m3 -1v1m1 -1v1m4 -1v1M17 53v1m6 -1v1M42 54v1m20 -1v1m16 -1v1M2 55v1m24 -1v1m61 -1v1m18 -1v1M15 56v1m8 -1v1m1 -1v1m29 -1v1m6 -1v1m8 -1v1m4 -1v1m42 -1v1M15 58v1m7 -1v1m33 -1v1m1 -1v1m46 -1v1m1 -1v1m1 -1v1M78 59v1m12 -1v1M20 60v1m34 -1v1m21 -1v1m33 -1v1m6 -1v1M5 61v1m24 -1v1m27 -1v1m21 -1v1m6 -1v1m2 -1v1m25 -1v1M10 62v1m31 -1v1m41 -1v1m31 -1v1M2 63v1m1 -1v1m20 -1v1m3 -1v1m30 -1v1m22 -1v1m2 -1v1m6 -1v1M50 64v1m20 -1v1m4 -1v1M22 65v1m21 -1v1m6 -1v1m17 -1v1m18 -1v1m30 -1v1M4 66v1m3 -1v1m12 -1v1m19 -1v1m24 -1v1m6 -1v1m1 -1v1m15 -1v1M19 67v1m1 -1v1m5 -1v1m1 -1v1m16 -1v1m9 -1v1m4 -1v1m11 -1v1m4 -1v1m17 -1v1m12 -1v1m5 -1v1M2 68v1m33 -1v1m1 -1v1m4 -1v1m2 -1v1m38 -1v1m10 -1v1m17 -1v1m4 -1v1M10 69v1m16 -1v1m13 -1v1m14 -1v1m4 -1v1m22 -1v1m26 -1v1M12 70v1m6 -1v1m20 -1v1m1 -1v1m3 -1v1m10 -1v1m6 -1v1m22 -1v1m10 -1v1m22 -1v1M34 71v1m13 -1v1m54 -1v1M17 72v1m33 -1v1m20 -1v1m35 -1v1m4 -1v1m1 -1v1m2 -1v1M1 73v1m43 -1v1m21 -1v1m12 -1v1m7 -1v1M3 74v1m47 -1v1m9 -1v1m27 -1v1m23 -1v1m5 -1v1M1 75v1m19 -1v1m2 -1v1m12 -1v1m1 -1v1m1 -1v1m14 -1v1m50 -1v1m7 -1v1M6 76v1m8 -1v1m17 -1v1m18 -1v1m29 -1v1m1 -1v1m11 -1v1m4 -1v1m11 -1v1m9 -1v1M0 77v1m14 -1v1m13 -1v1m1 -1v1m4 -1v1m1 -1v1M0 78v1m15 -1v1m2 -1v1m2 -1v1m4 -1v1m15 -1v1m3 -1v1m9 -1v1m5 -1v1m24 -1v1m18 -1v1M7 79v1m15 -1v1m21 -1v1m26 -1v1m7 -1v1m25 -1v1"/>
<path transform="matrix(1.0000 0 0 8.2662 934.200 21.600)" stroke="#d6d536" stroke-width="1" d="M9 0v1m24 -1v1m36 -1v1M29 1v1m55 -1v1m3 -1v1M4 2v1m60 -1v1m2 -1v1M11 3v1m2 -1v1m2 -1v1m31 -1v1m59 -1v1m9 -1v1M9 4v1m25 -1v1m17 -1v1m29 -1v1M8 5v1m3 -1v1m33 -1v1m9 -1v1M11 6v1m16 -1v1m2 -1v1m52 -1v1m13 -1v1M55 7v1M34 8v1m31 -1v1M6 9v1m43 -1v1m13 -1v1m20 -1v1m24 -1v1M3 11v1M37 12v1m3 -1v1m8 -1v1M35 13v1m31 -1v1m39 -1v1M10 14v1m37 -1v1M19 15v1m43 -1v1M7 17v1m12 -1v1m13 -1v1M6 18v1m37 -1v1m11 -1v1m12 -1v1m4 -1v1m10 -1v1M4 19v1m1 -1v1m10 -1v1m31 -1v1M69 44v1M83 45v1M14 48v1m21 -1v1M24 49v1m9 -1v1m9 -1v1M92 50v1M8 51v1m28 -1v1m18 -1v1m2 -1v1M45 53v1m4 -1v1M10 54v1m53 -1v1m1 -1v1m10 -1v1m40 -1v1M54 55v1M31 56v1m3 -1v1m17 -1v1m1 -1v1m6 -1v1M69 58v1m26 -1v1M38 59v1m1 -1v1m13 -1v1m21 -1v1M2 60v1m15 -1v1m5 -1v1m24 -1v1m20 -1v1m2 -1v1m3 -1v1m3 -1v1m7 -1v1m1 -1v1m28 -1v1M23 61v1m1 -1v1m7 -1v1m32 -1v1m1 -1v1m4 -1v1m23 -1v1m4 -1v1m18 -1v1M5 62v1m31 -1v1m11 -1v1m5 -1v1m26 -1v1m3 -1v1m17 -1v1m1 -1v1M5 63v1m3 -1v1m5 -1v1m20 -1v1m40 -1v1m18 -1v1m5 -1v1m1 -1v1m3 -1v1m2 -1v1M20 64v1m8 -1v1m40 -1v1M21 65v1m13 -1v1m20 -1v1m1 -1v1m7 -1v1m28 -1v1M1 66v1m12 -1v1m17 -1v1m9 -1v1m58 -1v1M24 67v1m10 -1v1m31 -1v1m13 -1v1m3 -1v1m25 -1v1m1 -1v1M25 68v1m5 -1v1m1 -1v1m1 -1v1m18 -1v1m1 -1v1m10 -1v1m20 -1v1m29 -1v1M55 69v1M1 70v1m13 -1v1m40 -1v1m3 -1v1m28 -1v1m15 -1v1M4 71v1m4 -1v1m6 -1v1m4 -1v1m34 -1v1m15 -1v1m40 -1v1M8 72v1m7 -1v1m4 -1v1m47 -1v1m21 -1v1m4 -1v1M17 73v1m86 -1v1M5 74v1m32 -1v1m11 -1v1m31 -1v1m21 -1v1M17 75v1m1 -1v1m39 -1v1m25 -1v1m17 -1v1m10 -1v1m1 -1v1m2 -1v1M13 76v1m24 -1v1m30 -1v1m14 -1v1m19 -1v1m4 -1v1M15 77v1m8 -1v1m19 -1v1m2 -1v1m8 -1v1m25 -1v1m12 -1v1M48 78v1m8 -1v1m2 -1v1m29 -1v1M47 79v1m17 -1v1m15 -1v1m33 -1v1"/>
<path transform="matrix(1.0000 0 0 8.2662 934.200 21.600)" stroke="#ebe634" stroke-width="1" d="M14 0v1M6 1v1m55 -1v1m8 -1v1M69 2v1M5 3v1m4 -1v1m18 -1v1M58 4v1M66 5v1m8 -1v1m18 -1v1M60 7v1M7 8v1m7 -1v1m27 -1v1M7 9v1m12 -1v1m1 -1v1M33 10v1M12 11v1M53 12v1M11 13v1m7 -1v1m1 -1v1m22 -1v1M28 14v1m30 -1v1m5 -1v1M37 15v1m1 -1v1m18 -1v1M39 16v1m2 -1v1M64 18v1M32 19v1M59 44v1M105 48v1M37 49v1M45 50v1m20 -1v1M44 53v1M48 55v1m16 -1v1M11 56v1m72 -1v1m25 -1v1M16 58v1m51 -1v1M94 59v1m1 -1v1M0 60v1m28 -1v1m2 -1v1m7 -1v1m20 -1v1m26 -1v1m2 -1v1M11 61v1m35 -1v1m5 -1v1m9 -1v1M14 62v1m19 -1v1m25 -1v1m6 -1v1m45 -1v1M41 63v1m34 -1v1M6 64v1m20 -1v1m4 -1v1m12 -1v1m11 -1v1m10 -1v1M77 65v1m12 -1v1M63 66v1m20 -1v1m22 -1v1M7 67v1m34 -1v1m27 -1v1m3 -1v1m25 -1v1M14 68v1m13 -1v1m10 -1v1M45 69v1m66 -1v1M24 70v1M0 71v1m37 -1v1m45 -1v1M11 72v1m5 -1v1m25 -1v1m2 -1v1m35 -1v1m18 -1v1M48 73v1m2 -1v1m14 -1v1m3 -1v1m4 -1v1m31 -1v1M6 74v1m1 -1v1m4 -1v1m14 -1v1m29 -1v1m49 -1v1M0 75v1m13 -1v1m11 -1v1m36 -1v1M30 76v1m6 -1v1m19 -1v1M13 77v1m11 -1v1m6 -1v1m13 -1v1m44 -1v1M3 78v1m39 -1v1m34 -1v1m23 -1v1m13 -1v1M48 79v1m26 -1v1"/>
</g></g>
<rect x="718.0" y="21.6" width="2.0" height="661.3" fill="#fff"/>
<rect x="783.7" y="21.6" width="1.9" height="661.3" fill="#fff"/>
<rect x="931.9" y="21.6" width="1.8" height="661.3" fill="#fff"/>
<rect x="645.6" y="682.9" width="72.4" height="11.6" fill="#d71e32"/>
<rect x="720.0" y="682.9" width="63.7" height="11.6" fill="#eb7d2d"/>
<rect x="785.6" y="682.9" width="146.3" height="11.6" fill="#ece12c"/>
<rect x="933.7" y="682.9" width="115.0" height="11.6" fill="#3454ab"/>
<g font-family='"Liberation Sans", sans-serif' font-size="10.2" fill="#2a2a2a" stroke="#2a2a2a" stroke-width="0.3" text-anchor="end" transform="translate(644.0 0) scale(0.955 1) translate(-644.0 0)"><text x="644.0" y="30.1">AIM2</text><text x="644.0" y="38.4">KCNN4</text><text x="644.0" y="46.6">SCIMP</text><text x="644.0" y="54.9">TNFRSF13B</text><text x="644.0" y="63.1">NEK6</text><text x="644.0" y="71.4">ITGB1</text><text x="644.0" y="79.6">KYNU</text><text x="644.0" y="87.9">DEK</text><text x="644.0" y="96.2">DOK3</text><text x="644.0" y="104.4">CD82</text><text x="644.0" y="112.7">PLEK</text><text x="644.0" y="120.9">PKM</text><text x="644.0" y="129.2">TBCB</text><text x="644.0" y="137.5">COTL1</text><text x="644.0" y="145.7">ACP5</text><text x="644.0" y="154.0">LRMP</text><text x="644.0" y="162.2">CAPG</text><text x="644.0" y="170.5">QRSL1</text><text x="644.0" y="178.7">LRCH3</text><text x="644.0" y="187.0">NLRC5</text><text x="644.0" y="195.3">SDC1</text><text x="644.0" y="203.5">HID1</text><text x="644.0" y="211.8">CHPF</text><text x="644.0" y="220.0">AQP3</text><text x="644.0" y="228.3">NUCB2</text><text x="644.0" y="236.5">PYCR1</text><text x="644.0" y="244.8">FNDC3B</text><text x="644.0" y="253.1">TRIB1</text><text x="644.0" y="261.3">FKBP11</text><text x="644.0" y="269.6">SPAG4</text><text x="644.0" y="277.8">SDF2L1</text><text x="644.0" y="286.1">SEC24A</text><text x="644.0" y="294.4">LGALS3</text><text x="644.0" y="302.6">IGLV6-57</text><text x="644.0" y="310.9">TMEM184B</text><text x="644.0" y="319.1">PRDX4</text><text x="644.0" y="327.4">ERN1</text><text x="644.0" y="335.6">PRDM1</text><text x="644.0" y="343.9">XBP1</text><text x="644.0" y="352.2">TRAM2</text><text x="644.0" y="360.4">CHI3L2</text><text x="644.0" y="368.7">TCL1A</text><text x="644.0" y="376.9">LAIR1</text><text x="644.0" y="385.2">IGHD</text><text x="644.0" y="393.5">IL4R</text><text x="644.0" y="401.7">COL19A1</text><text x="644.0" y="410.0">FCER2</text><text x="644.0" y="418.2">SORL1</text><text x="644.0" y="426.5">PIK3C2B</text><text x="644.0" y="434.7">C1orf162</text><text x="644.0" y="443.0">CD72</text><text x="644.0" y="451.3">FAM129C</text><text x="644.0" y="459.5">FAM26F</text><text x="644.0" y="467.8">AFF3</text><text x="644.0" y="476.0">CR2</text><text x="644.0" y="484.3">BTLA</text><text x="644.0" y="492.5">HVCN1</text><text x="644.0" y="500.8">IFI44L</text><text x="644.0" y="509.1">CAMK2D</text><text x="644.0" y="517.3">GBP4</text><text x="644.0" y="525.6">NR4A3</text><text x="644.0" y="533.8">ZNF165</text><text x="644.0" y="542.1">HSPH1</text><text x="644.0" y="550.4">KDM6B</text><text x="644.0" y="558.6">PRMT10</text><text x="644.0" y="566.9">CREM</text><text x="644.0" y="575.1">CKS2</text><text x="644.0" y="583.4">SC5D</text><text x="644.0" y="591.6">NR4A1</text><text x="644.0" y="599.9">TGIF1</text><text x="644.0" y="608.2">CDKN1A</text><text x="644.0" y="616.4">ATP1B3</text><text x="644.0" y="624.7">NFKBID</text><text x="644.0" y="632.9">AREG</text><text x="644.0" y="641.2">ARRDC2</text><text x="644.0" y="649.4">ARL4A</text><text x="644.0" y="657.7">DUSP10</text><text x="644.0" y="666.0">ZNF141</text><text x="644.0" y="674.2">EGR1</text><text x="644.0" y="682.5">RILPL2</text></g>
<g font-family='"Liberation Sans", sans-serif' font-size="11" fill="#222" text-anchor="middle"><text x="675" y="709.8">G1</text><text x="733.2" y="709.8">G2</text><text x="854.6" y="709.8">G3</text><text x="993.4" y="709.8">G4</text></g>
<rect x="666.50" y="722.20" width="9.97" height="12.00" fill="#283996"/><rect x="676.17" y="722.20" width="9.97" height="12.00" fill="#2a368c"/><rect x="685.85" y="722.20" width="9.97" height="12.00" fill="#2a3280"/><rect x="695.52" y="722.20" width="9.97" height="12.00" fill="#2a2c76"/><rect x="705.19" y="722.20" width="9.97" height="12.00" fill="#262664"/><rect x="714.87" y="722.20" width="9.97" height="12.00" fill="#1e2050"/><rect x="724.54" y="722.20" width="9.97" height="12.00" fill="#12142a"/><rect x="734.21" y="722.20" width="9.97" height="12.00" fill="#0a0b12"/><rect x="743.89" y="722.20" width="9.97" height="12.00" fill="#2a2c16"/><rect x="753.56" y="722.20" width="9.97" height="12.00" fill="#484c22"/><rect x="763.23" y="722.20" width="9.97" height="12.00" fill="#686e2e"/><rect x="772.91" y="722.20" width="9.97" height="12.00" fill="#888e3a"/><rect x="782.58" y="722.20" width="9.97" height="12.00" fill="#a8b03c"/><rect x="792.25" y="722.20" width="9.97" height="12.00" fill="#c8ce3a"/><rect x="801.93" y="722.20" width="9.97" height="12.00" fill="#e8e234"/><rect x="666.50" y="722.20" width="145.10" height="12.00" fill="none" stroke="#777" stroke-width="0.8"/>
<g font-family='"Liberation Sans", sans-serif' font-size="10" fill="#1e1e1e" stroke="#1e1e1e" stroke-width="0.2"><text x="663" y="733.0" text-anchor="end">-2.5</text><text x="814.2" y="733.0">+2.5</text></g>
</svg>
</body></html>
